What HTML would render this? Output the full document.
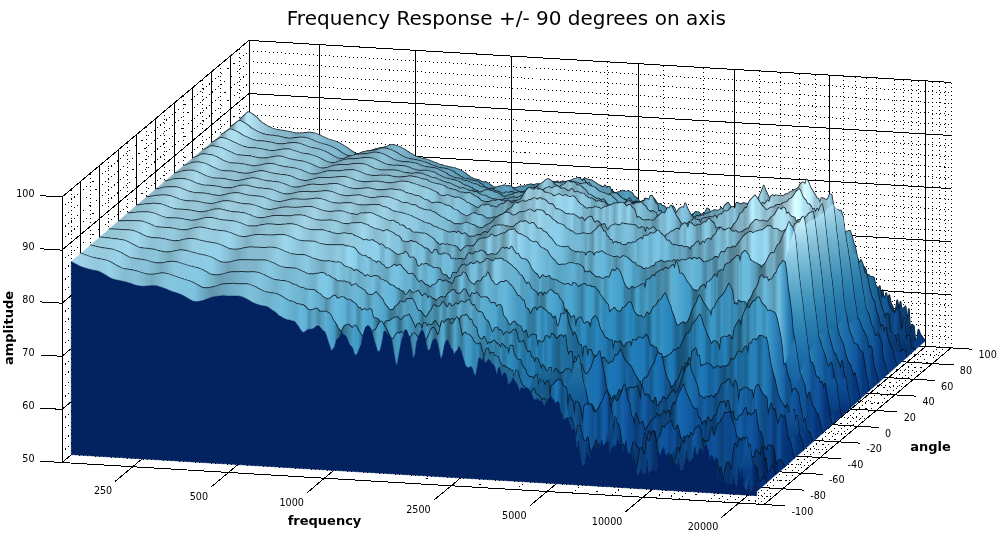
<!DOCTYPE html>
<html><head><meta charset="utf-8"><style>
html,body{margin:0;padding:0;background:#fff}
svg{display:block}
text{font-family:"DejaVu Sans","Liberation Sans",sans-serif;fill:#000}
.s path{stroke-width:2;stroke-linejoin:round}
.s .ln{fill:none;stroke:#050c14;stroke-width:7.2}
</style></head><body>
<svg width="1000" height="538" viewBox="0 0 1000 538">
<defs><linearGradient id="g0" gradientUnits="userSpaceOnUse" x1="921" x2="3701" y1="0" y2="0"><stop offset="0.008" stop-color="#6e909c"/><stop offset="0.015" stop-color="#74949f"/><stop offset="0.024" stop-color="#b8e7f8"/><stop offset="0.064" stop-color="#86b6c9"/><stop offset="0.083" stop-color="#87b9cd"/><stop offset="0.097" stop-color="#78a5b6"/><stop offset="0.123" stop-color="#8bc0d4"/><stop offset="0.142" stop-color="#7eb2c7"/><stop offset="0.166" stop-color="#7bb5cd"/><stop offset="0.177" stop-color="#6ca4bb"/><stop offset="0.184" stop-color="#527c8d"/><stop offset="0.187" stop-color="#527b8c"/><stop offset="0.206" stop-color="#6491a3"/><stop offset="0.222" stop-color="#638d9e"/><stop offset="0.229" stop-color="#79acc0"/><stop offset="0.243" stop-color="#7fb8cf"/><stop offset="0.272" stop-color="#689eb4"/><stop offset="0.312" stop-color="#5e96ad"/><stop offset="0.333" stop-color="#61a2be"/><stop offset="0.347" stop-color="#4f89a3"/><stop offset="0.359" stop-color="#4d88a2"/><stop offset="0.368" stop-color="#5397b5"/><stop offset="0.382" stop-color="#4785a1"/><stop offset="0.389" stop-color="#396a80"/><stop offset="0.408" stop-color="#437a92"/><stop offset="0.413" stop-color="#4f91ae"/><stop offset="0.427" stop-color="#4d8eab"/><stop offset="0.434" stop-color="#467f98"/><stop offset="0.441" stop-color="#5192af"/><stop offset="0.453" stop-color="#5198b7"/><stop offset="0.460" stop-color="#3e7791"/><stop offset="0.472" stop-color="#396a81"/><stop offset="0.484" stop-color="#47849f"/><stop offset="0.491" stop-color="#3a6b80"/><stop offset="0.502" stop-color="#406f83"/><stop offset="0.507" stop-color="#4b7f95"/><stop offset="0.516" stop-color="#447185"/><stop offset="0.524" stop-color="#538ba3"/><stop offset="0.533" stop-color="#5693ad"/><stop offset="0.549" stop-color="#457b92"/><stop offset="0.571" stop-color="#57a2c3"/><stop offset="0.587" stop-color="#3d7893"/><stop offset="0.592" stop-color="#3f7e9a"/><stop offset="0.597" stop-color="#366c84"/><stop offset="0.604" stop-color="#4a91b1"/><stop offset="0.606" stop-color="#4991b1"/><stop offset="0.613" stop-color="#39728c"/><stop offset="0.618" stop-color="#3e819f"/><stop offset="0.627" stop-color="#336e89"/><stop offset="0.639" stop-color="#377c9d"/><stop offset="0.648" stop-color="#347899"/><stop offset="0.653" stop-color="#2b637f"/><stop offset="0.658" stop-color="#2b627d"/><stop offset="0.665" stop-color="#3d8bb0"/><stop offset="0.670" stop-color="#347b9d"/><stop offset="0.688" stop-color="#2c6e90"/><stop offset="0.698" stop-color="#235a76"/><stop offset="0.712" stop-color="#2d647d"/><stop offset="0.717" stop-color="#3b7d9c"/><stop offset="0.721" stop-color="#3a81a2"/><stop offset="0.731" stop-color="#2e6d8b"/><stop offset="0.735" stop-color="#31789c"/><stop offset="0.754" stop-color="#2a7daa"/><stop offset="0.768" stop-color="#1d5574"/><stop offset="0.773" stop-color="#24668a"/><stop offset="0.785" stop-color="#266f97"/><stop offset="0.794" stop-color="#1c5576"/><stop offset="0.813" stop-color="#1f6a96"/><stop offset="0.825" stop-color="#17547c"/><stop offset="0.837" stop-color="#175985"/><stop offset="0.844" stop-color="#144f78"/><stop offset="0.851" stop-color="#165784"/><stop offset="0.863" stop-color="#134d75"/><stop offset="0.870" stop-color="#186398"/><stop offset="0.884" stop-color="#114b78"/><stop offset="0.886" stop-color="#125082"/><stop offset="0.888" stop-color="#104773"/><stop offset="0.891" stop-color="#125183"/><stop offset="0.896" stop-color="#104877"/><stop offset="0.903" stop-color="#115086"/><stop offset="0.907" stop-color="#0e3f6a"/><stop offset="0.914" stop-color="#114d80"/><stop offset="0.917" stop-color="#104a7a"/><stop offset="0.924" stop-color="#145c9a"/><stop offset="0.929" stop-color="#0e4475"/><stop offset="0.936" stop-color="#114e83"/><stop offset="0.938" stop-color="#0f4472"/><stop offset="0.945" stop-color="#104d84"/><stop offset="0.947" stop-color="#0d4273"/><stop offset="0.954" stop-color="#0d4375"/><stop offset="0.957" stop-color="#0f4b85"/><stop offset="0.959" stop-color="#0c4174"/><stop offset="0.966" stop-color="#0c3e71"/><stop offset="0.969" stop-color="#0d4680"/><stop offset="0.971" stop-color="#0a396d"/><stop offset="0.980" stop-color="#062d60"/><stop offset="0.987" stop-color="#073c82"/><stop offset="0.992" stop-color="#06387e"/></linearGradient><linearGradient id="g1" gradientUnits="userSpaceOnUse" x1="0" x2="0" y1="1225" y2="1368"><stop offset="0.00" stop-color="#0d4477"/><stop offset="0.20" stop-color="#0c3f73"/><stop offset="0.40" stop-color="#0b3b70"/><stop offset="0.60" stop-color="#09376c"/><stop offset="0.80" stop-color="#073267"/><stop offset="1.00" stop-color="#052c60"/></linearGradient><linearGradient id="g2" gradientUnits="userSpaceOnUse" x1="884" x2="3663" y1="0" y2="0"><stop offset="0.008" stop-color="#7194a0"/><stop offset="0.015" stop-color="#74949f"/><stop offset="0.024" stop-color="#b2e1f1"/><stop offset="0.034" stop-color="#aee1f3"/><stop offset="0.064" stop-color="#8ab9cb"/><stop offset="0.083" stop-color="#8dbed1"/><stop offset="0.100" stop-color="#7da9b9"/><stop offset="0.123" stop-color="#91c4d7"/><stop offset="0.142" stop-color="#85b7ca"/><stop offset="0.166" stop-color="#83bbd1"/><stop offset="0.177" stop-color="#75aac0"/><stop offset="0.187" stop-color="#5c8596"/><stop offset="0.208" stop-color="#6f9dae"/><stop offset="0.222" stop-color="#6d97a7"/><stop offset="0.229" stop-color="#7eaec1"/><stop offset="0.246" stop-color="#86bdd3"/><stop offset="0.272" stop-color="#6fa2b6"/><stop offset="0.293" stop-color="#73aac1"/><stop offset="0.312" stop-color="#6598ad"/><stop offset="0.330" stop-color="#6da9c2"/><stop offset="0.347" stop-color="#5990a7"/><stop offset="0.368" stop-color="#5e9cb7"/><stop offset="0.387" stop-color="#4b8198"/><stop offset="0.411" stop-color="#5ea3c1"/><stop offset="0.436" stop-color="#44778d"/><stop offset="0.448" stop-color="#47798e"/><stop offset="0.455" stop-color="#5189a2"/><stop offset="0.462" stop-color="#447489"/><stop offset="0.469" stop-color="#427084"/><stop offset="0.507" stop-color="#548396"/><stop offset="0.514" stop-color="#4f7a8c"/><stop offset="0.524" stop-color="#69a2b9"/><stop offset="0.540" stop-color="#68a6c1"/><stop offset="0.547" stop-color="#5d98b2"/><stop offset="0.561" stop-color="#5998b3"/><stop offset="0.571" stop-color="#4b8199"/><stop offset="0.585" stop-color="#5496b2"/><stop offset="0.587" stop-color="#4c89a3"/><stop offset="0.594" stop-color="#4b8aa6"/><stop offset="0.599" stop-color="#40758c"/><stop offset="0.611" stop-color="#4d8ba6"/><stop offset="0.613" stop-color="#49849e"/><stop offset="0.615" stop-color="#5293b0"/><stop offset="0.620" stop-color="#5296b4"/><stop offset="0.622" stop-color="#4b89a4"/><stop offset="0.632" stop-color="#519abb"/><stop offset="0.646" stop-color="#3e7f9d"/><stop offset="0.662" stop-color="#3f8aac"/><stop offset="0.670" stop-color="#306b87"/><stop offset="0.677" stop-color="#377591"/><stop offset="0.679" stop-color="#356d87"/><stop offset="0.681" stop-color="#3d7d9a"/><stop offset="0.688" stop-color="#326880"/><stop offset="0.693" stop-color="#3a7792"/><stop offset="0.707" stop-color="#367591"/><stop offset="0.717" stop-color="#3e86a7"/><stop offset="0.719" stop-color="#367592"/><stop offset="0.724" stop-color="#3a7793"/><stop offset="0.735" stop-color="#4894b7"/><stop offset="0.745" stop-color="#347491"/><stop offset="0.754" stop-color="#347ea2"/><stop offset="0.764" stop-color="#2c749a"/><stop offset="0.766" stop-color="#27698b"/><stop offset="0.768" stop-color="#2a7095"/><stop offset="0.775" stop-color="#235b78"/><stop offset="0.780" stop-color="#2a6a8b"/><stop offset="0.790" stop-color="#2a6685"/><stop offset="0.799" stop-color="#327b9f"/><stop offset="0.804" stop-color="#3b93c0"/><stop offset="0.820" stop-color="#215d7e"/><stop offset="0.827" stop-color="#215f80"/><stop offset="0.830" stop-color="#1e5674"/><stop offset="0.851" stop-color="#1d5573"/><stop offset="0.858" stop-color="#20668d"/><stop offset="0.863" stop-color="#1c5d83"/><stop offset="0.870" stop-color="#1f6a9a"/><stop offset="0.884" stop-color="#17567f"/><stop offset="0.891" stop-color="#196191"/><stop offset="0.893" stop-color="#165783"/><stop offset="0.900" stop-color="#175d8e"/><stop offset="0.903" stop-color="#14517d"/><stop offset="0.905" stop-color="#155583"/><stop offset="0.912" stop-color="#11466d"/><stop offset="0.914" stop-color="#134f7a"/><stop offset="0.931" stop-color="#12486e"/><stop offset="0.933" stop-color="#16547e"/><stop offset="0.943" stop-color="#14517b"/><stop offset="0.945" stop-color="#15598a"/><stop offset="0.947" stop-color="#134e7a"/><stop offset="0.954" stop-color="#145d9a"/><stop offset="0.959" stop-color="#12599a"/><stop offset="0.964" stop-color="#0d4376"/><stop offset="0.971" stop-color="#0e4f94"/><stop offset="0.978" stop-color="#09366a"/><stop offset="0.980" stop-color="#093c78"/><stop offset="0.987" stop-color="#06316a"/><stop offset="0.992" stop-color="#063677"/></linearGradient><linearGradient id="g3" gradientUnits="userSpaceOnUse" x1="0" x2="0" y1="1275" y2="1411"><stop offset="0.00" stop-color="#0e4982"/><stop offset="0.20" stop-color="#0d447e"/><stop offset="0.40" stop-color="#0b407a"/><stop offset="0.60" stop-color="#0a3b76"/><stop offset="0.80" stop-color="#07356f"/><stop offset="1.00" stop-color="#052e68"/></linearGradient><linearGradient id="g4" gradientUnits="userSpaceOnUse" x1="846" x2="3626" y1="0" y2="0"><stop offset="0.008" stop-color="#769ba7"/><stop offset="0.015" stop-color="#7798a3"/><stop offset="0.024" stop-color="#acd9e9"/><stop offset="0.034" stop-color="#addff0"/><stop offset="0.064" stop-color="#8ebdce"/><stop offset="0.086" stop-color="#91c2d4"/><stop offset="0.102" stop-color="#81acbc"/><stop offset="0.126" stop-color="#96c8db"/><stop offset="0.142" stop-color="#8bbccf"/><stop offset="0.166" stop-color="#8bc2d7"/><stop offset="0.177" stop-color="#7cb1c6"/><stop offset="0.187" stop-color="#6690a0"/><stop offset="0.208" stop-color="#79a7b9"/><stop offset="0.222" stop-color="#76a0b1"/><stop offset="0.248" stop-color="#8dc3d8"/><stop offset="0.272" stop-color="#75a6b9"/><stop offset="0.293" stop-color="#7eb5ca"/><stop offset="0.312" stop-color="#6e9fb3"/><stop offset="0.330" stop-color="#77b0c7"/><stop offset="0.347" stop-color="#659aaf"/><stop offset="0.380" stop-color="#66a4be"/><stop offset="0.392" stop-color="#609eb8"/><stop offset="0.394" stop-color="#558da4"/><stop offset="0.399" stop-color="#52879c"/><stop offset="0.408" stop-color="#5a94ac"/><stop offset="0.415" stop-color="#52889f"/><stop offset="0.427" stop-color="#5b99b3"/><stop offset="0.434" stop-color="#4b7e93"/><stop offset="0.443" stop-color="#487689"/><stop offset="0.455" stop-color="#609ab2"/><stop offset="0.458" stop-color="#5a90a7"/><stop offset="0.465" stop-color="#5f98b0"/><stop offset="0.469" stop-color="#56889e"/><stop offset="0.474" stop-color="#5e96ad"/><stop offset="0.481" stop-color="#4f7a8c"/><stop offset="0.488" stop-color="#547f90"/><stop offset="0.491" stop-color="#6091a5"/><stop offset="0.502" stop-color="#6698ac"/><stop offset="0.516" stop-color="#5f8c9e"/><stop offset="0.524" stop-color="#76adc4"/><stop offset="0.547" stop-color="#659bb1"/><stop offset="0.554" stop-color="#568599"/><stop offset="0.561" stop-color="#6198af"/><stop offset="0.568" stop-color="#548599"/><stop offset="0.578" stop-color="#66a3bd"/><stop offset="0.592" stop-color="#63a8c5"/><stop offset="0.599" stop-color="#4d869e"/><stop offset="0.615" stop-color="#528da6"/><stop offset="0.622" stop-color="#437286"/><stop offset="0.639" stop-color="#589dbc"/><stop offset="0.651" stop-color="#3f7891"/><stop offset="0.662" stop-color="#447f9a"/><stop offset="0.670" stop-color="#3e7087"/><stop offset="0.681" stop-color="#529aba"/><stop offset="0.688" stop-color="#427c96"/><stop offset="0.693" stop-color="#529bbc"/><stop offset="0.700" stop-color="#45829e"/><stop offset="0.705" stop-color="#4888a5"/><stop offset="0.719" stop-color="#3a6b80"/><stop offset="0.728" stop-color="#4b8fae"/><stop offset="0.731" stop-color="#4383a0"/><stop offset="0.733" stop-color="#498ead"/><stop offset="0.735" stop-color="#407d98"/><stop offset="0.738" stop-color="#4283a1"/><stop offset="0.740" stop-color="#3b748e"/><stop offset="0.743" stop-color="#4789a7"/><stop offset="0.745" stop-color="#4383a0"/><stop offset="0.752" stop-color="#51a5cb"/><stop offset="0.771" stop-color="#2e6985"/><stop offset="0.773" stop-color="#357796"/><stop offset="0.778" stop-color="#357999"/><stop offset="0.790" stop-color="#2d6782"/><stop offset="0.797" stop-color="#3780a2"/><stop offset="0.801" stop-color="#2e6b89"/><stop offset="0.808" stop-color="#2e6b89"/><stop offset="0.811" stop-color="#29607b"/><stop offset="0.839" stop-color="#30647c"/><stop offset="0.841" stop-color="#38738e"/><stop offset="0.848" stop-color="#37718b"/><stop offset="0.853" stop-color="#4187a6"/><stop offset="0.858" stop-color="#3d89ac"/><stop offset="0.870" stop-color="#2e779d"/><stop offset="0.877" stop-color="#205c7c"/><stop offset="0.893" stop-color="#1b5779"/><stop offset="0.900" stop-color="#1e638b"/><stop offset="0.903" stop-color="#1b587c"/><stop offset="0.914" stop-color="#1b587b"/><stop offset="0.917" stop-color="#1e6188"/><stop offset="0.924" stop-color="#195477"/><stop offset="0.940" stop-color="#1e6086"/><stop offset="0.947" stop-color="#2070a2"/><stop offset="0.969" stop-color="#0f4b86"/><stop offset="0.973" stop-color="#0b3c6f"/><stop offset="0.976" stop-color="#0c447e"/><stop offset="0.978" stop-color="#0a396d"/><stop offset="0.980" stop-color="#0b407a"/><stop offset="0.992" stop-color="#073a7f"/></linearGradient><linearGradient id="g5" gradientUnits="userSpaceOnUse" x1="0" x2="0" y1="1312" y2="1411"><stop offset="0.00" stop-color="#0d447a"/><stop offset="0.20" stop-color="#0c4177"/><stop offset="0.40" stop-color="#0b3d75"/><stop offset="0.60" stop-color="#0a3a72"/><stop offset="0.80" stop-color="#09376f"/><stop offset="1.00" stop-color="#07336a"/></linearGradient><linearGradient id="g6" gradientUnits="userSpaceOnUse" x1="809" x2="3588" y1="0" y2="0"><stop offset="0.008" stop-color="#7ba1ae"/><stop offset="0.015" stop-color="#7a9da9"/><stop offset="0.024" stop-color="#a6d2e1"/><stop offset="0.034" stop-color="#abdbec"/><stop offset="0.067" stop-color="#90bfd0"/><stop offset="0.086" stop-color="#94c5d7"/><stop offset="0.104" stop-color="#82adbd"/><stop offset="0.126" stop-color="#99cbdd"/><stop offset="0.144" stop-color="#8ebfd1"/><stop offset="0.166" stop-color="#91c7dc"/><stop offset="0.189" stop-color="#6e98a8"/><stop offset="0.208" stop-color="#81afc0"/><stop offset="0.222" stop-color="#7ca8b8"/><stop offset="0.248" stop-color="#93c8dc"/><stop offset="0.272" stop-color="#7baabc"/><stop offset="0.293" stop-color="#84b8cd"/><stop offset="0.312" stop-color="#709daf"/><stop offset="0.330" stop-color="#80b5ca"/><stop offset="0.345" stop-color="#74a8bd"/><stop offset="0.366" stop-color="#76b0c7"/><stop offset="0.387" stop-color="#68a1b8"/><stop offset="0.396" stop-color="#57879b"/><stop offset="0.406" stop-color="#6ca8c1"/><stop offset="0.420" stop-color="#6aaac4"/><stop offset="0.439" stop-color="#528499"/><stop offset="0.453" stop-color="#639cb3"/><stop offset="0.479" stop-color="#507a8b"/><stop offset="0.500" stop-color="#5b8291"/><stop offset="0.509" stop-color="#78abbf"/><stop offset="0.516" stop-color="#7eb4c9"/><stop offset="0.524" stop-color="#6590a1"/><stop offset="0.531" stop-color="#6590a0"/><stop offset="0.535" stop-color="#72a1b4"/><stop offset="0.540" stop-color="#6a96a7"/><stop offset="0.545" stop-color="#7bb0c4"/><stop offset="0.561" stop-color="#7ebad3"/><stop offset="0.580" stop-color="#6ea9c1"/><stop offset="0.589" stop-color="#70b2ce"/><stop offset="0.597" stop-color="#64a4bf"/><stop offset="0.604" stop-color="#477487"/><stop offset="0.613" stop-color="#4b798c"/><stop offset="0.620" stop-color="#5e95ab"/><stop offset="0.627" stop-color="#528295"/><stop offset="0.634" stop-color="#6eaec8"/><stop offset="0.646" stop-color="#477486"/><stop offset="0.648" stop-color="#477386"/><stop offset="0.660" stop-color="#5991a8"/><stop offset="0.662" stop-color="#53889e"/><stop offset="0.667" stop-color="#5993ab"/><stop offset="0.670" stop-color="#66a8c4"/><stop offset="0.674" stop-color="#67b0d0"/><stop offset="0.681" stop-color="#5da6c6"/><stop offset="0.688" stop-color="#437991"/><stop offset="0.702" stop-color="#3f6f84"/><stop offset="0.707" stop-color="#508ba5"/><stop offset="0.717" stop-color="#46778c"/><stop offset="0.724" stop-color="#68b1d0"/><stop offset="0.735" stop-color="#457d96"/><stop offset="0.747" stop-color="#4987a3"/><stop offset="0.757" stop-color="#3d768f"/><stop offset="0.764" stop-color="#427f9a"/><stop offset="0.768" stop-color="#38697f"/><stop offset="0.775" stop-color="#437c95"/><stop offset="0.790" stop-color="#38697f"/><stop offset="0.794" stop-color="#437e98"/><stop offset="0.801" stop-color="#386b82"/><stop offset="0.806" stop-color="#3e7893"/><stop offset="0.811" stop-color="#37697f"/><stop offset="0.841" stop-color="#497b90"/><stop offset="0.851" stop-color="#437285"/><stop offset="0.853" stop-color="#4c8198"/><stop offset="0.858" stop-color="#49819a"/><stop offset="0.860" stop-color="#42758a"/><stop offset="0.881" stop-color="#38697f"/><stop offset="0.888" stop-color="#40819e"/><stop offset="0.900" stop-color="#2e6782"/><stop offset="0.905" stop-color="#306d8a"/><stop offset="0.912" stop-color="#2a607a"/><stop offset="0.919" stop-color="#31708d"/><stop offset="0.926" stop-color="#2b6079"/><stop offset="0.933" stop-color="#2d627a"/><stop offset="0.945" stop-color="#347fa4"/><stop offset="0.966" stop-color="#155f9c"/><stop offset="0.973" stop-color="#0d4275"/><stop offset="0.980" stop-color="#0f5091"/><stop offset="0.992" stop-color="#06387c"/></linearGradient><linearGradient id="g7" gradientUnits="userSpaceOnUse" x1="772" x2="3551" y1="0" y2="0"><stop offset="0.008" stop-color="#80a7b4"/><stop offset="0.015" stop-color="#7da1ad"/><stop offset="0.024" stop-color="#a1ccdb"/><stop offset="0.043" stop-color="#a8daec"/><stop offset="0.067" stop-color="#90bfd0"/><stop offset="0.086" stop-color="#95c6d8"/><stop offset="0.104" stop-color="#82acbc"/><stop offset="0.126" stop-color="#9acbdc"/><stop offset="0.144" stop-color="#90c0d2"/><stop offset="0.166" stop-color="#94c9dd"/><stop offset="0.189" stop-color="#739dad"/><stop offset="0.208" stop-color="#85b3c4"/><stop offset="0.225" stop-color="#82aebe"/><stop offset="0.250" stop-color="#97cbde"/><stop offset="0.272" stop-color="#7facbe"/><stop offset="0.293" stop-color="#8abcce"/><stop offset="0.312" stop-color="#77a2b2"/><stop offset="0.326" stop-color="#85b5c8"/><stop offset="0.340" stop-color="#7daec0"/><stop offset="0.347" stop-color="#85bace"/><stop offset="0.359" stop-color="#79acc0"/><stop offset="0.375" stop-color="#79afc4"/><stop offset="0.382" stop-color="#6fa1b5"/><stop offset="0.387" stop-color="#78afc6"/><stop offset="0.401" stop-color="#699cb1"/><stop offset="0.418" stop-color="#73afc8"/><stop offset="0.429" stop-color="#669eb6"/><stop offset="0.436" stop-color="#548295"/><stop offset="0.451" stop-color="#5b8b9f"/><stop offset="0.455" stop-color="#6aa2b9"/><stop offset="0.462" stop-color="#537f91"/><stop offset="0.469" stop-color="#679db3"/><stop offset="0.474" stop-color="#578396"/><stop offset="0.484" stop-color="#567f8f"/><stop offset="0.493" stop-color="#6892a3"/><stop offset="0.498" stop-color="#618796"/><stop offset="0.505" stop-color="#94cce1"/><stop offset="0.509" stop-color="#92cae0"/><stop offset="0.524" stop-color="#618796"/><stop offset="0.528" stop-color="#648998"/><stop offset="0.533" stop-color="#83b3c5"/><stop offset="0.540" stop-color="#85b6c9"/><stop offset="0.542" stop-color="#90c6da"/><stop offset="0.549" stop-color="#75a3b4"/><stop offset="0.557" stop-color="#83b8ce"/><stop offset="0.566" stop-color="#74a6bb"/><stop offset="0.571" stop-color="#7ab1c7"/><stop offset="0.580" stop-color="#6a9cb1"/><stop offset="0.587" stop-color="#71a9c0"/><stop offset="0.592" stop-color="#6699ae"/><stop offset="0.599" stop-color="#6499af"/><stop offset="0.604" stop-color="#578699"/><stop offset="0.620" stop-color="#659aaf"/><stop offset="0.627" stop-color="#547d8e"/><stop offset="0.634" stop-color="#5f8da0"/><stop offset="0.644" stop-color="#5f8c9e"/><stop offset="0.658" stop-color="#83c3dd"/><stop offset="0.665" stop-color="#659fb6"/><stop offset="0.672" stop-color="#6aa9c3"/><stop offset="0.679" stop-color="#52879d"/><stop offset="0.681" stop-color="#5b96af"/><stop offset="0.686" stop-color="#4e8297"/><stop offset="0.695" stop-color="#497689"/><stop offset="0.714" stop-color="#548396"/><stop offset="0.721" stop-color="#649eb7"/><stop offset="0.728" stop-color="#508297"/><stop offset="0.740" stop-color="#598ea5"/><stop offset="0.752" stop-color="#4a7688"/><stop offset="0.773" stop-color="#4e788a"/><stop offset="0.794" stop-color="#619cb5"/><stop offset="0.806" stop-color="#487588"/><stop offset="0.825" stop-color="#5b8191"/><stop offset="0.834" stop-color="#6a97aa"/><stop offset="0.844" stop-color="#608a9a"/><stop offset="0.846" stop-color="#6a99ab"/><stop offset="0.856" stop-color="#6392a4"/><stop offset="0.860" stop-color="#58808f"/><stop offset="0.881" stop-color="#5a8190"/><stop offset="0.888" stop-color="#6d9fb3"/><stop offset="0.896" stop-color="#58889b"/><stop offset="0.912" stop-color="#467386"/><stop offset="0.936" stop-color="#4e798a"/><stop offset="0.943" stop-color="#62a3be"/><stop offset="0.959" stop-color="#1e70a6"/><stop offset="0.980" stop-color="#105598"/><stop offset="0.992" stop-color="#06377c"/></linearGradient><linearGradient id="g8" gradientUnits="userSpaceOnUse" x1="0" x2="0" y1="991" y2="1272"><stop offset="0.00" stop-color="#4f9bbd"/><stop offset="0.20" stop-color="#3d8eb5"/><stop offset="0.40" stop-color="#2e81ae"/><stop offset="0.60" stop-color="#2376a8"/><stop offset="0.80" stop-color="#1c6da4"/><stop offset="1.00" stop-color="#17639f"/></linearGradient><linearGradient id="g9" gradientUnits="userSpaceOnUse" x1="734" x2="3514" y1="0" y2="0"><stop offset="0.008" stop-color="#83abb9"/><stop offset="0.015" stop-color="#80a5b2"/><stop offset="0.024" stop-color="#9cc6d5"/><stop offset="0.043" stop-color="#aadced"/><stop offset="0.067" stop-color="#90bfd0"/><stop offset="0.088" stop-color="#94c5d7"/><stop offset="0.107" stop-color="#81abba"/><stop offset="0.128" stop-color="#9acbdd"/><stop offset="0.147" stop-color="#91c0d1"/><stop offset="0.168" stop-color="#96cade"/><stop offset="0.192" stop-color="#77a1b1"/><stop offset="0.210" stop-color="#8ab8c9"/><stop offset="0.232" stop-color="#8ab6c6"/><stop offset="0.250" stop-color="#9acee1"/><stop offset="0.272" stop-color="#82b0c1"/><stop offset="0.293" stop-color="#8fc0d2"/><stop offset="0.314" stop-color="#7ea8b8"/><stop offset="0.333" stop-color="#91c2d5"/><stop offset="0.354" stop-color="#88bbce"/><stop offset="0.373" stop-color="#8cc5dc"/><stop offset="0.382" stop-color="#78abbf"/><stop offset="0.389" stop-color="#7eb4c9"/><stop offset="0.401" stop-color="#71a2b6"/><stop offset="0.408" stop-color="#84bfd6"/><stop offset="0.420" stop-color="#7cb9d1"/><stop offset="0.427" stop-color="#73aec7"/><stop offset="0.434" stop-color="#578395"/><stop offset="0.439" stop-color="#6495a9"/><stop offset="0.443" stop-color="#6495a9"/><stop offset="0.446" stop-color="#6fa5bb"/><stop offset="0.453" stop-color="#6ca2b7"/><stop offset="0.455" stop-color="#77b2c9"/><stop offset="0.462" stop-color="#598596"/><stop offset="0.469" stop-color="#588293"/><stop offset="0.476" stop-color="#6797aa"/><stop offset="0.484" stop-color="#5a8292"/><stop offset="0.498" stop-color="#628795"/><stop offset="0.507" stop-color="#85b3c4"/><stop offset="0.514" stop-color="#739baa"/><stop offset="0.524" stop-color="#8ebfd2"/><stop offset="0.528" stop-color="#85b3c4"/><stop offset="0.535" stop-color="#97cce1"/><stop offset="0.547" stop-color="#7ca9bb"/><stop offset="0.561" stop-color="#88bbce"/><stop offset="0.566" stop-color="#7fafc2"/><stop offset="0.573" stop-color="#90cae1"/><stop offset="0.585" stop-color="#86c2db"/><stop offset="0.587" stop-color="#74a9be"/><stop offset="0.592" stop-color="#6fa1b5"/><stop offset="0.601" stop-color="#7db6cd"/><stop offset="0.608" stop-color="#6290a2"/><stop offset="0.615" stop-color="#6a9aae"/><stop offset="0.620" stop-color="#598292"/><stop offset="0.625" stop-color="#5a8191"/><stop offset="0.632" stop-color="#5e8595"/><stop offset="0.639" stop-color="#7cb0c5"/><stop offset="0.646" stop-color="#6a97a9"/><stop offset="0.655" stop-color="#89c6df"/><stop offset="0.670" stop-color="#6fa9c1"/><stop offset="0.672" stop-color="#76b5ce"/><stop offset="0.674" stop-color="#67a0b7"/><stop offset="0.681" stop-color="#649bb2"/><stop offset="0.688" stop-color="#517c8d"/><stop offset="0.705" stop-color="#587f8f"/><stop offset="0.710" stop-color="#77abbf"/><stop offset="0.719" stop-color="#87c8e3"/><stop offset="0.726" stop-color="#77b9d4"/><stop offset="0.731" stop-color="#58899d"/><stop offset="0.733" stop-color="#538092"/><stop offset="0.743" stop-color="#5e8da0"/><stop offset="0.747" stop-color="#71aac1"/><stop offset="0.754" stop-color="#5d8a9c"/><stop offset="0.759" stop-color="#6fa3b8"/><stop offset="0.764" stop-color="#6492a5"/><stop offset="0.766" stop-color="#6d9fb3"/><stop offset="0.768" stop-color="#6898ab"/><stop offset="0.771" stop-color="#7ab1c7"/><stop offset="0.773" stop-color="#6b9aac"/><stop offset="0.775" stop-color="#7cb1c7"/><stop offset="0.780" stop-color="#81b8ce"/><stop offset="0.785" stop-color="#71a2b5"/><stop offset="0.790" stop-color="#6fa0b4"/><stop offset="0.794" stop-color="#5d8697"/><stop offset="0.804" stop-color="#5a8190"/><stop offset="0.825" stop-color="#6a8d9a"/><stop offset="0.830" stop-color="#9dcee0"/><stop offset="0.832" stop-color="#9ed3e7"/><stop offset="0.834" stop-color="#96cadd"/><stop offset="0.837" stop-color="#80adbd"/><stop offset="0.839" stop-color="#88b7c8"/><stop offset="0.841" stop-color="#769ead"/><stop offset="0.851" stop-color="#7da6b6"/><stop offset="0.853" stop-color="#6e919e"/><stop offset="0.858" stop-color="#7396a3"/><stop offset="0.863" stop-color="#85aebd"/><stop offset="0.870" stop-color="#6f919c"/><stop offset="0.879" stop-color="#82a5b1"/><stop offset="0.886" stop-color="#7795a0"/><stop offset="0.903" stop-color="#81a6b3"/><stop offset="0.912" stop-color="#6b8f9c"/><stop offset="0.917" stop-color="#6e93a1"/><stop offset="0.919" stop-color="#7aa4b4"/><stop offset="0.926" stop-color="#6b8e9c"/><stop offset="0.936" stop-color="#6b8d9a"/><stop offset="0.943" stop-color="#86bed5"/><stop offset="0.957" stop-color="#257aac"/><stop offset="0.973" stop-color="#1461a5"/><stop offset="0.978" stop-color="#10518e"/><stop offset="0.985" stop-color="#0e4e91"/><stop offset="0.992" stop-color="#06377b"/></linearGradient><linearGradient id="g10" gradientUnits="userSpaceOnUse" x1="0" x2="0" y1="817" y2="1297"><stop offset="0.00" stop-color="#a0d5e8"/><stop offset="0.20" stop-color="#77b7d1"/><stop offset="0.40" stop-color="#549fc0"/><stop offset="0.60" stop-color="#3688b2"/><stop offset="0.80" stop-color="#2275a8"/><stop offset="1.00" stop-color="#1865a0"/></linearGradient><linearGradient id="g11" gradientUnits="userSpaceOnUse" x1="697" x2="3476" y1="0" y2="0"><stop offset="0.008" stop-color="#86aebc"/><stop offset="0.017" stop-color="#87adba"/><stop offset="0.043" stop-color="#aadced"/><stop offset="0.069" stop-color="#8fbece"/><stop offset="0.088" stop-color="#94c5d7"/><stop offset="0.107" stop-color="#81aab9"/><stop offset="0.128" stop-color="#9acbdc"/><stop offset="0.147" stop-color="#91c0d1"/><stop offset="0.168" stop-color="#98ccdf"/><stop offset="0.192" stop-color="#7aa4b3"/><stop offset="0.210" stop-color="#8dbacb"/><stop offset="0.232" stop-color="#8ab6c5"/><stop offset="0.250" stop-color="#9dcfe2"/><stop offset="0.274" stop-color="#85b2c2"/><stop offset="0.293" stop-color="#94c5d7"/><stop offset="0.314" stop-color="#83aebe"/><stop offset="0.338" stop-color="#9cd0e3"/><stop offset="0.356" stop-color="#91c6d9"/><stop offset="0.363" stop-color="#97cfe5"/><stop offset="0.375" stop-color="#8dc7de"/><stop offset="0.382" stop-color="#75a4b7"/><stop offset="0.394" stop-color="#88c1d7"/><stop offset="0.401" stop-color="#7fb5cb"/><stop offset="0.406" stop-color="#8bc8e0"/><stop offset="0.425" stop-color="#7fbfd8"/><stop offset="0.434" stop-color="#598597"/><stop offset="0.441" stop-color="#77b0c7"/><stop offset="0.453" stop-color="#7dbad3"/><stop offset="0.455" stop-color="#7bb9d2"/><stop offset="0.460" stop-color="#6496ab"/><stop offset="0.467" stop-color="#6fa4b9"/><stop offset="0.472" stop-color="#6a9baf"/><stop offset="0.476" stop-color="#76acc2"/><stop offset="0.484" stop-color="#5d8697"/><stop offset="0.491" stop-color="#6791a2"/><stop offset="0.495" stop-color="#618694"/><stop offset="0.500" stop-color="#6a909e"/><stop offset="0.507" stop-color="#99ccdf"/><stop offset="0.519" stop-color="#8bb9ca"/><stop offset="0.526" stop-color="#9acde0"/><stop offset="0.531" stop-color="#88b5c6"/><stop offset="0.535" stop-color="#95c7da"/><stop offset="0.545" stop-color="#90c3d6"/><stop offset="0.552" stop-color="#9dd6eb"/><stop offset="0.564" stop-color="#96d0e6"/><stop offset="0.571" stop-color="#9ddbf4"/><stop offset="0.578" stop-color="#8bc6de"/><stop offset="0.585" stop-color="#8ac7df"/><stop offset="0.589" stop-color="#79b0c6"/><stop offset="0.597" stop-color="#7ab2c8"/><stop offset="0.601" stop-color="#6897a9"/><stop offset="0.608" stop-color="#8ac9e2"/><stop offset="0.611" stop-color="#7db6cd"/><stop offset="0.615" stop-color="#78aec4"/><stop offset="0.618" stop-color="#8ac8e2"/><stop offset="0.622" stop-color="#7bb3ca"/><stop offset="0.625" stop-color="#7db6cc"/><stop offset="0.627" stop-color="#8bcbe5"/><stop offset="0.634" stop-color="#70a3b7"/><stop offset="0.641" stop-color="#93d4ef"/><stop offset="0.648" stop-color="#7db5cc"/><stop offset="0.653" stop-color="#90d2ec"/><stop offset="0.655" stop-color="#8dcfea"/><stop offset="0.660" stop-color="#71a9c0"/><stop offset="0.662" stop-color="#6fa7bd"/><stop offset="0.665" stop-color="#78b5ce"/><stop offset="0.667" stop-color="#71abc3"/><stop offset="0.674" stop-color="#73afc8"/><stop offset="0.679" stop-color="#679eb4"/><stop offset="0.681" stop-color="#6fa9c1"/><stop offset="0.686" stop-color="#6ca5bc"/><stop offset="0.688" stop-color="#6294a8"/><stop offset="0.693" stop-color="#5f8ea1"/><stop offset="0.700" stop-color="#7ebcd5"/><stop offset="0.705" stop-color="#7ab5cd"/><stop offset="0.712" stop-color="#8ad0ed"/><stop offset="0.721" stop-color="#79b9d4"/><stop offset="0.728" stop-color="#598a9e"/><stop offset="0.733" stop-color="#527d8f"/><stop offset="0.738" stop-color="#547d8d"/><stop offset="0.743" stop-color="#75acc2"/><stop offset="0.747" stop-color="#72aac0"/><stop offset="0.750" stop-color="#6392a5"/><stop offset="0.752" stop-color="#6da2b7"/><stop offset="0.768" stop-color="#628d9f"/><stop offset="0.783" stop-color="#83bbd2"/><stop offset="0.792" stop-color="#7cb2c7"/><stop offset="0.797" stop-color="#8dcae2"/><stop offset="0.799" stop-color="#80b7cd"/><stop offset="0.804" stop-color="#81b6cb"/><stop offset="0.806" stop-color="#90cae2"/><stop offset="0.811" stop-color="#77a6b9"/><stop offset="0.818" stop-color="#6e96a5"/><stop offset="0.832" stop-color="#7aa2b0"/><stop offset="0.837" stop-color="#70919d"/><stop offset="0.841" stop-color="#7898a3"/><stop offset="0.846" stop-color="#93bac8"/><stop offset="0.853" stop-color="#a0cbda"/><stop offset="0.856" stop-color="#aedff0"/><stop offset="0.863" stop-color="#96c1d0"/><stop offset="0.867" stop-color="#99c3d1"/><stop offset="0.872" stop-color="#8bb0bc"/><stop offset="0.886" stop-color="#97b9c4"/><stop offset="0.893" stop-color="#869fa8"/><stop offset="0.900" stop-color="#98b1ba"/><stop offset="0.907" stop-color="#dafdff"/><stop offset="0.914" stop-color="#c8f3ff"/><stop offset="0.919" stop-color="#b4e1f0"/><stop offset="0.921" stop-color="#9cc6d4"/><stop offset="0.929" stop-color="#98c3d1"/><stop offset="0.931" stop-color="#a3d0e0"/><stop offset="0.933" stop-color="#8bb1be"/><stop offset="0.938" stop-color="#93b6c2"/><stop offset="0.943" stop-color="#9bd2e6"/><stop offset="0.957" stop-color="#2479ab"/><stop offset="0.980" stop-color="#115aa3"/><stop offset="0.992" stop-color="#06387b"/></linearGradient><linearGradient id="g12" gradientUnits="userSpaceOnUse" x1="0" x2="0" y1="817" y2="1304"><stop offset="0.00" stop-color="#b3e2f2"/><stop offset="0.20" stop-color="#84c0d9"/><stop offset="0.40" stop-color="#5fa7c6"/><stop offset="0.60" stop-color="#3d8fb7"/><stop offset="0.80" stop-color="#257aac"/><stop offset="1.00" stop-color="#1a6aa4"/></linearGradient><linearGradient id="g13" gradientUnits="userSpaceOnUse" x1="659" x2="3439" y1="0" y2="0"><stop offset="0.008" stop-color="#88b1c0"/><stop offset="0.017" stop-color="#88b0bd"/><stop offset="0.046" stop-color="#a8daeb"/><stop offset="0.069" stop-color="#90becf"/><stop offset="0.088" stop-color="#96c6d8"/><stop offset="0.107" stop-color="#81aab9"/><stop offset="0.128" stop-color="#9bcbdb"/><stop offset="0.149" stop-color="#93c1d2"/><stop offset="0.170" stop-color="#99ccdf"/><stop offset="0.192" stop-color="#7da7b6"/><stop offset="0.213" stop-color="#8fbdce"/><stop offset="0.232" stop-color="#8ab6c5"/><stop offset="0.250" stop-color="#9ed1e2"/><stop offset="0.274" stop-color="#87b4c4"/><stop offset="0.293" stop-color="#98cadc"/><stop offset="0.314" stop-color="#86b2c2"/><stop offset="0.338" stop-color="#9cd1e4"/><stop offset="0.354" stop-color="#8ec0d4"/><stop offset="0.373" stop-color="#90c8de"/><stop offset="0.382" stop-color="#7db0c4"/><stop offset="0.406" stop-color="#8ac9e1"/><stop offset="0.420" stop-color="#82c2dc"/><stop offset="0.434" stop-color="#6292a6"/><stop offset="0.443" stop-color="#7bb7cf"/><stop offset="0.453" stop-color="#7ebfda"/><stop offset="0.465" stop-color="#6093a7"/><stop offset="0.481" stop-color="#598191"/><stop offset="0.495" stop-color="#668e9d"/><stop offset="0.502" stop-color="#8bc0d4"/><stop offset="0.509" stop-color="#8bc0d4"/><stop offset="0.512" stop-color="#7eadbf"/><stop offset="0.516" stop-color="#79a4b5"/><stop offset="0.526" stop-color="#8fc0d3"/><stop offset="0.531" stop-color="#87b5c6"/><stop offset="0.535" stop-color="#9ed3e7"/><stop offset="0.547" stop-color="#8ec1d4"/><stop offset="0.552" stop-color="#98cfe4"/><stop offset="0.559" stop-color="#87bcd1"/><stop offset="0.561" stop-color="#90c9e0"/><stop offset="0.568" stop-color="#8dc9e1"/><stop offset="0.575" stop-color="#7fb8ce"/><stop offset="0.585" stop-color="#8acbe5"/><stop offset="0.587" stop-color="#89cae5"/><stop offset="0.589" stop-color="#79b4cc"/><stop offset="0.597" stop-color="#79b7d0"/><stop offset="0.601" stop-color="#6496aa"/><stop offset="0.608" stop-color="#85c6e1"/><stop offset="0.613" stop-color="#73afc7"/><stop offset="0.615" stop-color="#71aac1"/><stop offset="0.618" stop-color="#7bbad4"/><stop offset="0.622" stop-color="#6599ae"/><stop offset="0.627" stop-color="#689cb2"/><stop offset="0.632" stop-color="#5e8da1"/><stop offset="0.644" stop-color="#81c5e1"/><stop offset="0.651" stop-color="#71aec8"/><stop offset="0.665" stop-color="#7dc3e0"/><stop offset="0.674" stop-color="#76b9d5"/><stop offset="0.677" stop-color="#69a5be"/><stop offset="0.686" stop-color="#6aa6bf"/><stop offset="0.688" stop-color="#5e91a6"/><stop offset="0.691" stop-color="#6ba4bc"/><stop offset="0.693" stop-color="#5d8fa4"/><stop offset="0.695" stop-color="#6ba4bb"/><stop offset="0.700" stop-color="#74b2cb"/><stop offset="0.714" stop-color="#537e90"/><stop offset="0.726" stop-color="#75b2cb"/><stop offset="0.731" stop-color="#76b5cf"/><stop offset="0.733" stop-color="#6aa3ba"/><stop offset="0.735" stop-color="#6da8c0"/><stop offset="0.738" stop-color="#6499af"/><stop offset="0.743" stop-color="#7ebfda"/><stop offset="0.750" stop-color="#74b1ca"/><stop offset="0.752" stop-color="#86cdea"/><stop offset="0.759" stop-color="#7cbed9"/><stop offset="0.764" stop-color="#6da7bf"/><stop offset="0.766" stop-color="#5c8ca0"/><stop offset="0.768" stop-color="#6699af"/><stop offset="0.771" stop-color="#5f8ea1"/><stop offset="0.773" stop-color="#74acc3"/><stop offset="0.778" stop-color="#88cae4"/><stop offset="0.783" stop-color="#84c5e0"/><stop offset="0.787" stop-color="#6ea5bb"/><stop offset="0.794" stop-color="#679aae"/><stop offset="0.797" stop-color="#588394"/><stop offset="0.804" stop-color="#577f8f"/><stop offset="0.806" stop-color="#638fa1"/><stop offset="0.816" stop-color="#5c8392"/><stop offset="0.823" stop-color="#80b1c4"/><stop offset="0.832" stop-color="#85b4c6"/><stop offset="0.834" stop-color="#7ba5b5"/><stop offset="0.839" stop-color="#89b5c5"/><stop offset="0.844" stop-color="#b2e8fc"/><stop offset="0.846" stop-color="#b8f2ff"/><stop offset="0.851" stop-color="#a6daec"/><stop offset="0.856" stop-color="#a4d8eb"/><stop offset="0.863" stop-color="#8cb8c8"/><stop offset="0.870" stop-color="#98c7d8"/><stop offset="0.879" stop-color="#7ea2ae"/><stop offset="0.888" stop-color="#7e9ba5"/><stop offset="0.891" stop-color="#95b6c1"/><stop offset="0.900" stop-color="#b0d4e0"/><stop offset="0.903" stop-color="#c3ebf8"/><stop offset="0.907" stop-color="#daffff"/><stop offset="0.914" stop-color="#c7fbff"/><stop offset="0.919" stop-color="#b1e3f4"/><stop offset="0.926" stop-color="#aadced"/><stop offset="0.929" stop-color="#92bdcc"/><stop offset="0.931" stop-color="#97c2d1"/><stop offset="0.933" stop-color="#85a9b6"/><stop offset="0.938" stop-color="#8fb2be"/><stop offset="0.943" stop-color="#9bd1e6"/><stop offset="0.952" stop-color="#4394b8"/><stop offset="0.959" stop-color="#1f72a7"/><stop offset="0.976" stop-color="#11579a"/><stop offset="0.983" stop-color="#0c4279"/><stop offset="0.985" stop-color="#0d4886"/><stop offset="0.992" stop-color="#06377b"/></linearGradient><linearGradient id="g14" gradientUnits="userSpaceOnUse" x1="0" x2="0" y1="850" y2="1323"><stop offset="0.00" stop-color="#b0e0f0"/><stop offset="0.20" stop-color="#84bfd8"/><stop offset="0.40" stop-color="#60a7c5"/><stop offset="0.60" stop-color="#3f90b7"/><stop offset="0.80" stop-color="#267bab"/><stop offset="1.00" stop-color="#1b6ba4"/></linearGradient><linearGradient id="g15" gradientUnits="userSpaceOnUse" x1="622" x2="3401" y1="0" y2="0"><stop offset="0.008" stop-color="#8bb5c4"/><stop offset="0.017" stop-color="#8ab2c0"/><stop offset="0.046" stop-color="#a7d8e9"/><stop offset="0.069" stop-color="#92c0d1"/><stop offset="0.090" stop-color="#96c7d8"/><stop offset="0.109" stop-color="#83abba"/><stop offset="0.130" stop-color="#9dcdde"/><stop offset="0.149" stop-color="#94c3d3"/><stop offset="0.170" stop-color="#9ccfe2"/><stop offset="0.194" stop-color="#80aab9"/><stop offset="0.213" stop-color="#92c0d0"/><stop offset="0.234" stop-color="#8db8c7"/><stop offset="0.253" stop-color="#a0d2e4"/><stop offset="0.274" stop-color="#89b6c7"/><stop offset="0.293" stop-color="#9accde"/><stop offset="0.316" stop-color="#88b4c4"/><stop offset="0.330" stop-color="#9ccfe1"/><stop offset="0.345" stop-color="#9dd3e8"/><stop offset="0.352" stop-color="#8fc2d5"/><stop offset="0.371" stop-color="#93cbe1"/><stop offset="0.420" stop-color="#7dbbd4"/><stop offset="0.434" stop-color="#669ab0"/><stop offset="0.439" stop-color="#699eb4"/><stop offset="0.446" stop-color="#7dbcd6"/><stop offset="0.451" stop-color="#73aec6"/><stop offset="0.455" stop-color="#78b8d2"/><stop offset="0.467" stop-color="#5a899c"/><stop offset="0.472" stop-color="#679bb0"/><stop offset="0.479" stop-color="#588293"/><stop offset="0.481" stop-color="#6899ad"/><stop offset="0.484" stop-color="#6999ad"/><stop offset="0.488" stop-color="#5b8393"/><stop offset="0.505" stop-color="#8dc7de"/><stop offset="0.512" stop-color="#7baec2"/><stop offset="0.519" stop-color="#81b5ca"/><stop offset="0.528" stop-color="#6e98a7"/><stop offset="0.535" stop-color="#90c5d9"/><stop offset="0.540" stop-color="#87b9cc"/><stop offset="0.542" stop-color="#91c6da"/><stop offset="0.549" stop-color="#91c7db"/><stop offset="0.552" stop-color="#9cd7ee"/><stop offset="0.559" stop-color="#90cbe2"/><stop offset="0.580" stop-color="#8bd0ed"/><stop offset="0.594" stop-color="#76b9d4"/><stop offset="0.613" stop-color="#74b8d5"/><stop offset="0.620" stop-color="#67a4bd"/><stop offset="0.622" stop-color="#71b3ce"/><stop offset="0.629" stop-color="#5d90a5"/><stop offset="0.634" stop-color="#80c6e2"/><stop offset="0.637" stop-color="#72b4cf"/><stop offset="0.641" stop-color="#6fafca"/><stop offset="0.644" stop-color="#7bc4e2"/><stop offset="0.651" stop-color="#629fb9"/><stop offset="0.665" stop-color="#68adca"/><stop offset="0.677" stop-color="#5a94ad"/><stop offset="0.688" stop-color="#6cb0cd"/><stop offset="0.691" stop-color="#75c0e0"/><stop offset="0.693" stop-color="#66a9c5"/><stop offset="0.707" stop-color="#76c2e2"/><stop offset="0.712" stop-color="#6aaeca"/><stop offset="0.719" stop-color="#79c4e4"/><stop offset="0.726" stop-color="#77c2e2"/><stop offset="0.728" stop-color="#6eb4d2"/><stop offset="0.735" stop-color="#75c0e0"/><stop offset="0.743" stop-color="#63a5c0"/><stop offset="0.752" stop-color="#66a9c5"/><stop offset="0.754" stop-color="#5d9bb5"/><stop offset="0.759" stop-color="#66a9c5"/><stop offset="0.764" stop-color="#5f9db8"/><stop offset="0.766" stop-color="#548aa0"/><stop offset="0.771" stop-color="#518499"/><stop offset="0.775" stop-color="#6badc8"/><stop offset="0.783" stop-color="#5c93aa"/><stop offset="0.787" stop-color="#639cb4"/><stop offset="0.790" stop-color="#73b5d0"/><stop offset="0.797" stop-color="#5e94aa"/><stop offset="0.804" stop-color="#679db3"/><stop offset="0.806" stop-color="#77b5ce"/><stop offset="0.811" stop-color="#7ebfda"/><stop offset="0.816" stop-color="#73aec5"/><stop offset="0.820" stop-color="#78b1c8"/><stop offset="0.823" stop-color="#89cbe5"/><stop offset="0.827" stop-color="#74abc1"/><stop offset="0.832" stop-color="#7db7cf"/><stop offset="0.844" stop-color="#618c9c"/><stop offset="0.851" stop-color="#628796"/><stop offset="0.856" stop-color="#6f96a5"/><stop offset="0.863" stop-color="#95c8da"/><stop offset="0.870" stop-color="#8dbdcf"/><stop offset="0.877" stop-color="#7298a5"/><stop offset="0.886" stop-color="#7698a4"/><stop offset="0.891" stop-color="#aad7e7"/><stop offset="0.903" stop-color="#b1e6f9"/><stop offset="0.912" stop-color="#a2d4e6"/><stop offset="0.919" stop-color="#7ca2b0"/><stop offset="0.926" stop-color="#71939e"/><stop offset="0.936" stop-color="#87a8b4"/><stop offset="0.940" stop-color="#a2cad8"/><stop offset="0.943" stop-color="#9fd4e8"/><stop offset="0.957" stop-color="#287dac"/><stop offset="0.973" stop-color="#145e9f"/><stop offset="0.978" stop-color="#104d86"/><stop offset="0.985" stop-color="#0f5093"/><stop offset="0.992" stop-color="#06367a"/></linearGradient><linearGradient id="g16" gradientUnits="userSpaceOnUse" x1="0" x2="0" y1="877" y2="1343"><stop offset="0.00" stop-color="#b4e2f2"/><stop offset="0.20" stop-color="#86c2d9"/><stop offset="0.40" stop-color="#63a9c7"/><stop offset="0.60" stop-color="#4192b8"/><stop offset="0.80" stop-color="#287dad"/><stop offset="1.00" stop-color="#1c6ea5"/></linearGradient><linearGradient id="g17" gradientUnits="userSpaceOnUse" x1="0" x2="0" y1="1512" y2="1667"><stop offset="0.00" stop-color="#0f5194"/><stop offset="0.20" stop-color="#0d4b8f"/><stop offset="0.40" stop-color="#0b458a"/><stop offset="0.60" stop-color="#083d81"/><stop offset="0.80" stop-color="#053478"/><stop offset="1.00" stop-color="#022c6e"/></linearGradient><linearGradient id="g18" gradientUnits="userSpaceOnUse" x1="585" x2="3364" y1="0" y2="0"><stop offset="0.008" stop-color="#8eb9c8"/><stop offset="0.017" stop-color="#8bb4c3"/><stop offset="0.048" stop-color="#a7d8ea"/><stop offset="0.069" stop-color="#94c2d3"/><stop offset="0.090" stop-color="#98c9da"/><stop offset="0.109" stop-color="#83acbb"/><stop offset="0.130" stop-color="#9ecedf"/><stop offset="0.152" stop-color="#96c4d5"/><stop offset="0.170" stop-color="#9dd1e4"/><stop offset="0.194" stop-color="#81abbb"/><stop offset="0.213" stop-color="#93c1d2"/><stop offset="0.234" stop-color="#8db8c8"/><stop offset="0.253" stop-color="#a1d3e5"/><stop offset="0.276" stop-color="#8bb8c8"/><stop offset="0.293" stop-color="#9ccfe1"/><stop offset="0.312" stop-color="#85b1c1"/><stop offset="0.342" stop-color="#9dd3e7"/><stop offset="0.359" stop-color="#8abdd0"/><stop offset="0.368" stop-color="#94cde3"/><stop offset="0.389" stop-color="#8ccae2"/><stop offset="0.396" stop-color="#80b9d0"/><stop offset="0.425" stop-color="#81c4df"/><stop offset="0.427" stop-color="#7dc0dc"/><stop offset="0.429" stop-color="#6fabc3"/><stop offset="0.434" stop-color="#6ca6be"/><stop offset="0.436" stop-color="#76b4ce"/><stop offset="0.441" stop-color="#71adc5"/><stop offset="0.446" stop-color="#7bbdd8"/><stop offset="0.451" stop-color="#71afc9"/><stop offset="0.455" stop-color="#7ec4e2"/><stop offset="0.462" stop-color="#598da2"/><stop offset="0.465" stop-color="#56879b"/><stop offset="0.472" stop-color="#6ba6be"/><stop offset="0.479" stop-color="#568395"/><stop offset="0.488" stop-color="#578191"/><stop offset="0.495" stop-color="#70a2b7"/><stop offset="0.500" stop-color="#6b9aad"/><stop offset="0.507" stop-color="#85bfd6"/><stop offset="0.526" stop-color="#618898"/><stop offset="0.540" stop-color="#96d0e7"/><stop offset="0.547" stop-color="#88c0d6"/><stop offset="0.554" stop-color="#93d2eb"/><stop offset="0.564" stop-color="#81bdd5"/><stop offset="0.571" stop-color="#87c8e3"/><stop offset="0.599" stop-color="#72bddd"/><stop offset="0.615" stop-color="#5894ad"/><stop offset="0.622" stop-color="#66abc9"/><stop offset="0.625" stop-color="#5a99b5"/><stop offset="0.629" stop-color="#5a97b1"/><stop offset="0.634" stop-color="#6ab5d5"/><stop offset="0.637" stop-color="#5a9cb9"/><stop offset="0.641" stop-color="#5594af"/><stop offset="0.644" stop-color="#62aac9"/><stop offset="0.648" stop-color="#6bbadc"/><stop offset="0.660" stop-color="#65b6da"/><stop offset="0.667" stop-color="#59a0bf"/><stop offset="0.670" stop-color="#5da7c7"/><stop offset="0.677" stop-color="#4a839b"/><stop offset="0.679" stop-color="#5796b1"/><stop offset="0.686" stop-color="#5fa4c2"/><stop offset="0.688" stop-color="#66b4d6"/><stop offset="0.693" stop-color="#60b4d8"/><stop offset="0.698" stop-color="#59afd5"/><stop offset="0.702" stop-color="#4d9bbe"/><stop offset="0.707" stop-color="#4f9dc1"/><stop offset="0.719" stop-color="#417e9a"/><stop offset="0.721" stop-color="#4b90ae"/><stop offset="0.731" stop-color="#48829c"/><stop offset="0.738" stop-color="#5395b1"/><stop offset="0.743" stop-color="#487d94"/><stop offset="0.757" stop-color="#5c9cb7"/><stop offset="0.761" stop-color="#4b7e94"/><stop offset="0.773" stop-color="#64a8c5"/><stop offset="0.785" stop-color="#69b9dc"/><stop offset="0.799" stop-color="#5babce"/><stop offset="0.801" stop-color="#4f93b2"/><stop offset="0.806" stop-color="#49849e"/><stop offset="0.808" stop-color="#5ba3c2"/><stop offset="0.811" stop-color="#5497b4"/><stop offset="0.813" stop-color="#5da4c4"/><stop offset="0.816" stop-color="#4e88a1"/><stop offset="0.820" stop-color="#497b90"/><stop offset="0.825" stop-color="#65a6c1"/><stop offset="0.832" stop-color="#639db6"/><stop offset="0.834" stop-color="#6cacc6"/><stop offset="0.841" stop-color="#527f91"/><stop offset="0.853" stop-color="#5f8a9b"/><stop offset="0.858" stop-color="#7eb4ca"/><stop offset="0.863" stop-color="#80b8ce"/><stop offset="0.865" stop-color="#709eb0"/><stop offset="0.872" stop-color="#9edef8"/><stop offset="0.884" stop-color="#90cee7"/><stop offset="0.893" stop-color="#98daf4"/><stop offset="0.900" stop-color="#75a6b9"/><stop offset="0.907" stop-color="#8bc2d7"/><stop offset="0.912" stop-color="#6f99a9"/><stop offset="0.921" stop-color="#6b8d9a"/><stop offset="0.929" stop-color="#7695a0"/><stop offset="0.931" stop-color="#90b2be"/><stop offset="0.933" stop-color="#90b2be"/><stop offset="0.936" stop-color="#a9d1df"/><stop offset="0.940" stop-color="#b4e7f8"/><stop offset="0.947" stop-color="#68afce"/><stop offset="0.957" stop-color="#267caf"/><stop offset="0.973" stop-color="#1563a8"/><stop offset="0.976" stop-color="#115492"/><stop offset="0.978" stop-color="#115390"/><stop offset="0.983" stop-color="#11589e"/><stop offset="0.992" stop-color="#053578"/></linearGradient><linearGradient id="g19" gradientUnits="userSpaceOnUse" x1="0" x2="0" y1="867" y2="1415"><stop offset="0.00" stop-color="#d2f8ff"/><stop offset="0.20" stop-color="#95cfe5"/><stop offset="0.40" stop-color="#68b0ce"/><stop offset="0.60" stop-color="#4194bc"/><stop offset="0.80" stop-color="#267caf"/><stop offset="1.00" stop-color="#1969a5"/></linearGradient><linearGradient id="g20" gradientUnits="userSpaceOnUse" x1="0" x2="0" y1="1514" y2="1667"><stop offset="0.00" stop-color="#11579a"/><stop offset="0.20" stop-color="#0f5195"/><stop offset="0.40" stop-color="#0d4b90"/><stop offset="0.60" stop-color="#0b468b"/><stop offset="0.80" stop-color="#083d82"/><stop offset="1.00" stop-color="#053579"/></linearGradient><linearGradient id="g21" gradientUnits="userSpaceOnUse" x1="547" x2="3327" y1="0" y2="0"><stop offset="0.008" stop-color="#8fbaca"/><stop offset="0.017" stop-color="#8db6c5"/><stop offset="0.050" stop-color="#a6d8ea"/><stop offset="0.071" stop-color="#93c2d2"/><stop offset="0.090" stop-color="#98c9db"/><stop offset="0.112" stop-color="#84adbc"/><stop offset="0.130" stop-color="#9ecedf"/><stop offset="0.152" stop-color="#95c4d5"/><stop offset="0.170" stop-color="#9ed1e4"/><stop offset="0.196" stop-color="#82adbc"/><stop offset="0.213" stop-color="#93c1d2"/><stop offset="0.234" stop-color="#8db9c8"/><stop offset="0.255" stop-color="#a1d4e6"/><stop offset="0.279" stop-color="#8cbacb"/><stop offset="0.298" stop-color="#9bcfe2"/><stop offset="0.307" stop-color="#92c4d7"/><stop offset="0.312" stop-color="#82afbf"/><stop offset="0.328" stop-color="#91c1d2"/><stop offset="0.333" stop-color="#9fd4e7"/><stop offset="0.342" stop-color="#9ed6eb"/><stop offset="0.363" stop-color="#87bace"/><stop offset="0.368" stop-color="#90c7dc"/><stop offset="0.387" stop-color="#8ac7e0"/><stop offset="0.399" stop-color="#72a7bc"/><stop offset="0.411" stop-color="#84c2db"/><stop offset="0.427" stop-color="#7abcd8"/><stop offset="0.434" stop-color="#57879b"/><stop offset="0.439" stop-color="#71b0ca"/><stop offset="0.441" stop-color="#73b4cf"/><stop offset="0.448" stop-color="#659eb6"/><stop offset="0.455" stop-color="#73b7d3"/><stop offset="0.462" stop-color="#55899e"/><stop offset="0.474" stop-color="#6babc5"/><stop offset="0.481" stop-color="#4d7889"/><stop offset="0.488" stop-color="#71abc3"/><stop offset="0.500" stop-color="#6394a7"/><stop offset="0.507" stop-color="#8dd1ed"/><stop offset="0.514" stop-color="#6fa5bb"/><stop offset="0.521" stop-color="#7db8d0"/><stop offset="0.528" stop-color="#6490a2"/><stop offset="0.538" stop-color="#94d4ee"/><stop offset="0.545" stop-color="#80b9d0"/><stop offset="0.547" stop-color="#83bdd4"/><stop offset="0.549" stop-color="#92d5f0"/><stop offset="0.564" stop-color="#7dbfda"/><stop offset="0.571" stop-color="#83cbe9"/><stop offset="0.592" stop-color="#67b1d2"/><stop offset="0.594" stop-color="#6ab9db"/><stop offset="0.606" stop-color="#5aa2c2"/><stop offset="0.629" stop-color="#61b1d4"/><stop offset="0.637" stop-color="#5197b6"/><stop offset="0.639" stop-color="#59a8cb"/><stop offset="0.641" stop-color="#4e96b5"/><stop offset="0.646" stop-color="#4c90ae"/><stop offset="0.651" stop-color="#539fc1"/><stop offset="0.655" stop-color="#4a90b0"/><stop offset="0.665" stop-color="#4991b1"/><stop offset="0.670" stop-color="#53a5ca"/><stop offset="0.674" stop-color="#468eaf"/><stop offset="0.681" stop-color="#53abd3"/><stop offset="0.698" stop-color="#439fcb"/><stop offset="0.700" stop-color="#3f96c1"/><stop offset="0.702" stop-color="#357ea2"/><stop offset="0.710" stop-color="#367ea0"/><stop offset="0.712" stop-color="#2f6b88"/><stop offset="0.714" stop-color="#337290"/><stop offset="0.719" stop-color="#47a1cb"/><stop offset="0.721" stop-color="#46a2cd"/><stop offset="0.726" stop-color="#3a88ae"/><stop offset="0.735" stop-color="#469ec7"/><stop offset="0.738" stop-color="#3e8cb1"/><stop offset="0.745" stop-color="#4493b7"/><stop offset="0.750" stop-color="#3e7f9d"/><stop offset="0.757" stop-color="#4a91b0"/><stop offset="0.761" stop-color="#45829d"/><stop offset="0.766" stop-color="#5094b1"/><stop offset="0.768" stop-color="#5eabce"/><stop offset="0.773" stop-color="#59afd5"/><stop offset="0.794" stop-color="#3f9bca"/><stop offset="0.797" stop-color="#3c94c0"/><stop offset="0.801" stop-color="#2c6b89"/><stop offset="0.806" stop-color="#2c627c"/><stop offset="0.808" stop-color="#387b99"/><stop offset="0.816" stop-color="#407e9a"/><stop offset="0.820" stop-color="#55aad0"/><stop offset="0.825" stop-color="#56add4"/><stop offset="0.827" stop-color="#4b99bc"/><stop offset="0.830" stop-color="#4c9bbf"/><stop offset="0.832" stop-color="#3f819f"/><stop offset="0.834" stop-color="#4c99bc"/><stop offset="0.837" stop-color="#417f9b"/><stop offset="0.841" stop-color="#437a92"/><stop offset="0.846" stop-color="#518fa9"/><stop offset="0.856" stop-color="#4d7f94"/><stop offset="0.863" stop-color="#64a6c2"/><stop offset="0.865" stop-color="#5a97b1"/><stop offset="0.867" stop-color="#6ab6d7"/><stop offset="0.870" stop-color="#62a9c7"/><stop offset="0.872" stop-color="#6dbcde"/><stop offset="0.881" stop-color="#68b9dc"/><stop offset="0.891" stop-color="#5799b6"/><stop offset="0.896" stop-color="#457589"/><stop offset="0.903" stop-color="#4b7789"/><stop offset="0.907" stop-color="#71acc4"/><stop offset="0.914" stop-color="#6fa7be"/><stop offset="0.917" stop-color="#78b3cc"/><stop offset="0.921" stop-color="#5f8a9c"/><stop offset="0.929" stop-color="#68909f"/><stop offset="0.936" stop-color="#b1ecff"/><stop offset="0.938" stop-color="#aeebff"/><stop offset="0.945" stop-color="#64adcc"/><stop offset="0.954" stop-color="#267db0"/><stop offset="0.969" stop-color="#1460a6"/><stop offset="0.971" stop-color="#0f4f8c"/><stop offset="0.980" stop-color="#10559e"/><stop offset="0.992" stop-color="#053478"/></linearGradient><linearGradient id="g22" gradientUnits="userSpaceOnUse" x1="0" x2="0" y1="925" y2="1491"><stop offset="0.00" stop-color="#c3f0ff"/><stop offset="0.20" stop-color="#89c7e0"/><stop offset="0.40" stop-color="#5ca9ca"/><stop offset="0.60" stop-color="#378db9"/><stop offset="0.80" stop-color="#2176ad"/><stop offset="1.00" stop-color="#1562a2"/></linearGradient><linearGradient id="g23" gradientUnits="userSpaceOnUse" x1="510" x2="3289" y1="0" y2="0"><stop offset="0.008" stop-color="#8fbbcb"/><stop offset="0.029" stop-color="#95c1d0"/><stop offset="0.050" stop-color="#a6d8ea"/><stop offset="0.071" stop-color="#92c1d2"/><stop offset="0.093" stop-color="#96c7d9"/><stop offset="0.112" stop-color="#83adbc"/><stop offset="0.133" stop-color="#9ecee0"/><stop offset="0.152" stop-color="#95c4d5"/><stop offset="0.170" stop-color="#9dd1e4"/><stop offset="0.196" stop-color="#81adbd"/><stop offset="0.215" stop-color="#93c2d3"/><stop offset="0.234" stop-color="#8cb9c9"/><stop offset="0.255" stop-color="#a1d5e7"/><stop offset="0.279" stop-color="#8cbccd"/><stop offset="0.300" stop-color="#99cfe3"/><stop offset="0.316" stop-color="#84b3c4"/><stop offset="0.340" stop-color="#9ed8ee"/><stop offset="0.356" stop-color="#87bcd0"/><stop offset="0.373" stop-color="#8dc8df"/><stop offset="0.375" stop-color="#95d4ed"/><stop offset="0.380" stop-color="#89c6de"/><stop offset="0.392" stop-color="#84c4de"/><stop offset="0.399" stop-color="#6ba0b5"/><stop offset="0.408" stop-color="#78b1c9"/><stop offset="0.411" stop-color="#86c8e3"/><stop offset="0.415" stop-color="#7dbed8"/><stop offset="0.425" stop-color="#7cc4e2"/><stop offset="0.427" stop-color="#77bdda"/><stop offset="0.432" stop-color="#5d95ac"/><stop offset="0.434" stop-color="#5c92a8"/><stop offset="0.441" stop-color="#72b6d2"/><stop offset="0.451" stop-color="#68a7c2"/><stop offset="0.453" stop-color="#73b9d6"/><stop offset="0.467" stop-color="#6dbada"/><stop offset="0.472" stop-color="#5693ad"/><stop offset="0.479" stop-color="#568ea6"/><stop offset="0.481" stop-color="#4a7a8e"/><stop offset="0.493" stop-color="#669fb7"/><stop offset="0.498" stop-color="#5c8fa4"/><stop offset="0.505" stop-color="#76b5d0"/><stop offset="0.509" stop-color="#74b3cd"/><stop offset="0.514" stop-color="#6197ae"/><stop offset="0.524" stop-color="#578497"/><stop offset="0.538" stop-color="#71a8be"/><stop offset="0.545" stop-color="#71a7bd"/><stop offset="0.549" stop-color="#84c6e2"/><stop offset="0.578" stop-color="#65b1d2"/><stop offset="0.580" stop-color="#5ba2c1"/><stop offset="0.587" stop-color="#5097b6"/><stop offset="0.592" stop-color="#539bbb"/><stop offset="0.594" stop-color="#5cafd4"/><stop offset="0.597" stop-color="#4e96b6"/><stop offset="0.606" stop-color="#4d95b6"/><stop offset="0.608" stop-color="#4688a5"/><stop offset="0.611" stop-color="#4a8fae"/><stop offset="0.613" stop-color="#4686a3"/><stop offset="0.618" stop-color="#519cbe"/><stop offset="0.625" stop-color="#4d98ba"/><stop offset="0.632" stop-color="#51aad2"/><stop offset="0.641" stop-color="#49a3ce"/><stop offset="0.655" stop-color="#367c9d"/><stop offset="0.660" stop-color="#46a1cd"/><stop offset="0.670" stop-color="#429ecb"/><stop offset="0.674" stop-color="#337ea4"/><stop offset="0.677" stop-color="#337da1"/><stop offset="0.681" stop-color="#3e98c5"/><stop offset="0.686" stop-color="#3186b4"/><stop offset="0.693" stop-color="#308fc3"/><stop offset="0.702" stop-color="#2c8abf"/><stop offset="0.705" stop-color="#2575a2"/><stop offset="0.710" stop-color="#25709a"/><stop offset="0.719" stop-color="#2e8dc2"/><stop offset="0.726" stop-color="#2881b4"/><stop offset="0.728" stop-color="#2b8ac0"/><stop offset="0.731" stop-color="#2578a7"/><stop offset="0.735" stop-color="#23719d"/><stop offset="0.745" stop-color="#297dab"/><stop offset="0.750" stop-color="#226284"/><stop offset="0.757" stop-color="#3593c5"/><stop offset="0.764" stop-color="#2e80ad"/><stop offset="0.768" stop-color="#3491c4"/><stop offset="0.783" stop-color="#2684bd"/><stop offset="0.790" stop-color="#1d618b"/><stop offset="0.797" stop-color="#2272a1"/><stop offset="0.801" stop-color="#1b5779"/><stop offset="0.806" stop-color="#1d5573"/><stop offset="0.813" stop-color="#245c79"/><stop offset="0.820" stop-color="#3d91ba"/><stop offset="0.825" stop-color="#3b8db5"/><stop offset="0.827" stop-color="#337b9e"/><stop offset="0.832" stop-color="#2d6f90"/><stop offset="0.839" stop-color="#3b96c5"/><stop offset="0.844" stop-color="#3b98c8"/><stop offset="0.851" stop-color="#317ba1"/><stop offset="0.856" stop-color="#409bc9"/><stop offset="0.858" stop-color="#398bb4"/><stop offset="0.867" stop-color="#3a93c2"/><stop offset="0.870" stop-color="#327fa7"/><stop offset="0.872" stop-color="#378cb7"/><stop offset="0.877" stop-color="#368bb7"/><stop offset="0.879" stop-color="#317a9f"/><stop offset="0.881" stop-color="#337a9c"/><stop offset="0.884" stop-color="#347a9c"/><stop offset="0.886" stop-color="#3d8db3"/><stop offset="0.888" stop-color="#347797"/><stop offset="0.891" stop-color="#367898"/><stop offset="0.893" stop-color="#30647c"/><stop offset="0.896" stop-color="#34677d"/><stop offset="0.903" stop-color="#40758d"/><stop offset="0.907" stop-color="#5899b6"/><stop offset="0.912" stop-color="#5999b5"/><stop offset="0.917" stop-color="#6bbbdd"/><stop offset="0.931" stop-color="#5897b2"/><stop offset="0.936" stop-color="#6fbcdd"/><stop offset="0.938" stop-color="#71bfe0"/><stop offset="0.952" stop-color="#237cb5"/><stop offset="0.961" stop-color="#145e9c"/><stop offset="0.976" stop-color="#0f5094"/><stop offset="0.978" stop-color="#0b417e"/><stop offset="0.985" stop-color="#0a448d"/><stop offset="0.992" stop-color="#043378"/></linearGradient><linearGradient id="g24" gradientUnits="userSpaceOnUse" x1="0" x2="0" y1="1361" y2="1582"><stop offset="0.00" stop-color="#277fb2"/><stop offset="0.20" stop-color="#2277ae"/><stop offset="0.40" stop-color="#1c70aa"/><stop offset="0.60" stop-color="#1868a6"/><stop offset="0.80" stop-color="#145fa1"/><stop offset="1.00" stop-color="#11579b"/></linearGradient><linearGradient id="g25" gradientUnits="userSpaceOnUse" x1="472" x2="3252" y1="0" y2="0"><stop offset="0.008" stop-color="#90bdcd"/><stop offset="0.053" stop-color="#a5d8eb"/><stop offset="0.071" stop-color="#92c2d4"/><stop offset="0.093" stop-color="#97c9dc"/><stop offset="0.112" stop-color="#84afbe"/><stop offset="0.133" stop-color="#9ed0e2"/><stop offset="0.154" stop-color="#96c7d9"/><stop offset="0.173" stop-color="#9ed4e8"/><stop offset="0.196" stop-color="#83b0c1"/><stop offset="0.215" stop-color="#93c5d7"/><stop offset="0.236" stop-color="#8fbdce"/><stop offset="0.257" stop-color="#a0d7eb"/><stop offset="0.279" stop-color="#8dbfd2"/><stop offset="0.293" stop-color="#99d0e5"/><stop offset="0.302" stop-color="#94cbe0"/><stop offset="0.314" stop-color="#84b6c9"/><stop offset="0.330" stop-color="#93c9de"/><stop offset="0.375" stop-color="#8dd0ec"/><stop offset="0.378" stop-color="#7bb7cf"/><stop offset="0.380" stop-color="#77b2ca"/><stop offset="0.382" stop-color="#78b2ca"/><stop offset="0.385" stop-color="#84c6e1"/><stop offset="0.392" stop-color="#7fc4e0"/><stop offset="0.401" stop-color="#5e91a5"/><stop offset="0.411" stop-color="#7dbfda"/><stop offset="0.422" stop-color="#72b8d5"/><stop offset="0.427" stop-color="#568ea5"/><stop offset="0.429" stop-color="#5a92aa"/><stop offset="0.434" stop-color="#72bbda"/><stop offset="0.443" stop-color="#64a8c5"/><stop offset="0.446" stop-color="#6db9da"/><stop offset="0.455" stop-color="#6ab8da"/><stop offset="0.465" stop-color="#4f8aa4"/><stop offset="0.474" stop-color="#46798f"/><stop offset="0.479" stop-color="#5997b2"/><stop offset="0.486" stop-color="#4e839a"/><stop offset="0.495" stop-color="#5c94ac"/><stop offset="0.500" stop-color="#528398"/><stop offset="0.507" stop-color="#73b6d2"/><stop offset="0.512" stop-color="#78c2e1"/><stop offset="0.516" stop-color="#72bad9"/><stop offset="0.519" stop-color="#63a2bd"/><stop offset="0.521" stop-color="#619cb5"/><stop offset="0.524" stop-color="#639eb6"/><stop offset="0.526" stop-color="#71b3cf"/><stop offset="0.528" stop-color="#6fb1cc"/><stop offset="0.535" stop-color="#548397"/><stop offset="0.542" stop-color="#82cae8"/><stop offset="0.549" stop-color="#7bc6e5"/><stop offset="0.554" stop-color="#70b4d1"/><stop offset="0.578" stop-color="#63b1d3"/><stop offset="0.580" stop-color="#559cbb"/><stop offset="0.597" stop-color="#4ca2ca"/><stop offset="0.604" stop-color="#377693"/><stop offset="0.606" stop-color="#438daf"/><stop offset="0.608" stop-color="#397a97"/><stop offset="0.613" stop-color="#397692"/><stop offset="0.618" stop-color="#51a6cc"/><stop offset="0.620" stop-color="#51aad2"/><stop offset="0.629" stop-color="#49a3ce"/><stop offset="0.637" stop-color="#3d96c3"/><stop offset="0.644" stop-color="#255d7a"/><stop offset="0.646" stop-color="#265c78"/><stop offset="0.658" stop-color="#348cba"/><stop offset="0.660" stop-color="#2b7aa5"/><stop offset="0.662" stop-color="#2979a5"/><stop offset="0.665" stop-color="#2a7ba8"/><stop offset="0.667" stop-color="#2e8cc1"/><stop offset="0.672" stop-color="#2b89c0"/><stop offset="0.677" stop-color="#23719e"/><stop offset="0.686" stop-color="#257bad"/><stop offset="0.688" stop-color="#2885be"/><stop offset="0.702" stop-color="#2279b1"/><stop offset="0.705" stop-color="#1c6799"/><stop offset="0.714" stop-color="#1e6fa4"/><stop offset="0.719" stop-color="#1c6899"/><stop offset="0.724" stop-color="#154d71"/><stop offset="0.731" stop-color="#1a5b84"/><stop offset="0.738" stop-color="#237db7"/><stop offset="0.757" stop-color="#1f79b8"/><stop offset="0.761" stop-color="#186399"/><stop offset="0.764" stop-color="#19659a"/><stop offset="0.766" stop-color="#1d77b6"/><stop offset="0.771" stop-color="#165b8b"/><stop offset="0.778" stop-color="#165682"/><stop offset="0.780" stop-color="#13496d"/><stop offset="0.785" stop-color="#165075"/><stop offset="0.792" stop-color="#2079b5"/><stop offset="0.794" stop-color="#1f7ab8"/><stop offset="0.799" stop-color="#1d77b7"/><stop offset="0.806" stop-color="#134e77"/><stop offset="0.816" stop-color="#18577f"/><stop offset="0.820" stop-color="#1d648f"/><stop offset="0.823" stop-color="#247aad"/><stop offset="0.825" stop-color="#1f668f"/><stop offset="0.827" stop-color="#287fb1"/><stop offset="0.830" stop-color="#236b94"/><stop offset="0.832" stop-color="#2b82b3"/><stop offset="0.834" stop-color="#2b7fae"/><stop offset="0.837" stop-color="#2e8dc2"/><stop offset="0.844" stop-color="#2684bd"/><stop offset="0.846" stop-color="#1f6fa2"/><stop offset="0.851" stop-color="#1d6593"/><stop offset="0.856" stop-color="#247eb7"/><stop offset="0.858" stop-color="#1e6ea1"/><stop offset="0.863" stop-color="#1f6c9c"/><stop offset="0.865" stop-color="#2278ad"/><stop offset="0.867" stop-color="#2174a7"/><stop offset="0.874" stop-color="#2683bd"/><stop offset="0.881" stop-color="#1d5e85"/><stop offset="0.884" stop-color="#1e6188"/><stop offset="0.886" stop-color="#2576a3"/><stop offset="0.891" stop-color="#236d96"/><stop offset="0.893" stop-color="#1e5877"/><stop offset="0.896" stop-color="#225c7b"/><stop offset="0.900" stop-color="#3485ae"/><stop offset="0.903" stop-color="#3589b4"/><stop offset="0.905" stop-color="#2e7397"/><stop offset="0.907" stop-color="#32789c"/><stop offset="0.910" stop-color="#3c8eb6"/><stop offset="0.914" stop-color="#3f95be"/><stop offset="0.917" stop-color="#3b89ae"/><stop offset="0.919" stop-color="#45a1cc"/><stop offset="0.924" stop-color="#44a0cc"/><stop offset="0.931" stop-color="#3b8bb1"/><stop offset="0.933" stop-color="#44a0cc"/><stop offset="0.959" stop-color="#1664a7"/><stop offset="0.961" stop-color="#115390"/><stop offset="0.966" stop-color="#104d87"/><stop offset="0.969" stop-color="#12599c"/><stop offset="0.973" stop-color="#10559b"/><stop offset="0.992" stop-color="#043275"/></linearGradient><linearGradient id="g26" gradientUnits="userSpaceOnUse" x1="0" x2="0" y1="1640" y2="1729"><stop offset="0.00" stop-color="#0e4d8d"/><stop offset="0.20" stop-color="#0d4a8a"/><stop offset="0.40" stop-color="#0c4688"/><stop offset="0.60" stop-color="#0b4385"/><stop offset="0.80" stop-color="#0a3f81"/><stop offset="1.00" stop-color="#083a7c"/></linearGradient><linearGradient id="g27" gradientUnits="userSpaceOnUse" x1="435" x2="3214" y1="0" y2="0"><stop offset="0.008" stop-color="#93c0d0"/><stop offset="0.031" stop-color="#97c5d5"/><stop offset="0.053" stop-color="#a4d9ed"/><stop offset="0.071" stop-color="#91c3d6"/><stop offset="0.093" stop-color="#96cbdf"/><stop offset="0.114" stop-color="#84b1c1"/><stop offset="0.133" stop-color="#9cd0e4"/><stop offset="0.154" stop-color="#96cade"/><stop offset="0.173" stop-color="#9cd6ec"/><stop offset="0.199" stop-color="#81b1c3"/><stop offset="0.215" stop-color="#90c4d8"/><stop offset="0.236" stop-color="#8dbfd2"/><stop offset="0.255" stop-color="#9dd7ed"/><stop offset="0.279" stop-color="#89c0d5"/><stop offset="0.293" stop-color="#95d1e8"/><stop offset="0.321" stop-color="#86bfd5"/><stop offset="0.330" stop-color="#8fcce4"/><stop offset="0.338" stop-color="#87c1d8"/><stop offset="0.345" stop-color="#95d7f2"/><stop offset="0.356" stop-color="#8acee9"/><stop offset="0.359" stop-color="#7ab7d0"/><stop offset="0.373" stop-color="#82c8e5"/><stop offset="0.378" stop-color="#6fadc7"/><stop offset="0.382" stop-color="#76b7d2"/><stop offset="0.401" stop-color="#67a3bc"/><stop offset="0.406" stop-color="#75bbd8"/><stop offset="0.415" stop-color="#79c4e3"/><stop offset="0.427" stop-color="#67afce"/><stop offset="0.434" stop-color="#67b5d6"/><stop offset="0.439" stop-color="#579ab6"/><stop offset="0.446" stop-color="#5da6c5"/><stop offset="0.448" stop-color="#5496b3"/><stop offset="0.455" stop-color="#5296b4"/><stop offset="0.460" stop-color="#467e96"/><stop offset="0.462" stop-color="#5394b1"/><stop offset="0.469" stop-color="#599dbb"/><stop offset="0.472" stop-color="#64b3d6"/><stop offset="0.474" stop-color="#63b2d5"/><stop offset="0.481" stop-color="#5497b4"/><stop offset="0.486" stop-color="#5496b3"/><stop offset="0.491" stop-color="#42758a"/><stop offset="0.498" stop-color="#4f859c"/><stop offset="0.500" stop-color="#4c7f94"/><stop offset="0.507" stop-color="#73c0e1"/><stop offset="0.509" stop-color="#6fbddf"/><stop offset="0.514" stop-color="#5694af"/><stop offset="0.516" stop-color="#538ea8"/><stop offset="0.524" stop-color="#63abca"/><stop offset="0.531" stop-color="#497d93"/><stop offset="0.542" stop-color="#6bb8d8"/><stop offset="0.559" stop-color="#5da6c5"/><stop offset="0.561" stop-color="#64b2d4"/><stop offset="0.571" stop-color="#64b6da"/><stop offset="0.589" stop-color="#4699c0"/><stop offset="0.599" stop-color="#419bc7"/><stop offset="0.604" stop-color="#337ba0"/><stop offset="0.613" stop-color="#30779a"/><stop offset="0.618" stop-color="#409cca"/><stop offset="0.625" stop-color="#3183ad"/><stop offset="0.629" stop-color="#3996c7"/><stop offset="0.632" stop-color="#3185b1"/><stop offset="0.639" stop-color="#2d7ca5"/><stop offset="0.641" stop-color="#27698d"/><stop offset="0.644" stop-color="#2b6f92"/><stop offset="0.648" stop-color="#3c96c4"/><stop offset="0.658" stop-color="#3289b8"/><stop offset="0.660" stop-color="#28749e"/><stop offset="0.674" stop-color="#1b618f"/><stop offset="0.686" stop-color="#1d6999"/><stop offset="0.688" stop-color="#2078b2"/><stop offset="0.691" stop-color="#1f78b5"/><stop offset="0.693" stop-color="#1e74b0"/><stop offset="0.700" stop-color="#134b70"/><stop offset="0.702" stop-color="#134a6e"/><stop offset="0.712" stop-color="#195983"/><stop offset="0.717" stop-color="#1d70a8"/><stop offset="0.721" stop-color="#1d77b7"/><stop offset="0.735" stop-color="#1a71b3"/><stop offset="0.743" stop-color="#15598e"/><stop offset="0.745" stop-color="#1866a2"/><stop offset="0.754" stop-color="#145991"/><stop offset="0.757" stop-color="#15609c"/><stop offset="0.764" stop-color="#104773"/><stop offset="0.768" stop-color="#1765a3"/><stop offset="0.778" stop-color="#17629c"/><stop offset="0.780" stop-color="#155789"/><stop offset="0.787" stop-color="#1b73b4"/><stop offset="0.794" stop-color="#186bb0"/><stop offset="0.799" stop-color="#1562a6"/><stop offset="0.801" stop-color="#11518a"/><stop offset="0.804" stop-color="#125590"/><stop offset="0.811" stop-color="#0e3f68"/><stop offset="0.816" stop-color="#0f4169"/><stop offset="0.823" stop-color="#165f97"/><stop offset="0.825" stop-color="#145382"/><stop offset="0.827" stop-color="#175d90"/><stop offset="0.830" stop-color="#145079"/><stop offset="0.834" stop-color="#154c6f"/><stop offset="0.837" stop-color="#1b5e87"/><stop offset="0.841" stop-color="#1e6b9a"/><stop offset="0.844" stop-color="#1b6290"/><stop offset="0.851" stop-color="#1e79b7"/><stop offset="0.860" stop-color="#1b72b4"/><stop offset="0.865" stop-color="#165f97"/><stop offset="0.874" stop-color="#1a6dac"/><stop offset="0.886" stop-color="#134c75"/><stop offset="0.891" stop-color="#1a6293"/><stop offset="0.893" stop-color="#1a6293"/><stop offset="0.896" stop-color="#16537b"/><stop offset="0.903" stop-color="#217bb6"/><stop offset="0.905" stop-color="#1c6798"/><stop offset="0.914" stop-color="#1b6aa0"/><stop offset="0.917" stop-color="#1b628f"/><stop offset="0.924" stop-color="#2582bc"/><stop offset="0.931" stop-color="#2580b8"/><stop offset="0.936" stop-color="#1c6491"/><stop offset="0.938" stop-color="#1e6795"/><stop offset="0.943" stop-color="#237fbb"/><stop offset="0.952" stop-color="#186aaa"/><stop offset="0.957" stop-color="#0f487d"/><stop offset="0.969" stop-color="#10569d"/><stop offset="0.976" stop-color="#0d437b"/><stop offset="0.983" stop-color="#0d4c91"/><stop offset="0.992" stop-color="#043276"/></linearGradient><linearGradient id="g28" gradientUnits="userSpaceOnUse" x1="0" x2="0" y1="1640" y2="1760"><stop offset="0.00" stop-color="#115596"/><stop offset="0.20" stop-color="#0f5092"/><stop offset="0.40" stop-color="#0e4c8e"/><stop offset="0.60" stop-color="#0c478a"/><stop offset="0.80" stop-color="#0b4386"/><stop offset="1.00" stop-color="#083c7f"/></linearGradient><linearGradient id="g29" gradientUnits="userSpaceOnUse" x1="398" x2="3177" y1="0" y2="0"><stop offset="0.008" stop-color="#95c4d5"/><stop offset="0.031" stop-color="#97c6d7"/><stop offset="0.053" stop-color="#a2d9ed"/><stop offset="0.074" stop-color="#8ec1d5"/><stop offset="0.095" stop-color="#91c7dc"/><stop offset="0.114" stop-color="#7faec0"/><stop offset="0.135" stop-color="#97cee2"/><stop offset="0.173" stop-color="#94d1e9"/><stop offset="0.199" stop-color="#78aabe"/><stop offset="0.215" stop-color="#87bcd2"/><stop offset="0.239" stop-color="#86bbd0"/><stop offset="0.257" stop-color="#93cfe7"/><stop offset="0.281" stop-color="#81bbd2"/><stop offset="0.298" stop-color="#8acae4"/><stop offset="0.321" stop-color="#72a9bf"/><stop offset="0.330" stop-color="#83c1db"/><stop offset="0.338" stop-color="#7dbbd4"/><stop offset="0.342" stop-color="#86cae6"/><stop offset="0.352" stop-color="#78b8d3"/><stop offset="0.356" stop-color="#7bbed9"/><stop offset="0.361" stop-color="#6fadc6"/><stop offset="0.366" stop-color="#79bdd9"/><stop offset="0.373" stop-color="#6baac4"/><stop offset="0.394" stop-color="#73bede"/><stop offset="0.401" stop-color="#5f9fbb"/><stop offset="0.408" stop-color="#6db8d8"/><stop offset="0.418" stop-color="#66b8db"/><stop offset="0.425" stop-color="#60b3d8"/><stop offset="0.436" stop-color="#3d7289"/><stop offset="0.443" stop-color="#569cbb"/><stop offset="0.448" stop-color="#457b93"/><stop offset="0.455" stop-color="#5ba2c2"/><stop offset="0.462" stop-color="#5cabce"/><stop offset="0.465" stop-color="#4f97b7"/><stop offset="0.467" stop-color="#4e98b8"/><stop offset="0.474" stop-color="#56acd3"/><stop offset="0.481" stop-color="#386e86"/><stop offset="0.484" stop-color="#3a6f87"/><stop offset="0.488" stop-color="#4b8ba7"/><stop offset="0.498" stop-color="#40748a"/><stop offset="0.505" stop-color="#64b2d4"/><stop offset="0.507" stop-color="#559ab9"/><stop offset="0.516" stop-color="#457b92"/><stop offset="0.521" stop-color="#5da4c2"/><stop offset="0.524" stop-color="#589dbb"/><stop offset="0.526" stop-color="#4a859f"/><stop offset="0.528" stop-color="#4b859e"/><stop offset="0.535" stop-color="#4f89a2"/><stop offset="0.540" stop-color="#60a9c9"/><stop offset="0.542" stop-color="#5396b4"/><stop offset="0.547" stop-color="#5499b7"/><stop offset="0.549" stop-color="#5eaed1"/><stop offset="0.571" stop-color="#4ca6cf"/><stop offset="0.575" stop-color="#3e90b6"/><stop offset="0.585" stop-color="#398bb4"/><stop offset="0.587" stop-color="#337ca0"/><stop offset="0.592" stop-color="#3580a5"/><stop offset="0.594" stop-color="#3b8fb9"/><stop offset="0.601" stop-color="#2f7496"/><stop offset="0.608" stop-color="#2e7aa2"/><stop offset="0.613" stop-color="#236284"/><stop offset="0.620" stop-color="#2f89b9"/><stop offset="0.622" stop-color="#2573a0"/><stop offset="0.625" stop-color="#24729e"/><stop offset="0.627" stop-color="#2474a1"/><stop offset="0.629" stop-color="#2986bb"/><stop offset="0.632" stop-color="#2374a3"/><stop offset="0.637" stop-color="#2678a6"/><stop offset="0.639" stop-color="#2b8ac0"/><stop offset="0.641" stop-color="#2477a8"/><stop offset="0.648" stop-color="#2987bf"/><stop offset="0.653" stop-color="#22709f"/><stop offset="0.660" stop-color="#1c5f88"/><stop offset="0.662" stop-color="#1d6189"/><stop offset="0.665" stop-color="#2271a1"/><stop offset="0.679" stop-color="#1d6899"/><stop offset="0.684" stop-color="#1f71a7"/><stop offset="0.691" stop-color="#165279"/><stop offset="0.695" stop-color="#18567e"/><stop offset="0.700" stop-color="#1e72ab"/><stop offset="0.717" stop-color="#1a71b3"/><stop offset="0.721" stop-color="#1665ab"/><stop offset="0.728" stop-color="#0e4578"/><stop offset="0.731" stop-color="#104f8a"/><stop offset="0.735" stop-color="#105291"/><stop offset="0.738" stop-color="#0e487d"/><stop offset="0.752" stop-color="#104a7b"/><stop offset="0.754" stop-color="#0e3f68"/><stop offset="0.759" stop-color="#0f4169"/><stop offset="0.766" stop-color="#1766a6"/><stop offset="0.775" stop-color="#0e467a"/><stop offset="0.783" stop-color="#1360a9"/><stop offset="0.787" stop-color="#11579c"/><stop offset="0.790" stop-color="#0e4882"/><stop offset="0.792" stop-color="#0f4e8e"/><stop offset="0.801" stop-color="#0c3d6e"/><stop offset="0.804" stop-color="#0f4c86"/><stop offset="0.806" stop-color="#0e467c"/><stop offset="0.808" stop-color="#115492"/><stop offset="0.816" stop-color="#0d3e6b"/><stop offset="0.818" stop-color="#104e84"/><stop offset="0.825" stop-color="#11528b"/><stop offset="0.839" stop-color="#11476c"/><stop offset="0.846" stop-color="#1c6da6"/><stop offset="0.851" stop-color="#1a6eab"/><stop offset="0.860" stop-color="#1562a5"/><stop offset="0.863" stop-color="#125590"/><stop offset="0.867" stop-color="#125692"/><stop offset="0.870" stop-color="#1462aa"/><stop offset="0.879" stop-color="#10518d"/><stop offset="0.881" stop-color="#125899"/><stop offset="0.888" stop-color="#0e4370"/><stop offset="0.891" stop-color="#125084"/><stop offset="0.898" stop-color="#125080"/><stop offset="0.900" stop-color="#176199"/><stop offset="0.905" stop-color="#1764a0"/><stop offset="0.907" stop-color="#14568a"/><stop offset="0.910" stop-color="#16609a"/><stop offset="0.912" stop-color="#114c7d"/><stop offset="0.921" stop-color="#1768ae"/><stop offset="0.929" stop-color="#145b97"/><stop offset="0.931" stop-color="#1562a4"/><stop offset="0.933" stop-color="#12558d"/><stop offset="0.936" stop-color="#145d9a"/><stop offset="0.938" stop-color="#125185"/><stop offset="0.940" stop-color="#16609d"/><stop offset="0.943" stop-color="#155d99"/><stop offset="0.945" stop-color="#176aaf"/><stop offset="0.947" stop-color="#145e9b"/><stop offset="0.957" stop-color="#0e4984"/><stop offset="0.966" stop-color="#0e4e95"/><stop offset="0.971" stop-color="#0a3b72"/><stop offset="0.973" stop-color="#0b3e75"/><stop offset="0.978" stop-color="#0e509c"/><stop offset="0.980" stop-color="#0c4c97"/><stop offset="0.983" stop-color="#083979"/><stop offset="0.992" stop-color="#033177"/></linearGradient><linearGradient id="g30" gradientUnits="userSpaceOnUse" x1="360" x2="3140" y1="0" y2="0"><stop offset="0.008" stop-color="#99c9db"/><stop offset="0.055" stop-color="#9ed6ec"/><stop offset="0.074" stop-color="#8abfd4"/><stop offset="0.095" stop-color="#8cc5db"/><stop offset="0.114" stop-color="#7bacbf"/><stop offset="0.135" stop-color="#91c9df"/><stop offset="0.175" stop-color="#8ccce5"/><stop offset="0.199" stop-color="#70a3b8"/><stop offset="0.217" stop-color="#7eb5cb"/><stop offset="0.239" stop-color="#7eb5ca"/><stop offset="0.257" stop-color="#8ac9e2"/><stop offset="0.281" stop-color="#7ab5cd"/><stop offset="0.305" stop-color="#7ec0dc"/><stop offset="0.323" stop-color="#71aec7"/><stop offset="0.330" stop-color="#80c6e3"/><stop offset="0.340" stop-color="#7dc7e6"/><stop offset="0.347" stop-color="#77c1e0"/><stop offset="0.354" stop-color="#5e98b0"/><stop offset="0.361" stop-color="#6cb0cc"/><stop offset="0.368" stop-color="#66a7c2"/><stop offset="0.382" stop-color="#6eb7d7"/><stop offset="0.394" stop-color="#63b1d2"/><stop offset="0.401" stop-color="#508fab"/><stop offset="0.408" stop-color="#63b0d1"/><stop offset="0.418" stop-color="#57abd1"/><stop offset="0.425" stop-color="#4ea1c7"/><stop offset="0.432" stop-color="#3a7692"/><stop offset="0.439" stop-color="#417f9a"/><stop offset="0.443" stop-color="#4d93b2"/><stop offset="0.446" stop-color="#4685a2"/><stop offset="0.453" stop-color="#58a7c9"/><stop offset="0.455" stop-color="#529aba"/><stop offset="0.472" stop-color="#4da1c7"/><stop offset="0.479" stop-color="#326a83"/><stop offset="0.481" stop-color="#3e82a1"/><stop offset="0.493" stop-color="#4a95b7"/><stop offset="0.495" stop-color="#4285a2"/><stop offset="0.500" stop-color="#43819d"/><stop offset="0.505" stop-color="#58abd0"/><stop offset="0.509" stop-color="#4588a6"/><stop offset="0.512" stop-color="#4689a7"/><stop offset="0.514" stop-color="#52a0c3"/><stop offset="0.521" stop-color="#4787a3"/><stop offset="0.526" stop-color="#4987a2"/><stop offset="0.531" stop-color="#5eafd2"/><stop offset="0.538" stop-color="#5094b1"/><stop offset="0.549" stop-color="#59a7ca"/><stop offset="0.552" stop-color="#4e96b6"/><stop offset="0.557" stop-color="#4d97b8"/><stop offset="0.559" stop-color="#50a3c9"/><stop offset="0.568" stop-color="#429ac5"/><stop offset="0.571" stop-color="#3683a9"/><stop offset="0.573" stop-color="#3580a5"/><stop offset="0.578" stop-color="#3c91bb"/><stop offset="0.585" stop-color="#388ab4"/><stop offset="0.587" stop-color="#327da2"/><stop offset="0.592" stop-color="#3480a7"/><stop offset="0.594" stop-color="#3a91bd"/><stop offset="0.597" stop-color="#327fa6"/><stop offset="0.601" stop-color="#327ba1"/><stop offset="0.604" stop-color="#3a91bc"/><stop offset="0.606" stop-color="#3a93c0"/><stop offset="0.611" stop-color="#276c91"/><stop offset="0.613" stop-color="#296e92"/><stop offset="0.618" stop-color="#2f88b9"/><stop offset="0.622" stop-color="#2474a2"/><stop offset="0.627" stop-color="#23729f"/><stop offset="0.629" stop-color="#257db2"/><stop offset="0.632" stop-color="#2275a8"/><stop offset="0.639" stop-color="#247eb8"/><stop offset="0.641" stop-color="#1d6b9d"/><stop offset="0.646" stop-color="#1b6492"/><stop offset="0.648" stop-color="#1f71a7"/><stop offset="0.651" stop-color="#1a6293"/><stop offset="0.658" stop-color="#186297"/><stop offset="0.660" stop-color="#155581"/><stop offset="0.667" stop-color="#185f92"/><stop offset="0.677" stop-color="#154e75"/><stop offset="0.684" stop-color="#1e6ea3"/><stop offset="0.686" stop-color="#196192"/><stop offset="0.698" stop-color="#1b689c"/><stop offset="0.700" stop-color="#1b71ae"/><stop offset="0.702" stop-color="#155c94"/><stop offset="0.705" stop-color="#145890"/><stop offset="0.712" stop-color="#135c9e"/><stop offset="0.719" stop-color="#0e4373"/><stop offset="0.721" stop-color="#104c82"/><stop offset="0.724" stop-color="#0d4274"/><stop offset="0.726" stop-color="#104d85"/><stop offset="0.728" stop-color="#0e4577"/><stop offset="0.731" stop-color="#104e87"/><stop offset="0.738" stop-color="#0c3a65"/><stop offset="0.745" stop-color="#0e3f68"/><stop offset="0.754" stop-color="#1663a1"/><stop offset="0.757" stop-color="#1665a6"/><stop offset="0.759" stop-color="#125591"/><stop offset="0.761" stop-color="#125590"/><stop offset="0.766" stop-color="#1462aa"/><stop offset="0.778" stop-color="#0c488f"/><stop offset="0.780" stop-color="#0c4b96"/><stop offset="0.783" stop-color="#0a407e"/><stop offset="0.787" stop-color="#0a3b72"/><stop offset="0.790" stop-color="#0c4585"/><stop offset="0.794" stop-color="#0c488c"/><stop offset="0.801" stop-color="#0a386c"/><stop offset="0.804" stop-color="#0c4582"/><stop offset="0.806" stop-color="#0b3e73"/><stop offset="0.813" stop-color="#0f5093"/><stop offset="0.820" stop-color="#0c3f73"/><stop offset="0.834" stop-color="#0f487e"/><stop offset="0.839" stop-color="#0d3d67"/><stop offset="0.846" stop-color="#1769af"/><stop offset="0.867" stop-color="#0f55a0"/><stop offset="0.870" stop-color="#0d4a8e"/><stop offset="0.877" stop-color="#0e519c"/><stop offset="0.881" stop-color="#0d4b8f"/><stop offset="0.884" stop-color="#0b3f77"/><stop offset="0.893" stop-color="#0d437b"/><stop offset="0.898" stop-color="#0b3865"/><stop offset="0.905" stop-color="#125a9e"/><stop offset="0.907" stop-color="#104d86"/><stop offset="0.910" stop-color="#125897"/><stop offset="0.914" stop-color="#125692"/><stop offset="0.924" stop-color="#0d3e6b"/><stop offset="0.931" stop-color="#135b9d"/><stop offset="0.936" stop-color="#135fa7"/><stop offset="0.943" stop-color="#0f4d8a"/><stop offset="0.945" stop-color="#11569b"/><stop offset="0.952" stop-color="#0f55a0"/><stop offset="0.959" stop-color="#0c4991"/><stop offset="0.966" stop-color="#083367"/><stop offset="0.969" stop-color="#093b79"/><stop offset="0.971" stop-color="#08346a"/><stop offset="0.973" stop-color="#0a3e7b"/><stop offset="0.978" stop-color="#083c80"/><stop offset="0.985" stop-color="#03214e"/><stop offset="0.992" stop-color="#032f74"/></linearGradient><linearGradient id="g31" gradientUnits="userSpaceOnUse" x1="0" x2="0" y1="1472" y2="1574"><stop offset="0.00" stop-color="#1e6795"/><stop offset="0.20" stop-color="#1b6494"/><stop offset="0.40" stop-color="#196192"/><stop offset="0.60" stop-color="#175e91"/><stop offset="0.80" stop-color="#155b8f"/><stop offset="1.00" stop-color="#14588d"/></linearGradient><linearGradient id="g32" gradientUnits="userSpaceOnUse" x1="0" x2="0" y1="1423" y2="1668"><stop offset="0.00" stop-color="#2879a6"/><stop offset="0.20" stop-color="#2170a2"/><stop offset="0.40" stop-color="#1b699e"/><stop offset="0.60" stop-color="#166099"/><stop offset="0.80" stop-color="#135894"/><stop offset="1.00" stop-color="#0f4f8e"/></linearGradient><linearGradient id="g33" gradientUnits="userSpaceOnUse" x1="323" x2="3102" y1="0" y2="0"><stop offset="0.008" stop-color="#9ed0e2"/><stop offset="0.036" stop-color="#97cadd"/><stop offset="0.055" stop-color="#9bd4ea"/><stop offset="0.074" stop-color="#87bed4"/><stop offset="0.095" stop-color="#89c3db"/><stop offset="0.116" stop-color="#78abbf"/><stop offset="0.135" stop-color="#8bc6dd"/><stop offset="0.175" stop-color="#85c8e3"/><stop offset="0.201" stop-color="#699db2"/><stop offset="0.257" stop-color="#84c5df"/><stop offset="0.281" stop-color="#74b2cc"/><stop offset="0.295" stop-color="#7cc1dd"/><stop offset="0.323" stop-color="#6aafcb"/><stop offset="0.330" stop-color="#73bfdf"/><stop offset="0.349" stop-color="#60a6c4"/><stop offset="0.354" stop-color="#518ca5"/><stop offset="0.361" stop-color="#65afcf"/><stop offset="0.368" stop-color="#69b9dc"/><stop offset="0.380" stop-color="#5db1d7"/><stop offset="0.385" stop-color="#5098b8"/><stop offset="0.394" stop-color="#5bb0d6"/><stop offset="0.399" stop-color="#468aa9"/><stop offset="0.401" stop-color="#478ba9"/><stop offset="0.406" stop-color="#56add4"/><stop offset="0.420" stop-color="#49a2cc"/><stop offset="0.427" stop-color="#306984"/><stop offset="0.434" stop-color="#31657c"/><stop offset="0.436" stop-color="#32667d"/><stop offset="0.443" stop-color="#4e9dc0"/><stop offset="0.451" stop-color="#4ea7cf"/><stop offset="0.453" stop-color="#479cc3"/><stop offset="0.458" stop-color="#34718d"/><stop offset="0.460" stop-color="#346e88"/><stop offset="0.465" stop-color="#4995b7"/><stop offset="0.469" stop-color="#4ea3ca"/><stop offset="0.484" stop-color="#397e9f"/><stop offset="0.488" stop-color="#418bad"/><stop offset="0.495" stop-color="#3d85a6"/><stop offset="0.498" stop-color="#469ac1"/><stop offset="0.509" stop-color="#326b85"/><stop offset="0.514" stop-color="#448aaa"/><stop offset="0.516" stop-color="#4188a9"/><stop offset="0.521" stop-color="#326780"/><stop offset="0.531" stop-color="#44829d"/><stop offset="0.545" stop-color="#3a6b81"/><stop offset="0.552" stop-color="#58a5c7"/><stop offset="0.554" stop-color="#52a4c8"/><stop offset="0.578" stop-color="#337da2"/><stop offset="0.582" stop-color="#347fa5"/><stop offset="0.585" stop-color="#388fbb"/><stop offset="0.589" stop-color="#307ba1"/><stop offset="0.594" stop-color="#3589b4"/><stop offset="0.597" stop-color="#2e79a0"/><stop offset="0.601" stop-color="#2f7ca3"/><stop offset="0.604" stop-color="#3389b6"/><stop offset="0.606" stop-color="#3287b3"/><stop offset="0.608" stop-color="#29749c"/><stop offset="0.613" stop-color="#2c7da9"/><stop offset="0.615" stop-color="#308dc0"/><stop offset="0.627" stop-color="#267eb1"/><stop offset="0.632" stop-color="#1e6896"/><stop offset="0.637" stop-color="#2175a9"/><stop offset="0.648" stop-color="#1e72aa"/><stop offset="0.655" stop-color="#155480"/><stop offset="0.658" stop-color="#186295"/><stop offset="0.660" stop-color="#165581"/><stop offset="0.662" stop-color="#186193"/><stop offset="0.672" stop-color="#14517e"/><stop offset="0.674" stop-color="#176093"/><stop offset="0.677" stop-color="#155a8e"/><stop offset="0.684" stop-color="#1d76b6"/><stop offset="0.686" stop-color="#1c74b5"/><stop offset="0.693" stop-color="#114b7b"/><stop offset="0.700" stop-color="#1665a7"/><stop offset="0.702" stop-color="#11538e"/><stop offset="0.707" stop-color="#114f84"/><stop offset="0.710" stop-color="#145b99"/><stop offset="0.719" stop-color="#0d4273"/><stop offset="0.726" stop-color="#1564ab"/><stop offset="0.738" stop-color="#0f4e8d"/><stop offset="0.740" stop-color="#115ba5"/><stop offset="0.745" stop-color="#0e467e"/><stop offset="0.747" stop-color="#0e487f"/><stop offset="0.752" stop-color="#135fa8"/><stop offset="0.757" stop-color="#1057a0"/><stop offset="0.761" stop-color="#0a396e"/><stop offset="0.768" stop-color="#0d4e96"/><stop offset="0.775" stop-color="#083c7d"/><stop offset="0.778" stop-color="#062f66"/><stop offset="0.785" stop-color="#052a5e"/><stop offset="0.792" stop-color="#0a3d7c"/><stop offset="0.799" stop-color="#093b79"/><stop offset="0.801" stop-color="#073266"/><stop offset="0.804" stop-color="#083a79"/><stop offset="0.806" stop-color="#07336a"/><stop offset="0.811" stop-color="#0a396f"/><stop offset="0.813" stop-color="#0c4584"/><stop offset="0.827" stop-color="#0a3562"/><stop offset="0.834" stop-color="#10559c"/><stop offset="0.844" stop-color="#0e529d"/><stop offset="0.848" stop-color="#0b4487"/><stop offset="0.853" stop-color="#0d4e99"/><stop offset="0.856" stop-color="#0d4b93"/><stop offset="0.858" stop-color="#093a75"/><stop offset="0.863" stop-color="#09376d"/><stop offset="0.865" stop-color="#0a3f7c"/><stop offset="0.867" stop-color="#093469"/><stop offset="0.877" stop-color="#09376a"/><stop offset="0.879" stop-color="#09315e"/><stop offset="0.896" stop-color="#0a3662"/><stop offset="0.903" stop-color="#0f539a"/><stop offset="0.905" stop-color="#0e4c90"/><stop offset="0.912" stop-color="#0e539d"/><stop offset="0.924" stop-color="#0c4076"/><stop offset="0.926" stop-color="#0e4b8c"/><stop offset="0.936" stop-color="#0c4789"/><stop offset="0.940" stop-color="#0d4e9a"/><stop offset="0.945" stop-color="#0b3e79"/><stop offset="0.954" stop-color="#08305d"/><stop offset="0.969" stop-color="#0b3f7a"/><stop offset="0.971" stop-color="#09366a"/><stop offset="0.973" stop-color="#0a3c78"/><stop offset="0.976" stop-color="#083267"/><stop offset="0.978" stop-color="#073672"/><stop offset="0.985" stop-color="#022356"/><stop offset="0.992" stop-color="#033075"/></linearGradient><linearGradient id="g34" gradientUnits="userSpaceOnUse" x1="0" x2="0" y1="1500" y2="1581"><stop offset="0.00" stop-color="#1d6693"/><stop offset="0.20" stop-color="#1c6492"/><stop offset="0.40" stop-color="#1a6191"/><stop offset="0.60" stop-color="#185f90"/><stop offset="0.80" stop-color="#175d8e"/><stop offset="1.00" stop-color="#155a8d"/></linearGradient><linearGradient id="g35" gradientUnits="userSpaceOnUse" x1="0" x2="0" y1="1653" y2="1829"><stop offset="0.00" stop-color="#114e83"/><stop offset="0.20" stop-color="#0f4980"/><stop offset="0.40" stop-color="#0d437b"/><stop offset="0.60" stop-color="#0b3e76"/><stop offset="0.80" stop-color="#093871"/><stop offset="1.00" stop-color="#063068"/></linearGradient><linearGradient id="g36" gradientUnits="userSpaceOnUse" x1="0" x2="0" y1="1795" y2="1904"><stop offset="0.00" stop-color="#09376e"/><stop offset="0.20" stop-color="#073269"/><stop offset="0.40" stop-color="#052d63"/><stop offset="0.60" stop-color="#03285e"/><stop offset="0.80" stop-color="#022359"/><stop offset="1.00" stop-color="#001f54"/></linearGradient><linearGradient id="g37" gradientUnits="userSpaceOnUse" x1="0" x2="0" y1="1735" y2="1878"><stop offset="0.00" stop-color="#0d447e"/><stop offset="0.20" stop-color="#0b407a"/><stop offset="0.40" stop-color="#0a3b76"/><stop offset="0.60" stop-color="#07356f"/><stop offset="0.80" stop-color="#052e68"/><stop offset="1.00" stop-color="#022760"/></linearGradient><linearGradient id="g38" gradientUnits="userSpaceOnUse" x1="0" x2="0" y1="1748" y2="1921"><stop offset="0.00" stop-color="#0d447e"/><stop offset="0.20" stop-color="#0b3f79"/><stop offset="0.40" stop-color="#093973"/><stop offset="0.60" stop-color="#06306a"/><stop offset="0.80" stop-color="#022861"/><stop offset="1.00" stop-color="#00215a"/></linearGradient><linearGradient id="g39" gradientUnits="userSpaceOnUse" x1="285" x2="3065" y1="0" y2="0"><stop offset="0.008" stop-color="#a2d6e9"/><stop offset="0.039" stop-color="#93c8dc"/><stop offset="0.055" stop-color="#97d2e9"/><stop offset="0.076" stop-color="#84bcd3"/><stop offset="0.095" stop-color="#85c2da"/><stop offset="0.116" stop-color="#75aac0"/><stop offset="0.137" stop-color="#86c4dd"/><stop offset="0.177" stop-color="#7cc2df"/><stop offset="0.201" stop-color="#6095ab"/><stop offset="0.257" stop-color="#7fc1dc"/><stop offset="0.281" stop-color="#6fb0cc"/><stop offset="0.302" stop-color="#71bcdc"/><stop offset="0.323" stop-color="#61aac9"/><stop offset="0.330" stop-color="#66b7db"/><stop offset="0.338" stop-color="#5eb2d7"/><stop offset="0.342" stop-color="#4d91b0"/><stop offset="0.349" stop-color="#5aa8ca"/><stop offset="0.356" stop-color="#4b8ca9"/><stop offset="0.366" stop-color="#5cadd1"/><stop offset="0.378" stop-color="#469ec7"/><stop offset="0.385" stop-color="#2a5f79"/><stop offset="0.392" stop-color="#346e88"/><stop offset="0.406" stop-color="#479ec6"/><stop offset="0.413" stop-color="#3f99c5"/><stop offset="0.420" stop-color="#296481"/><stop offset="0.432" stop-color="#34677e"/><stop offset="0.441" stop-color="#52a6cb"/><stop offset="0.448" stop-color="#449dc8"/><stop offset="0.455" stop-color="#2c617a"/><stop offset="0.458" stop-color="#2f637b"/><stop offset="0.465" stop-color="#4490b2"/><stop offset="0.472" stop-color="#429dc9"/><stop offset="0.479" stop-color="#285f7a"/><stop offset="0.484" stop-color="#2e637b"/><stop offset="0.488" stop-color="#4182a0"/><stop offset="0.495" stop-color="#418fb4"/><stop offset="0.498" stop-color="#3b8bb2"/><stop offset="0.505" stop-color="#2c617a"/><stop offset="0.509" stop-color="#33667d"/><stop offset="0.516" stop-color="#4d9fc4"/><stop offset="0.524" stop-color="#2e647d"/><stop offset="0.531" stop-color="#519cbe"/><stop offset="0.535" stop-color="#57add4"/><stop offset="0.542" stop-color="#31667f"/><stop offset="0.545" stop-color="#366980"/><stop offset="0.552" stop-color="#54a8ce"/><stop offset="0.554" stop-color="#4aa0c8"/><stop offset="0.557" stop-color="#3d89ad"/><stop offset="0.559" stop-color="#3d89ac"/><stop offset="0.561" stop-color="#347491"/><stop offset="0.568" stop-color="#469ec8"/><stop offset="0.575" stop-color="#3c98c8"/><stop offset="0.578" stop-color="#3589b4"/><stop offset="0.582" stop-color="#3384ae"/><stop offset="0.585" stop-color="#3490c1"/><stop offset="0.589" stop-color="#256a8e"/><stop offset="0.592" stop-color="#2a6b8d"/><stop offset="0.594" stop-color="#30789d"/><stop offset="0.606" stop-color="#296b8d"/><stop offset="0.611" stop-color="#2e80ac"/><stop offset="0.615" stop-color="#2a7ca9"/><stop offset="0.620" stop-color="#20658b"/><stop offset="0.627" stop-color="#226c97"/><stop offset="0.629" stop-color="#1c5c83"/><stop offset="0.637" stop-color="#2479ae"/><stop offset="0.641" stop-color="#1e6693"/><stop offset="0.648" stop-color="#1e6c9f"/><stop offset="0.655" stop-color="#144a6e"/><stop offset="0.662" stop-color="#1b6494"/><stop offset="0.667" stop-color="#1b679b"/><stop offset="0.677" stop-color="#145586"/><stop offset="0.686" stop-color="#17629b"/><stop offset="0.693" stop-color="#10446a"/><stop offset="0.700" stop-color="#15588d"/><stop offset="0.707" stop-color="#124e7e"/><stop offset="0.714" stop-color="#135997"/><stop offset="0.719" stop-color="#0d4273"/><stop offset="0.726" stop-color="#115596"/><stop offset="0.733" stop-color="#0c4178"/><stop offset="0.740" stop-color="#0b468b"/><stop offset="0.745" stop-color="#073368"/><stop offset="0.757" stop-color="#093567"/><stop offset="0.759" stop-color="#0a3d76"/><stop offset="0.761" stop-color="#09366a"/><stop offset="0.764" stop-color="#0b407b"/><stop offset="0.766" stop-color="#0a396d"/><stop offset="0.778" stop-color="#0a386c"/><stop offset="0.780" stop-color="#0b3e79"/><stop offset="0.785" stop-color="#083266"/><stop offset="0.792" stop-color="#0b3d75"/><stop offset="0.797" stop-color="#093568"/><stop offset="0.804" stop-color="#0a3b74"/><stop offset="0.808" stop-color="#073062"/><stop offset="0.816" stop-color="#0b458a"/><stop offset="0.823" stop-color="#09376e"/><stop offset="0.825" stop-color="#0b4180"/><stop offset="0.827" stop-color="#0a3d77"/><stop offset="0.830" stop-color="#0d4b91"/><stop offset="0.832" stop-color="#0b417f"/><stop offset="0.834" stop-color="#0c4485"/><stop offset="0.837" stop-color="#083367"/><stop offset="0.839" stop-color="#073470"/><stop offset="0.841" stop-color="#062e63"/><stop offset="0.844" stop-color="#073673"/><stop offset="0.851" stop-color="#062a58"/><stop offset="0.856" stop-color="#09366a"/><stop offset="0.863" stop-color="#082e5a"/><stop offset="0.867" stop-color="#0c4381"/><stop offset="0.879" stop-color="#0b3e74"/><stop offset="0.884" stop-color="#0d4b8f"/><stop offset="0.886" stop-color="#0b417c"/><stop offset="0.891" stop-color="#0c4277"/><stop offset="0.896" stop-color="#115aa4"/><stop offset="0.905" stop-color="#0c417a"/><stop offset="0.919" stop-color="#072e5e"/><stop offset="0.926" stop-color="#083770"/><stop offset="0.936" stop-color="#073064"/><stop offset="0.940" stop-color="#083975"/><stop offset="0.945" stop-color="#062f63"/><stop offset="0.959" stop-color="#0c4689"/><stop offset="0.966" stop-color="#0b4282"/><stop offset="0.971" stop-color="#0c4b95"/><stop offset="0.980" stop-color="#05377f"/><stop offset="0.985" stop-color="#022255"/><stop offset="0.992" stop-color="#033076"/></linearGradient><linearGradient id="g40" gradientUnits="userSpaceOnUse" x1="0" x2="0" y1="1482" y2="1551"><stop offset="0.00" stop-color="#226b94"/><stop offset="0.20" stop-color="#206993"/><stop offset="0.40" stop-color="#1f6792"/><stop offset="0.60" stop-color="#1d6591"/><stop offset="0.80" stop-color="#1c6390"/><stop offset="1.00" stop-color="#1a618f"/></linearGradient><linearGradient id="g41" gradientUnits="userSpaceOnUse" x1="0" x2="0" y1="1777" y2="1904"><stop offset="0.00" stop-color="#0b3e75"/><stop offset="0.20" stop-color="#0a3b71"/><stop offset="0.40" stop-color="#09376e"/><stop offset="0.60" stop-color="#073167"/><stop offset="0.80" stop-color="#042b61"/><stop offset="1.00" stop-color="#02255b"/></linearGradient><linearGradient id="g42" gradientUnits="userSpaceOnUse" x1="0" x2="0" y1="1763" y2="1878"><stop offset="0.00" stop-color="#0c3f73"/><stop offset="0.20" stop-color="#0b3b70"/><stop offset="0.40" stop-color="#0a386d"/><stop offset="0.60" stop-color="#08346a"/><stop offset="0.80" stop-color="#062f64"/><stop offset="1.00" stop-color="#052a5f"/></linearGradient><linearGradient id="g43" gradientUnits="userSpaceOnUse" x1="0" x2="0" y1="1749" y2="1945"><stop offset="0.00" stop-color="#125a9e"/><stop offset="0.20" stop-color="#105397"/><stop offset="0.40" stop-color="#0d4b91"/><stop offset="0.60" stop-color="#0a4389"/><stop offset="0.80" stop-color="#06387d"/><stop offset="1.00" stop-color="#022d71"/></linearGradient></defs>
<rect width="1000" height="538" fill="#fff"/>
<path d="M62 451.9L249 295.3M62 441.3L249 284.7M62 430.6L249 274M62 420L249 263.4M62 398.8L249 242.2M62 388.2L249 231.6M62 377.5L249 220.9M62 366.9L249 210.3M62 345.7L249 189.1M62 335.1L249 178.5M62 324.4L249 167.8M62 313.8L249 157.2M62 292.6L249 136M62 282L249 125.4M62 271.3L249 114.7M62 260.7L249 104.1M62 239.5L249 82.9M62 228.9L249 72.3M62 218.2L249 61.6M62 207.6L249 51M71.3 454.7L71.3 189.2M90 439L90 173.5M108.8 423.4L108.8 157.9M127.5 407.7L127.5 142.2M146.2 392L146.2 126.5M164.9 376.4L164.9 110.9M183.6 360.7L183.6 95.2M202.2 345.1L202.2 79.6M220.9 329.4L220.9 63.9M239.7 313.7L239.7 48.2M249 295.3L951 337.3M249 284.7L951 326.7M249 274L951 316M249 263.4L951 305.4M249 242.2L951 284.2M249 231.6L951 273.6M249 220.9L951 262.9M249 210.3L951 252.3M249 189.1L951 231.1M249 178.5L951 220.5M249 167.8L951 209.8M249 157.2L951 199.2M249 136L951 178M249 125.4L951 167.4M249 114.7L951 156.7M249 104.1L951 146.1M249 82.9L951 124.9M249 72.3L951 114.3M249 61.6L951 103.6M249 51L951 93M607.3 327.3L607.3 61.8M663.4 330.7L663.4 65.2M703.2 333.1L703.2 67.6M759.2 336.4L759.2 70.9M780.6 337.7L780.6 72.2M799 338.8L799 73.3M815.3 339.8L815.3 74.3M843.1 341.4L843.1 75.9M855.1 342.2L855.1 76.7M866.2 342.8L866.2 77.3M876.4 343.4L876.4 77.9M894.9 344.5L894.9 79M903.3 345L903.3 79.5M911.2 345.5L911.2 80M918.7 346L918.7 80.5M932.5 346.8L932.5 81.3M939 347.2L939 81.7M945.1 347.5L945.1 82M951 347.9L951 82.4M420.3 483.9L607.3 327.3M476.4 487.3L663.4 330.7M516.2 489.7L703.2 333.1M572.2 493L759.2 336.4M593.6 494.3L780.6 337.7M612 495.4L799 338.8M628.3 496.4L815.3 339.8M656.1 498L843.1 341.4M668.1 498.8L855.1 342.2M679.2 499.4L866.2 342.8M689.4 500L876.4 343.4M707.9 501.1L894.9 344.5M716.3 501.6L903.3 345M724.2 502.1L911.2 345.5M731.7 502.6L918.7 346M745.5 503.4L932.5 346.8M752 503.8L939 347.2M758.1 504.1L945.1 347.5M764 504.5L951 347.9M71.3 454.7L773.4 496.7M90 439L792 481M108.8 423.4L810.8 465.4M127.5 407.7L829.5 449.7M146.2 392L848.1 434M164.9 376.4L866.9 418.4M183.6 360.7L885.5 402.7M202.2 345.1L904.2 387.1M220.9 329.4L923 371.4M239.7 313.7L941.6 355.7" stroke="#000" stroke-width="1" stroke-dasharray="1 3" fill="none" shape-rendering="crispEdges"/>
<path d="M62 462.5L249 305.9M62 409.4L249 252.8M62 356.3L249 199.7M62 303.2L249 146.6M62 250.1L249 93.5M62 197L249 40.4M62 462.5L62 197M80.7 446.8L80.7 181.3M99.4 431.2L99.4 165.7M118.1 415.5L118.1 150M136.8 399.9L136.8 134.4M155.5 384.2L155.5 118.7M174.2 368.5L174.2 103M192.9 352.9L192.9 87.4M211.6 337.2L211.6 71.7M230.3 321.6L230.3 56.1M249 305.9L249 40.4M249 305.9L951 347.9M249 252.8L951 294.8M249 199.7L951 241.7M249 146.6L951 188.6M249 93.5L951 135.5M249 40.4L951 82.4M319.7 310.1L319.7 44.6M415.5 315.9L415.5 50.4M511.4 321.6L511.4 56.1M638.2 329.2L638.2 63.7M734 334.9L734 69.4M829.9 340.7L829.9 75.2M925.8 346.4L925.8 80.9M132.7 466.7L319.7 310.1M228.5 472.5L415.5 315.9M324.4 478.2L511.4 321.6M451.2 485.8L638.2 329.2M547 491.5L734 334.9M642.9 497.3L829.9 340.7M738.8 503L925.8 346.4M764 504.5L951 347.9M62 462.5L764 504.5M80.7 446.8L782.7 488.8M99.4 431.2L801.4 473.2M118.1 415.5L820.1 457.5M136.8 399.9L838.8 441.9M155.5 384.2L857.5 426.2M174.2 368.5L876.2 410.5M192.9 352.9L894.9 394.9M211.6 337.2L913.6 379.2M230.3 321.6L932.3 363.6M249 305.9L951 347.9" stroke="#000" stroke-width="1" fill="none" shape-rendering="crispEdges"/>
<g class="s" transform="scale(.25)">
<path class="ln" d="M959 479l6-6 7-5 6-6 7-6 6-6 7 0 6 4 7 4 6 5 7 6 7 6 6 7 7 7 6 4 7 4 6 4 7 4 6 3 7 3 6 3 7 2 7 2 6 2 7 1 6 1 7 1 6 1 7 1 6 1 7 1 6 2 7 1 7 2 6 1 7 1 6 0 7 0 6 0 7-1 6-1 7 0 6-1 7 0 7 1 6 1 7 1 6 2 7 3 6 2 7 4 6 3 7 3 6 3 7 3 7 2 6 2 7 2 6 2 7 2 6 3 7 3 6 4 7 4 6 4 7 4 7 5 6 5 7 4 6 4 7 4 6 4 7 2 6 3 7 1 6-2 7-4 6-3 7-3 7-3 6-3 7-2 6-2 7-2 6-1 7-2 6-1 7-1 6-2 7-2 7-2 6-2 7-3 6-2 7 2 6 1 7 2 6 2 7 3 6 3 7 4 7 4 6 4 7 4 6 5 7 3 6 4 7 4 6 3 7 2 6 2 7 2 7 2 6 1 7 2 6 2 7 2 6 3 7 2 6 3 7 2 6 3 7 3 7 2 6 1 7 3 6 2 7 1 6 2 7 1 6 1 7 2 6 1 7 2 7 3 6 3 7 4 6 4 7 4 6 6 7 4 6 5 7 3 6 6 7 0 6 1 7 1 7 4 6 3 7 2 6 1 7 1 6 4 7 4 6 4 7 5 6 2 7 1 7 2 6 2 7 3 6 3 7-1 6-2 7-3 6-1 7 2 6-3 7-2 7 2 6-4 7-2 6-1 7 1 6-1 7-3 6-3 7-1 6-1 7 1 7 4 6-5 7-1 6 1 7 0 6 8 7 3 6 2 7 6 6 7 7 11 7 10 6-3 7-3 6-1 7-2 6-5 7-2 6 0 7-1 6-2 7 2 7 3 6 5 7 0 6-2 7-3 6 0 7-4 6-3 7-1 6-12 7-4 6 2 7 7 7-10 6-3 7-1 6-6 7 5 6 3 7 2 6 3 7 0 6 5 7 7 7-5 6 4 7 6 6 6 7 0 6-2 7-1 6-2 7-3 6 1 7 2 7-2 6 1 7 3 6 4 7 13 6 3 7 4 6 10 7 8 6-2 7-3 7 3 6 1 7-2 6-5 7-8 6 7 7 6 6 7 7 18 6-2 7 7 7 10 6 4 7 4 6 1 7 1 6 0 7 4 6 2 7-2 6 4 7 2 7 0 6-2 7 6 6 2 7-5 6 0 7-5 6-7 7-3 6-2 7 1 6 11 7 9 7 4 6 7 7 9 6 10 7 17 6 0 7 3 6 4 7 10 6 3 7-10 7-7 6-12 7-15 6-14 7-17 6-17 7-9 6-8 7-1 6 23 7 18 7 24 6 18 7 15 6 1 7 0 6 5 7 5 6-1 7-1 6 3 7 16 7-3 6-1 7 2 6 7 7 2 6-3 7-4 6-4 7-6 6-5 7 0 7 8 6 0 7 0 6 14 7 14 6 11 7 28 6-11 7 10 6 0 7 2 6 6 7 6 7-13 6 1 7 16 6 6 7 6 6 9 7 18 6 2 7 7 6 3 7 0 7 0 6 2 7 1 6 4 7-2 6 3 7-3 6 2 7 5 6 5 7 1 7-5 6-2 7 2 6-3 7 0 6 22 7 7 6-1 7 26 6 2 7 2 7 31 6-2 7 1 6-32 7 58 6-9 7-41 6 24 7 25 6-24 7-9 7 0 6-11 7 12 6-17 7-3 6 9 7 48 6-2 7-20 6-29 7 42 7-13 6 24 7-33 6 32 7 13 6 19 7-2 6-41 7 42 6-36 7 54 6-8 7-29 7 77 6-65 7 108 6-46 7 5 6 59 7-1 6-43 7 19 6 8 7 11 7 7"/>
<path fill="url(#g0)" stroke="url(#g0)" d="M959 479l6-6 7-5 6-6 7-6 6-6 7 0 6 4 7 4 6 5 7 6 7 6 6 7 7 7 6 4 7 4 6 4 7 4 6 3 7 3 6 3 7 2 7 2 6 2 7 1 6 1 7 1 6 1 7 1 6 1 7 1 6 2 7 1 7 2 6 1 7 1 6 0 7 0 6 0 7-1 6-1 7 0 6-1 7 0 7 1 6 1 7 1 6 2 7 3 6 2 7 4 6 3 7 3 6 3 7 3 7 2 6 2 7 2 6 2 7 2 6 3 7 3 6 4 7 4 6 4 7 4 7 5 6 5 7 4 6 4 7 4 6 4 7 2 6 3 7 1 6-2 7-4 6-3 7-3 7-3 6-3 7-2 6-2 7-2 6-1 7-2 6-1 7-1 6-2 7-2 7-2 6-2 7-3 6-2 7 2 6 1 7 2 6 2 7 3 6 3 7 4 7 4 6 4 7 4 6 5 7 3 6 4 7 4 6 3 7 2 6 2 7 2 7 2 6 1 7 2 6 2 7 2 6 3 7 2 6 3 7 2 6 3 7 3 7 2 6 1 7 3 6 2 7 1 6 2 7 1 6 1 7 2 6 1 7 2 7 3 6 3 7 4 6 4 7 4 6 6 7 4 6 5 7 3 6 6 7 0 6 1 7 1 7 4 6 3 7 2 6 1 7 1 6 4 7 4 6 4 7 5 6 2 7 1 7 2 6 2 7 3 6 3 7-1 6-2 7-3 6-1 7 2 6-3 7-2 7 2 6-4 7-2 6-1 7 1 6-1 7-3 6-3 7-1 6-1 7 1 7 4 6-5 7-1 6 1 7 0 6 8 7 3 6 2 7 6 6 7 7 11 7 10 6-3 7-3 6-1 7-2 6-5 7-2 6 0 7-1 6-2 7 2 7 3 6 5 7 0 6-2 7-3 6 0 7-4 6-3 7-1 6-12 7-4 6 2 7 7 7-10 6-3 7-1 6-6 7 5 6 3 7 2 6 3 7 0 6 5 7 7 7-5 6 4 7 6 6 6 7 0 6-2 7-1 6-2 7-3 6 1 7 2 7-2 6 1 7 3 6 4 7 13 6 3 7 4 6 10 7 8 6-2 7-3 7 3 6 1 7-2 6-5 7-8 6 7 7 6 6 7 7 18 6-2 7 7 7 10 6 4 7 4 6 1 7 1 6 0 7 4 6 2 7-2 6 4 7 2 7 0 6-2 7 6 6 2 7-5 6 0 7-5 6-7 7-3 6-2 7 1 6 11 7 9 7 4 6 7 7 9 6 10 7 17 6 0 7 3 6 4 7 10 6 3 7-10 7-7 6-12 7-15 6-14 7-17 6-17 7-9 6-8 7-1 6 23 7 18 7 24 6 18 7 15 6 1 7 0 6 5 7 5 6-1 7-1 6 3 7 16 7-3 6-1 7 2 6 7 7 2 6-3 7-4 6-4 7-6 6-5 7 0 7 8 6 0 7 0 6 14 7 14 6 11 7 28 6-11 7 10 6 0 7 2 6 6 7 6 7-13 6 1 7 16 6 6 7 6 6 9 7 18 6 2 7 7 6 3 7 0 7 0 6 2 7 1 6 4 7-2 6 3 7-3 6 2 7 5 6 5 7 1 7-5 6-2 7 2 6-3 7 0 6 22 7 7 6-1 7 26 6 2 7 2 7 31 6-2 7 1 6-32 7 58 6-9 7-41 6 24 7 25 6-24 7-9 7 0 6-11 7 12 6-17 7-3 6 9 7 48 6-2 7-20 6-29 7 42 7-13 6 24 7-33 6 32 7 13 6 19 7-2 6-41 7 42 6-36 7 54 6-8 7-29 7 77 6-65 7 108 6-46 7 5 6 59 7-1 6-43 7 19 6 8 7 11 7 7-38 33-6 0-7-3-6 1-7-51-7 1-6 23-7-93-6 47-7-16-6-48-7-29-6 14-7 11-6-6-7-10-7-14-6-12-7-39-6 25-7-16-6 17-7-54-6 10-7 13-6-15-7 2-7 40-6 0-7-32-6 22-7-16-6 23-7-41-6 34-7-10-6 3-7-5-7-13-6-6-7-3-6-29-7 14-6-11-7 1-6-17-7 5-6-9-7 5-6-5-7-14-7 18-6-13-7-9-6-4-7 0-6 2-7-3-6-8-7-8-6 6-7-3-7-11-6 4-7-3-6-5-7-4-6-6-7-6-6-8-7-9-6 7-7-21-7 0-6 5-7-11-6-12-7-7-6-13-7-15-6-16-7-15-6-9-7 8-7 10-6 2-7 2-6 2-7 3-6 6-7-1-6 0-7 8-6 5-7 1-7 2-6 7-7 4-6-1-7-3-6 2-7-2-6-11-7-15-6-6-7 0-7-25-6-10-7-9-6-12-7-15-6-19-7-6-6 2-7 4-6 3-7 27-6-8-7 5-7 0-6 3-7 4-6 5-7 3-6-1-7-1-6 4-7-3-6-3-7-2-7 1-6-11-7-5-6 2-7-4-6 28-7-13-6-1-7 20-6-23-7-6-7-3-6 1-7 0-6-1-7 1-6 0-7-6-6-8-7 2-6-9-7-6-7-1-6-11-7-6-6 2-7-11-6 3-7-4-6-9-7-10-6-3-7 5-7 9-6 1-7-1-6-1-7 0-6 5-7 3-6 0-7-7-6 4-7-2-7-5-6-10-7 8-6 1-7-4-6-1-7-4-6-6-7-6-6-3-7-5-6-3-7 0-7-22-6 0-7 5-6-11-7 7-6-1-7-6-6-2-7-4-6-5-7-4-7-5-6-1-7-1-6-3-7-3-6 2-7 4-6 3-7 0-6-1-7 1-7 5-6 6-7 5-6 4-7 11-6 12-7 3-6-9-7 4-6 2-7 0-7-5-6 8-7 6-6 3-7-1-6-1-7-1-6-2-7-5-6-4-7-3-7-3-6 3-7-2-6-1-7 3-6 1-7 2-6 2-7 1-6 2-7 1-6 0-7-4-7-3-6-2-7-4-6-9-7-3-6-1-7 2-6-4-7 0-6 2-7 2-7 1-6 2-7 4-6 3-7-1-6 0-7 1-6-3-7-2-6-4-7-9-7-2-6-5-7-5-6-1-7-1-6-1-7-2-6-3-7-1-6-1-7-2-7-4-6-3-7-3-6-5-7-3-6-5-7-5-6-2-7-4-6-2-7-1-7-2-6-1-7-1-6-1-7-2-6-2-7-3-6-2-7-2-6-3-7-3-7-3-6-2-7-2-6-2-7-2-6-1-7-2-6-1-7-1-6-1-7-1-6-2-7-2-7-2-6-3-7-3-6-4-7-4-6-4-7-4-6-3-7-3-6-3-7-2-7-2-6-1-7-1-6 0-7 1-6 2-7 2-6 2-7 1-6 1-7 1-7 1-6 0-7 1-6 2-7 1-6 2-7 3-6 2-7 3-6 3-7 3-7 2-6-2-7-1-6-3-7-3-6-3-7-4-6-4-7-5-6-4-7-3-7-4-6-3-7-3-6-2-7-3-6-1-7-2-6-2-7-2-6-2-7-2-7-3-6-3-7-3-6-2-7-3-6-1-7-2-6-1-7 0-6 0-7 0-6 1-7 0-7 1-6 1-7 1-6 0-7-1-6-1-7-1-6-2-7-1-6-2-7-1-7-1-6-1-7-1-6 0-7-1-6-1-7-1-6-2-7-1-6-3-7-3-7-3-6-3-7-4-6-3-7-3-6-6-7-6-6-4-7-5-6-3-7-4-7-3-6 1-7 5-6 5-7 5-6 5-7 4z"/>
<path fill="url(#g1)" stroke="url(#g1)" d="M3622 1225l7 77 6-65 7 108 6-46 7 5 6 59-37 5-7-93-6 47-7-16-6-48-7-29-6 14z"/>
<path class="ln" d="M921 509l7-4 6-5 7-5 6-5 7-5 6-1 7 3 7 4 6 3 7 5 6 4 7 6 6 6 7 3 6 3 7 4 6 3 7 3 7 3 6 3 7 1 6 2 7 1 6 1 7 1 6 0 7 1 6 1 7 1 7 1 6 2 7 1 6 2 7 1 6 1 7 1 6 0 7-1 6-1 7-1 7 0 6-1 7 0 6 0 7 0 6 1 7 2 6 1 7 3 6 2 7 3 6 3 7 3 7 2 6 2 7 2 6 2 7 2 6 1 7 3 6 2 7 3 6 3 7 4 7 3 6 4 7 5 6 4 7 4 6 3 7 3 6 3 7 1 6 2 7-2 7-3 6-3 7-3 6-2 7-3 6-2 7-1 6-2 7-1 6 0 7-1 7-1 6-1 7-1 6-2 7-2 6-2 7-1 6 0 7 1 6 1 7 2 7 2 6 3 7 3 6 3 7 4 6 4 7 4 6 4 7 3 6 3 7 2 7 2 6 2 7 1 6 1 7 1 6 1 7 2 6 1 7 2 6 2 7 2 6 2 7 3 7 3 6 3 7 2 6 2 7 3 6 2 7 2 6 1 7 1 6 1 7 2 7 1 6 2 7 4 6 2 7 5 6 5 7 3 6 5 7 3 6 3 7 4 7 2 6 1 7 1 6 3 7 2 6 1 7 1 6 1 7 5 6 5 7 2 7 9 6 4 7 2 6 3 7-1 6 0 7 1 6-3 7-4 6-2 7-1 7-2 6-2 7 0 6 4 7-2 6 1 7 3 6 9 7 4 6 2 7 3 7 4 6 0 7-1 6-2 7-1 6-2 7-2 6-1 7-3 6 1 7 2 6-3 7 3 7 3 6 4 7 5 6 2 7 1 6 1 7 1 6-3 7-6 6-8 7 5 7 0 6-2 7-4 6 9 7-3 6-12 7-11 6-4 7-5 6-6 7-5 7-1 6 1 7 0 6-3 7-4 6-2 7 3 6 3 7 1 6 1 7 5 7 4 6 5 7 4 6 2 7 6 6 1 7-7 6 11 7-5 6 0 7 22 7 0 6 3 7 5 6 3 7 6 6 6 7 4 6 1 7 4 6-1 7-8 6 10 7 5 7 2 6-4 7 7 6 0 7-3 6-5 7 0 6 1 7 1 6-1 7-9 7-5 6 3 7 10 6 9 7 4 6-3 7 11 6-2 7 6 6 11 7 1 7 6 6 9 7-2 6 8 7 6 6 0 7-1 6 1 7 0 6-1 7 3 7 6 6 23 7-20 6 1 7 13 6-28 7 4 6-2 7 5 6 11 7-1 7 2 6 3 7 3 6-4 7 1 6 1 7-3 6-5 7-4 6-3 7 0 7-5 6 8 7-27 6-3 7-4 6-2 7 6 6 19 7 15 6 12 7 9 6 10 7 25 7 0 6 6 7 15 6 11 7 2 6-2 7 3 6 1 7-4 6-7 7-2 7-1 6-5 7-8 6 0 7 1 6-6 7-3 6-2 7-2 6-2 7-10 7-8 6 9 7 15 6 16 7 15 6 13 7 7 6 12 7 11 6-5 7 0 7 21 6-7 7 9 6 8 7 6 6 6 7 4 6 5 7 3 6-4 7 11 7 3 6-6 7 8 6 8 7 3 6-2 7 0 6 4 7 9 6 13 7-18 7 14 6 5 7-5 6 9 7-5 6 17 7-1 6 11 7-14 6 29 7 3 6 6 7 13 7 5 6-3 7 10 6-34 7 41 6-23 7 16 6-22 7 32 6 0 7-40 7-2 6 15 7-13 6-10 7 54 6-17 7 16 6-25 7 39 6 12 7 14 7 10 6 6 7-11 6-14 7 29 6 48 7 16 6-47 7 93 6-23 7-1 7 51 6-1 7 3 6 0"/>
<path fill="url(#g2)" stroke="url(#g2)" d="M921 509l7-4 6-5 7-5 6-5 7-5 6-1 7 3 7 4 6 3 7 5 6 4 7 6 6 6 7 3 6 3 7 4 6 3 7 3 7 3 6 3 7 1 6 2 7 1 6 1 7 1 6 0 7 1 6 1 7 1 7 1 6 2 7 1 6 2 7 1 6 1 7 1 6 0 7-1 6-1 7-1 7 0 6-1 7 0 6 0 7 0 6 1 7 2 6 1 7 3 6 2 7 3 6 3 7 3 7 2 6 2 7 2 6 2 7 2 6 1 7 3 6 2 7 3 6 3 7 4 7 3 6 4 7 5 6 4 7 4 6 3 7 3 6 3 7 1 6 2 7-2 7-3 6-3 7-3 6-2 7-3 6-2 7-1 6-2 7-1 6 0 7-1 7-1 6-1 7-1 6-2 7-2 6-2 7-1 6 0 7 1 6 1 7 2 7 2 6 3 7 3 6 3 7 4 6 4 7 4 6 4 7 3 6 3 7 2 7 2 6 2 7 1 6 1 7 1 6 1 7 2 6 1 7 2 6 2 7 2 6 2 7 3 7 3 6 3 7 2 6 2 7 3 6 2 7 2 6 1 7 1 6 1 7 2 7 1 6 2 7 4 6 2 7 5 6 5 7 3 6 5 7 3 6 3 7 4 7 2 6 1 7 1 6 3 7 2 6 1 7 1 6 1 7 5 6 5 7 2 7 9 6 4 7 2 6 3 7-1 6 0 7 1 6-3 7-4 6-2 7-1 7-2 6-2 7 0 6 4 7-2 6 1 7 3 6 9 7 4 6 2 7 3 7 4 6 0 7-1 6-2 7-1 6-2 7-2 6-1 7-3 6 1 7 2 6-3 7 3 7 3 6 4 7 5 6 2 7 1 6 1 7 1 6-3 7-6 6-8 7 5 7 0 6-2 7-4 6 9 7-3 6-12 7-11 6-4 7-5 6-6 7-5 7-1 6 1 7 0 6-3 7-4 6-2 7 3 6 3 7 1 6 1 7 5 7 4 6 5 7 4 6 2 7 6 6 1 7-7 6 11 7-5 6 0 7 22 7 0 6 3 7 5 6 3 7 6 6 6 7 4 6 1 7 4 6-1 7-8 6 10 7 5 7 2 6-4 7 7 6 0 7-3 6-5 7 0 6 1 7 1 6-1 7-9 7-5 6 3 7 10 6 9 7 4 6-3 7 11 6-2 7 6 6 11 7 1 7 6 6 9 7-2 6 8 7 6 6 0 7-1 6 1 7 0 6-1 7 3 7 6 6 23 7-20 6 1 7 13 6-28 7 4 6-2 7 5 6 11 7-1 7 2 6 3 7 3 6-4 7 1 6 1 7-3 6-5 7-4 6-3 7 0 7-5 6 8 7-27 6-3 7-4 6-2 7 6 6 19 7 15 6 12 7 9 6 10 7 25 7 0 6 6 7 15 6 11 7 2 6-2 7 3 6 1 7-4 6-7 7-2 7-1 6-5 7-8 6 0 7 1 6-6 7-3 6-2 7-2 6-2 7-10 7-8 6 9 7 15 6 16 7 15 6 13 7 7 6 12 7 11 6-5 7 0 7 21 6-7 7 9 6 8 7 6 6 6 7 4 6 5 7 3 6-4 7 11 7 3 6-6 7 8 6 8 7 3 6-2 7 0 6 4 7 9 6 13 7-18 7 14 6 5 7-5 6 9 7-5 6 17 7-1 6 11 7-14 6 29 7 3 6 6 7 13 7 5 6-3 7 10 6-34 7 41 6-23 7 16 6-22 7 32 6 0 7-40 7-2 6 15 7-13 6-10 7 54 6-17 7 16 6-25 7 39 6 12 7 14 7 10 6 6 7-11 6-14 7 29 6 48 7 16 6-47 7 93 6-23 7-1 7 51 6-1 7 3 6 0-37 34-7-29-6-2-7 6-6 5-7-71-6 49-7-45-7 1-6-13-7-5-6-68-7-5-6 23-7-25-6-17-7-22-6-22-7-41-7-11-6-29-7-3-6 2-7-9-6 8-7-31-6-9-7 38-6-5-7-6-7 19-6 20-7-18-6 16-7-28-6 24-7-7-6-14-7 13-6-12-7-2-7-14-6 11-7-6-6-7-7 4-6 1-7-21-6 5-7-1-6-9-7 1-7-22-6-14-7-15-6-19-7-8-6-19-7-22-6-20-7-2-6 0-7-1-7 1-6-4-7 0-6 10-7 9-6 5-7 3-6 8-7 2-6 2-7 4-6 3-7 3-7 1-6-1-7-2-6 0-7 1-6-3-7-3-6-4-7-5-6-11-7 2-7 1-6-1-7 7-6 0-7-2-6 4-7-3-6 16-7-17-6 9-7-9-7-5-6-11-7-14-6-20-7-15-6-13-7-18-6 16-7-10-6 6-7 2-7 1-6 3-7 7-6 6-7 3-6 0-7-1-6 3-7 2-6 0-7-10-7-7-6 13-7-18-6-2-7-3-6-5-7-6-6-8-7-1-6-1-7 9-7 15-6-10-7 1-6 3-7 4-6 5-7 3-6 2-7 21-6-18-7 6-6-12-7-4-7-6-6-1-7-4-6-3-7 1-6 11-7-19-6-5-7-1-6-5-7-6-7-8-6-8-7-3-6 3-7 4-6-5-7 10-6-10-7-7-6-2-7 2-7 0-6 0-7 4-6 4-7-6-6-9-7-3-6-4-7-4-6-4-7-8-7-6-6-2-7 2-6-2-7 2-6 8-7-4-6-1-7 0-6-2-7 0-7 1-6-4-7-14-6-5-7-6-6-7-7-8-6 2-7-4-6-11-7 4-7-6-6-6-7 0-6 2-7 2-6 3-7 3-6 3-7 3-6 2-7-1-6-4-7 2-7 7-6-8-7 1-6 2-7-1-6 8-7 6-6 3-7-1-6 1-7 0-7 0-6 3-7-2-6 3-7 6-6-5-7 2-6 2-7 2-6 5-7 4-7 4-6 0-7 2-6 3-7 2-6-3-7-2-6-3-7 0-6 4-7-2-7 0-6 3-7 2-6-3-7-4-6-1-7-1-6-4-7-4-6 1-7-2-7-2-6-3-7-2-6 0-7-2-6-3-7-5-6-2-7-1-6-2-7-3-7-3-6-3-7-2-6 0-7-2-6-5-7-2-6 0-7-1-6-1-7-3-6-3-7-4-7-2-6-6-7-4-6-2-7-3-6-4-7-3-6-3-7-2-6-1-7-1-7-1-6-1-7-1-6-1-7-2-6-2-7-2-6-3-7-3-6-1-7-2-7-1-6-1-7-1-6-1-7 0-6-1-7 0-6-1-7-1-6-2-7-2-7-2-6-3-7-4-6-3-7-4-6-3-7-3-6-3-7-2-6-2-7-1-7-1-6 0-7 0-6 1-7 2-6 1-7 1-6 1-7 0-6 1-7 0-6 1-7 0-7 1-6 2-7 2-6 2-7 2-6 2-7 3-6 2-7 2-6-1-7-2-7-2-6-3-7-3-6-4-7-3-6-4-7-4-6-3-7-3-6-2-7-3-7-2-6-1-7-2-6-1-7-1-6-2-7-2-6-2-7-3-6-2-7-3-7-2-6-2-7-1-6-1-7-1-6 0-7 1-6 1-7 0-6 1-7 1-7 1-6 0-7 0-6 0-7-1-6-2-7-1-6-2-7-1-6-1-7-1-7-1-6-1-7 0-6-1-7 0-6-1-7-2-6-1-7-2-6-3-7-3-6-3-7-3-7-3-6-3-7-5-6-4-7-4-6-3-7-2-6-3-7-2-6 1-7 5-7 4-6 5-7 3-6 4z"/>
<path fill="url(#g3)" stroke="url(#g3)" d="M3611 1322l6-47 7 93 6-23 7-1 7 51-38 11-6 5-7-71-6 49-7-45-7 1z"/>
<path class="ln" d="M884 540l6-4 7-3 6-5 7-4 7-5 6-1 7 2 6 3 7 2 6 3 7 4 6 4 7 5 6 3 7 3 7 3 6 3 7 3 6 3 7 2 6 1 7 2 6 1 7 0 6 1 7 0 6 1 7 1 7 1 6 1 7 1 6 2 7 1 6 2 7 1 6 0 7 0 6 0 7-1 7-1 6-1 7 0 6-1 7-1 6 0 7 1 6 1 7 1 6 2 7 2 7 3 6 2 7 3 6 2 7 2 6 2 7 1 6 1 7 2 6 1 7 2 7 3 6 2 7 3 6 3 7 4 6 4 7 3 6 4 7 3 6 3 7 2 7 2 6 1 7-2 6-2 7-3 6-2 7-2 6-2 7-2 6-2 7-1 7 0 6-1 7 0 6-1 7 0 6-1 7-1 6-1 7-2 6-1 7 0 6 0 7 1 7 1 6 2 7 2 6 3 7 3 6 3 7 4 6 3 7 4 6 3 7 2 7 2 6 2 7 1 6 1 7 0 6 1 7 0 6 1 7 1 6 1 7 1 7 2 6 1 7 3 6 3 7 2 6 2 7 2 6 1 7 1 6 1 7 1 7 1 6 1 7 2 6 3 7 3 6 4 7 3 6 2 7 4 6 6 7 2 7 4 6 3 7 3 6 1 7 1 6 0 7 2 6 5 7 2 6 0 7 2 6 3 7 3 7 3 6 2 7 1 6 2 7 5 6 3 7 2 6 0 7 2 6 3 7 2 7 2 6-1 7 4 6 4 7 1 6 1 7 4 6 3 7-2 6-3 7 0 7 2 6-4 7 0 6 3 7 2 6 3 7-2 6-3 7-2 6 0 7-4 7-4 6-5 7-2 6-2 7-2 6 5 7-6 6-3 7 2 6-3 7 0 7 0 6-1 7 1 6-3 7-6 6-8 7 1 6-2 7-1 6 8 7-7 7-2 6 4 7 1 6-2 7-3 6-3 7-3 6-3 7-2 6-2 7 0 6 6 7 6 7-4 6 11 7 4 6-2 7 8 6 7 7 6 6 5 7 14 6 4 7-1 7 0 6 2 7 0 6 1 7 4 6-8 7-2 6 2 7-2 6 2 7 6 7 8 6 4 7 4 6 4 7 3 6 9 7 6 6-4 7-4 6 0 7 0 7-2 6 2 7 7 6 10 7-10 6 5 7-4 6-3 7 3 6 8 7 8 7 6 6 5 7 1 6 5 7 19 6-11 7-1 6 3 7 4 6 1 7 6 7 4 6 12 7-6 6 18 7-21 6-2 7-3 6-5 7-4 6-3 7-1 6 10 7-15 7-9 6 1 7 1 6 8 7 6 6 5 7 3 6 2 7 18 6-13 7 7 7 10 6 0 7-2 6-3 7 1 6 0 7-3 6-6 7-7 6-3 7-1 7-2 6-6 7 10 6-16 7 18 6 13 7 15 6 20 7 14 6 11 7 5 7 9 6-9 7 17 6-16 7 3 6-4 7 2 6 0 7-7 6 1 7-1 7-2 6 11 7 5 6 4 7 3 6 3 7-1 6 0 7 2 6 1 7-1 7-3 6-3 7-4 6-2 7-2 6-8 7-3 6-5 7-9 6-10 7 0 6 4 7-1 7 1 6 0 7 2 6 20 7 22 6 19 7 8 6 19 7 15 6 14 7 22 7-1 6 9 7 1 6-5 7 21 6-1 7-4 6 7 7 6 6-11 7 14 7 2 6 12 7-13 6 14 7 7 6-24 7 28 6-16 7 18 6-20 7-19 7 6 6 5 7-38 6 9 7 31 6-8 7 9 6-2 7 3 6 29 7 11 7 41 6 22 7 22 6 17 7 25 6-23 7 5 6 68 7 5 6 13 7-1 7 45 6-49 7 71 6-5 7-6 6 2 7 29"/>
<path fill="url(#g4)" stroke="url(#g4)" d="M884 540l6-4 7-3 6-5 7-4 7-5 6-1 7 2 6 3 7 2 6 3 7 4 6 4 7 5 6 3 7 3 7 3 6 3 7 3 6 3 7 2 6 1 7 2 6 1 7 0 6 1 7 0 6 1 7 1 7 1 6 1 7 1 6 2 7 1 6 2 7 1 6 0 7 0 6 0 7-1 7-1 6-1 7 0 6-1 7-1 6 0 7 1 6 1 7 1 6 2 7 2 7 3 6 2 7 3 6 2 7 2 6 2 7 1 6 1 7 2 6 1 7 2 7 3 6 2 7 3 6 3 7 4 6 4 7 3 6 4 7 3 6 3 7 2 7 2 6 1 7-2 6-2 7-3 6-2 7-2 6-2 7-2 6-2 7-1 7 0 6-1 7 0 6-1 7 0 6-1 7-1 6-1 7-2 6-1 7 0 6 0 7 1 7 1 6 2 7 2 6 3 7 3 6 3 7 4 6 3 7 4 6 3 7 2 7 2 6 2 7 1 6 1 7 0 6 1 7 0 6 1 7 1 6 1 7 1 7 2 6 1 7 3 6 3 7 2 6 2 7 2 6 1 7 1 6 1 7 1 7 1 6 1 7 2 6 3 7 3 6 4 7 3 6 2 7 4 6 6 7 2 7 4 6 3 7 3 6 1 7 1 6 0 7 2 6 5 7 2 6 0 7 2 6 3 7 3 7 3 6 2 7 1 6 2 7 5 6 3 7 2 6 0 7 2 6 3 7 2 7 2 6-1 7 4 6 4 7 1 6 1 7 4 6 3 7-2 6-3 7 0 7 2 6-4 7 0 6 3 7 2 6 3 7-2 6-3 7-2 6 0 7-4 7-4 6-5 7-2 6-2 7-2 6 5 7-6 6-3 7 2 6-3 7 0 7 0 6-1 7 1 6-3 7-6 6-8 7 1 6-2 7-1 6 8 7-7 7-2 6 4 7 1 6-2 7-3 6-3 7-3 6-3 7-2 6-2 7 0 6 6 7 6 7-4 6 11 7 4 6-2 7 8 6 7 7 6 6 5 7 14 6 4 7-1 7 0 6 2 7 0 6 1 7 4 6-8 7-2 6 2 7-2 6 2 7 6 7 8 6 4 7 4 6 4 7 3 6 9 7 6 6-4 7-4 6 0 7 0 7-2 6 2 7 7 6 10 7-10 6 5 7-4 6-3 7 3 6 8 7 8 7 6 6 5 7 1 6 5 7 19 6-11 7-1 6 3 7 4 6 1 7 6 7 4 6 12 7-6 6 18 7-21 6-2 7-3 6-5 7-4 6-3 7-1 6 10 7-15 7-9 6 1 7 1 6 8 7 6 6 5 7 3 6 2 7 18 6-13 7 7 7 10 6 0 7-2 6-3 7 1 6 0 7-3 6-6 7-7 6-3 7-1 7-2 6-6 7 10 6-16 7 18 6 13 7 15 6 20 7 14 6 11 7 5 7 9 6-9 7 17 6-16 7 3 6-4 7 2 6 0 7-7 6 1 7-1 7-2 6 11 7 5 6 4 7 3 6 3 7-1 6 0 7 2 6 1 7-1 7-3 6-3 7-4 6-2 7-2 6-8 7-3 6-5 7-9 6-10 7 0 6 4 7-1 7 1 6 0 7 2 6 20 7 22 6 19 7 8 6 19 7 15 6 14 7 22 7-1 6 9 7 1 6-5 7 21 6-1 7-4 6 7 7 6 6-11 7 14 7 2 6 12 7-13 6 14 7 7 6-24 7 28 6-16 7 18 6-20 7-19 7 6 6 5 7-38 6 9 7 31 6-8 7 9 6-2 7 3 6 29 7 11 7 41 6 22 7 22 6 17 7 25 6-23 7 5 6 68 7 5 6 13 7-1 7 45 6-49 7 71 6-5 7-6 6 2 7 29-38 33-6-14-7-22-6-30-7-11-6-16-7-23-6-36-7 21-7-33-6 14-7-32-6-24-7-15-6-35-7-11-6-17-7-31-6-31-7-23-7-3-6-33-7-19-6 15-7-21-6 9-7 10-6-3-7-14-6 18-7 25-6-28-7-14-7-12-6 6-7 12-6-8-7-3-6 11-7-9-6 11-7-17-6-7-7-1-7-6-6-2-7-10-6-2-7-3-6-6-7-8-6 10-7-18-6-8-7-3-7-13-6-9-7-10-6 13-7-23-6-3-7-3-6 1-7 3-6-7-7 5-7 4-6 1-7 1-6-1-7-1-6-4-7 2-6 7-7 2-6-1-7 4-7 16-6 1-7 7-6-11-7 0-6 4-7 0-6-5-7-3-6 3-7 3-7 0-6-3-7-3-6-2-7-5-6-19-7 2-6 7-7 5-6 0-7-4-6-3-7 4-7 5-6 1-7-4-6-9-7-5-6-3-7 1-6 2-7 9-6-31-7 12-7-28-6-9-7-10-6-18-7-5-6 12-7 13-6-3-7 5-6 7-7 7-7 0-6 3-7 5-6 7-7 1-6 0-7-2-6-1-7 0-6-8-7-12-7-8-6-9-7-17-6-9-7 5-6 8-7-2-6 13-7 4-6 2-7 2-7 5-6 5-7 1-6-3-7-9-6-14-7-13-6-15-7-13-6-7-7 15-7-2-6 7-7 3-6-1-7-4-6 5-7 3-6 1-7 9-6 0-7-1-6 0-7-1-7-3-6-6-7-11-6-8-7-6-6-5-7-8-6 0-7-2-6-3-7-4-7-1-6-2-7-3-6-5-7-6-6-5-7-2-6-2-7-3-6-3-7-7-7 1-6 1-7 1-6 1-7-5-6-2-7 1-6-2-7-2-6-1-7 0-7 3-6 0-7 1-6 4-7 0-6-2-7-1-6 2-7-1-6 2-7 6-7-2-6 4-7 6-6 7-7-1-6 6-7 9-6 5-7-3-6 1-7 5-7 2-6-4-7-2-6 2-7 0-6-1-7-2-6-4-7 4-6 0-7 2-6 5-7 0-7 2-6 3-7 2-6 3-7-2-6-5-7-5-6-4-7-2-6 0-7-5-7-2-6-1-7-3-6 1-7 1-6 3-7 5-6 0-7-3-6-4-7 0-7-6-6-5-7-1-6-5-7-2-6-1-7-4-6-3-7-5-6-4-7-2-7-3-6-1-7-1-6-2-7-2-6-1-7-2-6-2-7-4-6-3-7-3-7-3-6-5-7-3-6-1-7-2-6-2-7-2-6 0-7 0-6 0-7 1-7-1-6-1-7-2-6-2-7-2-6-2-7-3-6-2-7-2-6-1-7-1-6-1-7 0-7-1-6 0-7 0-6 0-7-1-6-1-7-1-6-2-7-2-6-3-7-3-7-3-6-3-7-3-6-3-7-2-6-2-7-1-6-1-7 0-6 0-7 0-7 1-6 1-7 1-6 1-7 0-6 1-7 0-6 0-7 0-6 1-7 1-7 1-6 2-7 2-6 2-7 2-6 2-7 2-6 1-7-1-6-2-7-2-7-2-6-3-7-3-6-4-7-3-6-3-7-3-6-2-7-2-6-2-7-2-6-1-7-1-7-1-6-1-7-2-6-2-7-2-6-2-7-2-6-2-7-2-6-2-7-1-7 0-6 0-7 0-6 1-7 1-6 1-7 1-6 1-7 1-6 0-7 0-7-1-6-1-7-1-6-2-7-1-6-1-7-2-6 0-7-1-6-1-7 0-7 0-6-1-7-1-6-2-7-1-6-3-7-2-6-3-7-3-6-3-7-3-7-3-6-3-7-4-6-2-7-3-6-1-7-2-6-1-7 1-6 4-7 4-7 4-6 3-7 3z"/>
<path fill="url(#g5)" stroke="url(#g5)" d="M3580 1344l7 45 6-49 7 71-38-24-6-16-7-23-6-36z"/>
<path class="ln" d="M846 571l7-3 6-3 7-4 7-4 6-4 7-1 6 1 7 2 6 1 7 3 6 2 7 4 6 3 7 3 7 3 6 3 7 3 6 3 7 2 6 3 7 1 6 2 7 1 6 1 7 0 7 0 6 1 7 1 6 0 7 2 6 1 7 1 6 2 7 1 6 1 7 1 7 0 6 0 7-1 6-1 7-1 6-1 7-1 6-1 7 0 6 0 7 0 7 1 6 2 7 2 6 2 7 2 6 2 7 2 6 2 7 2 6 1 7 1 7 1 6 1 7 2 6 2 7 2 6 2 7 3 6 3 7 3 6 4 7 3 6 3 7 2 7 2 6 2 7 1 6-1 7-2 6-2 7-2 6-2 7-2 6-2 7-1 7-1 6-1 7 0 6 0 7 0 6-1 7 0 6-1 7-1 6-1 7-1 7 0 6 0 7 0 6 1 7 1 6 2 7 2 6 3 7 3 6 3 7 3 7 3 6 3 7 2 6 2 7 1 6 1 7 1 6 0 7 0 6 0 7 1 7 0 6 1 7 1 6 1 7 2 6 2 7 3 6 2 7 2 6 2 7 2 6 1 7 1 7-1 6 0 7 0 6 0 7 2 6 2 7 2 6 1 7 3 6 5 7 3 7 3 6 3 7 4 6 2 7 2 6 1 7 2 6 2 7 1 6 1 7 3 7 2 6 4 7 5 6 3 7 4 6 1 7 2 6 5 7 1 6 5 7 6 7 0 6 4 7 3 6 0 7-5 6-3 7-1 6-1 7 3 6 1 7 2 7 5 6 0 7 2 6 4 7 5 6 5 7 2 6-3 7-2 6-3 7-2 7 0 6-5 7-2 6 0 7-4 6 4 7 2 6 1 7 0 6-2 7 2 6 4 7-2 7-5 6-1 7 3 6-5 7-9 6-6 7 1 6-7 7-6 6-4 7 2 7-6 6-2 7 1 6-2 7 1 6 2 7 0 6-4 7-1 6 0 7-3 7 0 6 1 7 2 6 2 7-1 6 2 7 5 6-1 7-1 6-1 7-1 7 7 6 3 7 3 6 2 7 2 6 5 7 6 6 5 7 3 6 2 7 1 7 4 6 3 7 2 6 0 7 8 6 5 7 6 6 8 7 11 6 6 7 3 7 1 6 0 7 1 6 0 7-9 6-1 7-3 6-5 7 4 6 1 7-3 6-7 7 2 7-15 6 7 7 13 6 15 7 13 6 14 7 9 6 3 7-1 6-5 7-5 7-2 6-2 7-4 6-13 7 2 6-8 7-5 6 9 7 17 6 9 7 8 7 12 6 8 7 0 6 1 7 2 6 0 7-1 6-7 7-5 6-3 7 0 7-7 6-7 7-5 6 3 7-13 6-12 7 5 6 18 7 10 6 9 7 28 7-12 6 31 7-9 6-2 7-1 6 3 7 5 6 9 7 4 6-1 7-5 7-4 6 3 7 4 6 0 7-5 6-7 7-2 6 19 7 5 6 2 7 3 6 3 7 0 7-3 6-3 7 3 6 5 7 0 6-4 7 0 6 11 7-7 6-1 7-16 7-4 6 1 7-2 6-7 7-2 6 4 7 1 6 1 7-1 6-1 7-4 7-5 6 7 7-3 6-1 7 3 6 3 7 23 6-13 7 10 6 9 7 13 7 3 6 8 7 18 6-10 7 8 6 6 7 3 6 2 7 10 6 2 7 6 7 1 6 7 7 17 6-11 7 9 6-11 7 3 6 8 7-12 6-6 7 12 7 14 6 28 7-25 6-18 7 14 6 3 7-10 6-9 7 21 6-15 7 19 6 33 7 3 7 23 6 31 7 31 6 17 7 11 6 35 7 15 6 24 7 32 6-14 7 33 7-21 6 36 7 23 6 16 7 11 6 30 7 22 6 14"/>
<path fill="url(#g6)" stroke="url(#g6)" d="M846 571l7-3 6-3 7-4 7-4 6-4 7-1 6 1 7 2 6 1 7 3 6 2 7 4 6 3 7 3 7 3 6 3 7 3 6 3 7 2 6 3 7 1 6 2 7 1 6 1 7 0 7 0 6 1 7 1 6 0 7 2 6 1 7 1 6 2 7 1 6 1 7 1 7 0 6 0 7-1 6-1 7-1 6-1 7-1 6-1 7 0 6 0 7 0 7 1 6 2 7 2 6 2 7 2 6 2 7 2 6 2 7 2 6 1 7 1 7 1 6 1 7 2 6 2 7 2 6 2 7 3 6 3 7 3 6 4 7 3 6 3 7 2 7 2 6 2 7 1 6-1 7-2 6-2 7-2 6-2 7-2 6-2 7-1 7-1 6-1 7 0 6 0 7 0 6-1 7 0 6-1 7-1 6-1 7-1 7 0 6 0 7 0 6 1 7 1 6 2 7 2 6 3 7 3 6 3 7 3 7 3 6 3 7 2 6 2 7 1 6 1 7 1 6 0 7 0 6 0 7 1 7 0 6 1 7 1 6 1 7 2 6 2 7 3 6 2 7 2 6 2 7 2 6 1 7 1 7-1 6 0 7 0 6 0 7 2 6 2 7 2 6 1 7 3 6 5 7 3 7 3 6 3 7 4 6 2 7 2 6 1 7 2 6 2 7 1 6 1 7 3 7 2 6 4 7 5 6 3 7 4 6 1 7 2 6 5 7 1 6 5 7 6 7 0 6 4 7 3 6 0 7-5 6-3 7-1 6-1 7 3 6 1 7 2 7 5 6 0 7 2 6 4 7 5 6 5 7 2 6-3 7-2 6-3 7-2 7 0 6-5 7-2 6 0 7-4 6 4 7 2 6 1 7 0 6-2 7 2 6 4 7-2 7-5 6-1 7 3 6-5 7-9 6-6 7 1 6-7 7-6 6-4 7 2 7-6 6-2 7 1 6-2 7 1 6 2 7 0 6-4 7-1 6 0 7-3 7 0 6 1 7 2 6 2 7-1 6 2 7 5 6-1 7-1 6-1 7-1 7 7 6 3 7 3 6 2 7 2 6 5 7 6 6 5 7 3 6 2 7 1 7 4 6 3 7 2 6 0 7 8 6 5 7 6 6 8 7 11 6 6 7 3 7 1 6 0 7 1 6 0 7-9 6-1 7-3 6-5 7 4 6 1 7-3 6-7 7 2 7-15 6 7 7 13 6 15 7 13 6 14 7 9 6 3 7-1 6-5 7-5 7-2 6-2 7-4 6-13 7 2 6-8 7-5 6 9 7 17 6 9 7 8 7 12 6 8 7 0 6 1 7 2 6 0 7-1 6-7 7-5 6-3 7 0 7-7 6-7 7-5 6 3 7-13 6-12 7 5 6 18 7 10 6 9 7 28 7-12 6 31 7-9 6-2 7-1 6 3 7 5 6 9 7 4 6-1 7-5 7-4 6 3 7 4 6 0 7-5 6-7 7-2 6 19 7 5 6 2 7 3 6 3 7 0 7-3 6-3 7 3 6 5 7 0 6-4 7 0 6 11 7-7 6-1 7-16 7-4 6 1 7-2 6-7 7-2 6 4 7 1 6 1 7-1 6-1 7-4 7-5 6 7 7-3 6-1 7 3 6 3 7 23 6-13 7 10 6 9 7 13 7 3 6 8 7 18 6-10 7 8 6 6 7 3 6 2 7 10 6 2 7 6 7 1 6 7 7 17 6-11 7 9 6-11 7 3 6 8 7-12 6-6 7 12 7 14 6 28 7-25 6-18 7 14 6 3 7-10 6-9 7 21 6-15 7 19 6 33 7 3 7 23 6 31 7 31 6 17 7 11 6 35 7 15 6 24 7 32 6-14 7 33 7-21 6 36 7 23 6 16 7 11 6 30 7 22 6 14-37 33-7-20-6-25-7-19-6-67-7-16-6-12-7 6-6 0-7-34-6-8-7-23-7-27-6-7-7-22-6-44-7-38-6-47-7-31-6-41-7-33-6-17-7-28-7-20-6 0-7 3-6 2-7 3-6 12-7 12-6-5-7-1-6 5-7 0-7 2-6 2-7 2-6-11-7 7-6-9-7 3-6 14-7-35-6-2-7-19-7-29-6-24-7 8-6 6-7 1-6 3-7-1-6-8-7-2-6 5-7-1-7 1-6 1-7 13-6-25-7-2-6 0-7-2-6-1-7-9-6 4-7 19-6-14-7 5-7 4-6 0-7-1-6 2-7 7-6 9-7 6-6 5-7 7-6 3-7 19-7-10-6-3-7 2-6 0-7-6-6-13-7 2-6 2-7 2-6-2-7-1-7 1-6 1-7 0-6 2-7 5-6 7-7 12-6-13-7 0-6 5-7-8-7-6-6-4-7 6-6-16-7-5-6 14-7-19-6-3-7 17-6-13-7 7-7 1-6-1-7-1-6-3-7 0-6 3-7 6-6 9-7-16-6-9-7 5-6 4-7 1-7-4-6 1-7 6-6-5-7 4-6 18-7-15-6 0-7-8-6 1-7-4-7-11-6-10-7-10-6 7-7-33-6-4-7-13-6-16-7 0-6 17-7-5-7 1-6 9-7-1-6 7-7 8-6-1-7-3-6-2-7 1-6 2-7-2-7-4-6-2-7 9-6 6-7 1-6-3-7 2-6 6-7 7-6-6-7-6-7-4-6-1-7-8-6-9-7-6-6 8-7-7-6-4-7 2-6-5-7-4-7-5-6-3-7-1-6-10-7-10-6-3-7-7-6-5-7-2-6 2-7-10-6-4-7 1-7 0-6-5-7 1-6 8-7 4-6 2-7 5-6 12-7-13-6-3-7-3-7-12-6-3-7-5-6-1-7 3-6 7-7 5-6 4-7 2-6 5-7 8-7 13-6 7-7 2-6 1-7 4-6 9-7 1-6-3-7-1-6 4-7 3-7 1-6-2-7 0-6 1-7 3-6 5-7-2-6-2-7 4-6 2-7 1-7 1-6-4-7-1-6-2-7-1-6-1-7-3-6-5-7-3-6 0-7-2-7-3-6-2-7-7-6-1-7 1-6-6-7 1-6-1-7-4-6-2-7-3-6-1-7 2-7-4-6-3-7-3-6-2-7-4-6-3-7-3-6 0-7-3-6-2-7-2-7-3-6-3-7-2-6-4-7 0-6-2-7-2-6-3-7-3-6-2-7-2-7-3-6-2-7 0-6-1-7-1-6 1-7 1-6 1-7-2-6-1-7-1-7 0-6-2-7-2-6-2-7-2-6-1-7 0-6-1-7 0-6 0-7 0-7 0-6 0-7 0-6 0-7-1-6-1-7-2-6-2-7-2-6-3-7-3-7-3-6-3-7-2-6-2-7-1-6-1-7 0-6 0-7 0-6 0-7 1-6 1-7 1-7 1-6 0-7 0-6 0-7 0-6 0-7 1-6 1-7 1-6 1-7 2-7 2-6 2-7 2-6 1-7 1-6 0-7-2-6-2-7-2-6-3-7-3-7-3-6-3-7-2-6-3-7-2-6-2-7-1-6-1-7-1-6-1-7-1-7-1-6-2-7-1-6-2-7-2-6-2-7-2-6-2-7-1-6 0-7-1-7 1-6 1-7 1-6 1-7 1-6 2-7 0-6 1-7 0-6 0-7-1-7-1-6-1-7-2-6-1-7-2-6-1-7 0-6-1-7 0-6-1-7 0-6-1-7-1-7-2-6-2-7-3-6-3-7-3-6-3-7-3-6-3-7-3-6-3-7-2-7-2-6-1-7-1-6-1-7-1-6 1-7 4-6 3-7 3-6 3-7 2z"/>
<path class="ln" d="M809 601l7-2 6-3 7-3 6-3 7-4 6-1 7 1 6 1 7 1 6 1 7 2 7 2 6 3 7 3 6 3 7 3 6 3 7 3 6 3 7 3 6 2 7 2 7 1 6 1 7 0 6 1 7 0 6 1 7 0 6 1 7 2 6 1 7 2 6 1 7 1 7 1 6 0 7 0 6-1 7 0 6-2 7-1 6-1 7-1 6-1 7-1 7 1 6 0 7 1 6 2 7 2 6 2 7 2 6 2 7 1 6 2 7 1 7 1 6 1 7 1 6 1 7 1 6 2 7 2 6 3 7 2 6 3 7 3 7 3 6 3 7 2 6 2 7 2 6 0 7-1 6-1 7-2 6-2 7-2 7-2 6-1 7-1 6-1 7-1 6 0 7 0 6 0 7 0 6 0 7-1 7-1 6-1 7-1 6 0 7 0 6 0 7 0 6 1 7 1 6 2 7 2 6 3 7 3 7 3 6 3 7 2 6 2 7 2 6 1 7 1 6 0 7 0 6 0 7 0 7 0 6 0 7 0 6 1 7 0 6 1 7 2 6 2 7 2 6 2 7 0 7 1 6 1 7 2 6-1 7-1 6-1 7 1 6 1 7 0 6 2 7 3 7 2 6 2 7 3 6 3 7 2 6 2 7 0 6 4 7 2 6 3 7 3 7 2 6 2 7 3 6 0 7 3 6 3 7 4 6 2 7 3 6 3 7 4 7-2 6 1 7 3 6 2 7 4 6 1 7-1 6 6 7-1 6 1 7 7 6 2 7 3 7 2 6 0 7 3 6 5 7 3 6 1 7 1 6 2 7 1 6 4 7-1 7-1 6-2 7-4 6 2 7 2 6-5 7-3 6-1 7 0 6 2 7-1 7-3 6-4 7 1 6 3 7-1 6-9 7-4 6-1 7-2 6-7 7-13 7-8 6-5 7-2 6-4 7-5 6-7 7-3 6 1 7 5 6 3 7 12 7 3 6 3 7 13 6-12 7-5 6-2 7-4 6-8 7-1 6 5 7 0 7-1 6 4 7 10 6-2 7 2 6 5 7 7 6 3 7 10 6 10 7 1 6 3 7 5 7 4 6 5 7-2 6 4 7 7 6-8 7 6 6 9 7 8 6 1 7 4 7 6 6 6 7-7 6-6 7-2 6 3 7-1 6-6 7-9 6 2 7 4 7 2 6-2 7-1 6 2 7 3 6 1 7-8 6-7 7 1 6-9 7-1 7 5 6-17 7 0 6 16 7 13 6 4 7 33 6-7 7 10 6 10 7 11 7 4 6-1 7 8 6 0 7 15 6-18 7-4 6 5 7-6 6-1 7 4 7-1 6-4 7-5 6 9 7 16 6-9 7-6 6-3 7 0 6 3 7 1 6 1 7-1 7-7 6 13 7-17 6 3 7 19 6-14 7 5 6 16 7-6 6 4 7 6 7 8 6-5 7 0 6 13 7-12 6-7 7-5 6-2 7 0 6-1 7-1 7 1 6 2 7-2 6-2 7-2 6 13 7 6 6 0 7-2 6 3 7 10 7-19 6-3 7-7 6-5 7-6 6-9 7-7 6-2 7 1 6 0 7-4 7-5 6 14 7-19 6-4 7 9 6 1 7 2 6 0 7 2 6 25 7-13 6-1 7-1 7 1 6-5 7 2 6 8 7 1 6-3 7-1 6-6 7-8 6 24 7 29 7 19 6 2 7 35 6-14 7-3 6 9 7-7 6 11 7-2 6-2 7-2 7 0 6-5 7 1 6 5 7-12 6-12 7-3 6-2 7-3 6 0 7 20 7 28 6 17 7 33 6 41 7 31 6 47 7 38 6 44 7 22 6 7 7 27 7 23 6 8 7 34 6 0 7-6 6 12 7 16 6 67 7 19 6 25 7 20"/>
<path fill="url(#g7)" stroke="url(#g7)" d="M809 601l7-2 6-3 7-3 6-3 7-4 6-1 7 1 6 1 7 1 6 1 7 2 7 2 6 3 7 3 6 3 7 3 6 3 7 3 6 3 7 3 6 2 7 2 7 1 6 1 7 0 6 1 7 0 6 1 7 0 6 1 7 2 6 1 7 2 6 1 7 1 7 1 6 0 7 0 6-1 7 0 6-2 7-1 6-1 7-1 6-1 7-1 7 1 6 0 7 1 6 2 7 2 6 2 7 2 6 2 7 1 6 2 7 1 7 1 6 1 7 1 6 1 7 1 6 2 7 2 6 3 7 2 6 3 7 3 7 3 6 3 7 2 6 2 7 2 6 0 7-1 6-1 7-2 6-2 7-2 7-2 6-1 7-1 6-1 7-1 6 0 7 0 6 0 7 0 6 0 7-1 7-1 6-1 7-1 6 0 7 0 6 0 7 0 6 1 7 1 6 2 7 2 6 3 7 3 7 3 6 3 7 2 6 2 7 2 6 1 7 1 6 0 7 0 6 0 7 0 7 0 6 0 7 0 6 1 7 0 6 1 7 2 6 2 7 2 6 2 7 0 7 1 6 1 7 2 6-1 7-1 6-1 7 1 6 1 7 0 6 2 7 3 7 2 6 2 7 3 6 3 7 2 6 2 7 0 6 4 7 2 6 3 7 3 7 2 6 2 7 3 6 0 7 3 6 3 7 4 6 2 7 3 6 3 7 4 7-2 6 1 7 3 6 2 7 4 6 1 7-1 6 6 7-1 6 1 7 7 6 2 7 3 7 2 6 0 7 3 6 5 7 3 6 1 7 1 6 2 7 1 6 4 7-1 7-1 6-2 7-4 6 2 7 2 6-5 7-3 6-1 7 0 6 2 7-1 7-3 6-4 7 1 6 3 7-1 6-9 7-4 6-1 7-2 6-7 7-13 7-8 6-5 7-2 6-4 7-5 6-7 7-3 6 1 7 5 6 3 7 12 7 3 6 3 7 13 6-12 7-5 6-2 7-4 6-8 7-1 6 5 7 0 7-1 6 4 7 10 6-2 7 2 6 5 7 7 6 3 7 10 6 10 7 1 6 3 7 5 7 4 6 5 7-2 6 4 7 7 6-8 7 6 6 9 7 8 6 1 7 4 7 6 6 6 7-7 6-6 7-2 6 3 7-1 6-6 7-9 6 2 7 4 7 2 6-2 7-1 6 2 7 3 6 1 7-8 6-7 7 1 6-9 7-1 7 5 6-17 7 0 6 16 7 13 6 4 7 33 6-7 7 10 6 10 7 11 7 4 6-1 7 8 6 0 7 15 6-18 7-4 6 5 7-6 6-1 7 4 7-1 6-4 7-5 6 9 7 16 6-9 7-6 6-3 7 0 6 3 7 1 6 1 7-1 7-7 6 13 7-17 6 3 7 19 6-14 7 5 6 16 7-6 6 4 7 6 7 8 6-5 7 0 6 13 7-12 6-7 7-5 6-2 7 0 6-1 7-1 7 1 6 2 7-2 6-2 7-2 6 13 7 6 6 0 7-2 6 3 7 10 7-19 6-3 7-7 6-5 7-6 6-9 7-7 6-2 7 1 6 0 7-4 7-5 6 14 7-19 6-4 7 9 6 1 7 2 6 0 7 2 6 25 7-13 6-1 7-1 7 1 6-5 7 2 6 8 7 1 6-3 7-1 6-6 7-8 6 24 7 29 7 19 6 2 7 35 6-14 7-3 6 9 7-7 6 11 7-2 6-2 7-2 7 0 6-5 7 1 6 5 7-12 6-12 7-3 6-2 7-3 6 0 7 20 7 28 6 17 7 33 6 41 7 31 6 47 7 38 6 44 7 22 6 7 7 27 7 23 6 8 7 34 6 0 7-6 6 12 7 16 6 67 7 19 6 25 7 20-37 34-7-26-7-26-6-20-7-62-6-12-7 10-6-39-7-16-6-13-7-11-6-18-7-20-7-6-6-44-7-43-6-50-7-55-6-41-7-48-6-30-7-56-6-40-7-23-6 2-7-5-7 3-6 3-7 0-6 1-7-1-6 0-7 3-6 4-7 7-6 7-7-2-7-9-6-6-7-8-6-18-7-8-6-10-7-14-6-11-7 4-6 1-7 13-7-11-6-3-7-1-6 4-7 3-6 4-7 15-6-5-7-6-6 0-7 8-7 7-6-4-7 9-6-17-7-2-6 2-7 2-6 2-7-16-6-12-7-14-7-20-6 18-7 15-6 14-7 20-6 9-7 7-6 11-7 26-6-3-7 8-7 24-6-15-7 3-6-4-7-7-6-9-7-8-6-6-7-5-6-8-7-12-6-10-7 6-7 7-6 19-7-12-6 9-7 3-6 0-7-3-6 3-7 3-6 4-7 4-7 0-6 3-7 7-6-2-7 2-6 1-7-1-6 6-7 0-6-5-7-9-7-12-6-12-7-19-6 19-7-3-6 3-7 6-6 11-7 5-6 3-7 5-7 5-6-1-7-2-6 6-7-1-6-2-7-2-6-3-7 10-6-20-7-3-7-5-6 6-7-7-6-2-7-13-6-5-7-6-6-7-7 2-6 1-7-1-6 4-7 3-7-4-6-11-7 3-6 3-7 6-6 4-7 6-6 2-7 2-6 3-7-8-7-5-6 1-7 4-6 0-7-4-6-9-7-4-6 0-7-1-6-5-7 6-7-3-6-6-7-5-6 1-7-2-6-5-7-4-6-8-7-2-6 1-7-5-7-3-6 1-7 3-6-14-7 1-6 7-7-1-6-5-7-4-6-1-7 2-7-6-6-4-7 0-6 2-7 4-6 1-7-4-6 1-7 2-6 4-7 5-7-1-6-1-7-3-6-8-7 11-6 9-7 4-6-2-7 6-6 6-7 2-6 7-7 5-7 4-6 6-7-1-6 0-7 1-6 1-7 0-6 5-7 6-6-14-7-2-7 2-6-1-7-4-6 2-7 3-6-1-7 0-6 2-7 4-6-1-7 1-7-2-6-3-7-1-6-7-7-6-6-3-7-2-6-5-7-5-6-3-7 1-7 1-6-1-7-3-6 1-7-2-6-3-7-3-6-3-7-1-6-1-7-3-7-2-6-2-7-6-6-2-7-2-6-2-7-1-6-2-7-1-6-2-7-2-7-3-6-3-7-5-6-1-7-1-6-1-7-3-6-2-7-2-6-1-7-1-6-1-7-1-7 0-6 1-7 1-6 0-7 1-6 1-7 0-6 0-7-1-6-1-7-1-7-2-6-1-7-1-6 0-7 0-6 0-7 0-6 0-7 1-6 0-7 0-7 0-6-1-7-1-6-1-7-2-6-3-7-2-6-3-7-3-6-2-7-2-7-2-6-1-7 0-6 0-7 0-6 1-7 0-6 1-7 1-6 1-7 0-7 0-6 0-7 0-6 0-7 0-6 1-7 0-6 2-7 1-6 2-7 2-7 2-6 1-7 2-6 0-7 0-6-2-7-2-6-2-7-3-6-2-7-3-6-3-7-2-7-2-6-2-7-1-6-1-7-1-6-1-7-1-6-1-7-1-6-1-7-2-7-1-6-2-7-2-6-2-7-1-6-1-7 0-6 0-7 1-6 1-7 1-7 2-6 1-7 1-6 1-7 1-6 0-7-1-6-1-7-1-6-1-7-2-7-1-6-1-7-1-6-1-7 0-6 0-7-1-6 0-7-1-6-2-7-2-7-2-6-3-7-3-6-4-7-3-6-4-7-3-6-2-7-3-6-1-7-1-7-1-6-1-7 0-6 0-7 1-6 3-7 3-6 3-7 2-6 2z"/>
<path fill="url(#g8)" stroke="url(#g8)" d="M3427 1022l6 41 7 31 6 47 7 38 6 44 7 22-38 27-6-44-7-43-6-50-7-55-6-41-7-48z"/>
<path class="ln" d="M772 632l6-2 7-2 6-3 7-3 6-3 7-1 6 0 7 0 6 1 7 1 7 1 6 1 7 3 6 2 7 3 6 4 7 3 6 4 7 3 6 3 7 2 7 2 6 2 7 1 6 0 7 1 6 0 7 0 6 1 7 1 6 1 7 1 7 2 6 1 7 1 6 1 7 1 6 0 7-1 6-1 7-1 6-1 7-2 7-1 6-1 7-1 6 0 7 0 6 1 7 1 6 2 7 2 6 2 7 1 7 2 6 1 7 1 6 1 7 1 6 1 7 1 6 1 7 1 6 2 7 2 7 2 6 3 7 3 6 2 7 3 6 2 7 2 6 2 7 0 6 0 7-2 6-1 7-2 7-2 6-2 7-1 6-2 7 0 6-1 7 0 6 0 7 0 6 0 7 0 7 0 6-1 7-1 6-1 7 0 6-1 7 0 6 0 7 0 6 1 7 2 7 2 6 2 7 3 6 3 7 2 6 3 7 2 6 1 7 1 6 1 7 0 7 0 6 0 7-1 6 0 7 0 6 0 7 0 6 0 7 1 6 1 7 2 7 1 6 1 7 1 6 0 7 0 6-1 7-1 6 0 7-1 6-1 7 0 7 1 6 1 7 1 6 1 7 2 6 2 7 3 6 1 7 1 6 1 7 5 6 3 7 3 7 2 6 2 7 1 6 2 7 1 6 2 7 2 6 2 7 6 6 2 7 2 7 3 6 1 7 1 6 3 7 3 6 3 7 2 6-1 7 3 6 1 7-1 7-1 6 3 7 5 6 5 7 2 6 3 7 6 6 7 7 1 6 3 7 2 7-1 6 1 7-4 6-2 7 0 6 1 7-3 6-2 7 4 6 1 7-2 7 2 6 14 7-6 6-5 7 0 6-1 7-1 6 0 7 1 6-6 7-4 7-5 6-7 7-2 6-6 7-6 6 2 7-4 6-9 7-11 6 8 7 3 6 1 7 1 7-5 6-4 7-2 6-1 7 4 6-1 7-4 6-2 7 0 6 4 7 6 7-2 6 1 7 4 6 5 7 1 6-7 7-1 6 14 7-3 6-1 7 3 7 5 6-1 7 2 6 8 7 4 6 5 7 2 6-1 7 5 6 6 7 3 7-6 6 5 7 1 6 0 7 4 6 9 7 4 6 0 7-4 6-1 7 5 7 8 6-3 7-2 6-2 7-6 6-4 7-6 6-3 7-3 6 11 7 4 7-3 6-4 7 1 6-1 7-2 6 7 7 6 6 5 7 13 6 2 7 7 6-6 7 5 7 3 6 20 7-10 6 3 7 2 6 2 7 1 6-6 7 2 6 1 7-5 7-5 6-3 7-5 6-11 7-6 6-3 7 3 6-19 7 19 6 12 7 12 7 9 6 5 7 0 6-6 7 1 6-1 7-2 6 2 7-7 6-3 7 0 7-4 6-4 7-3 6-3 7 3 6 0 7-3 6-9 7 12 6-19 7-7 7-6 6 10 7 12 6 8 7 5 6 6 7 8 6 9 7 7 6 4 7-3 6 15 7-24 7-8 6 3 7-26 6-11 7-7 6-9 7-20 6-14 7-15 6-18 7 20 7 14 6 12 7 16 6-2 7-2 6-2 7 2 6 17 7-9 6 4 7-7 7-8 6 0 7 6 6 5 7-15 6-4 7-3 6-4 7 1 6 3 7 11 7-13 6-1 7-4 6 11 7 14 6 10 7 8 6 18 7 8 6 6 7 9 7 2 6-7 7-7 6-4 7-3 6 0 7 1 6-1 7 0 6-3 7-3 7 5 6-2 7 23 6 40 7 56 6 30 7 48 6 41 7 55 6 50 7 43 6 44 7 6 7 20 6 18 7 11 6 13 7 16 6 39 7-10 6 12 7 62 6 20 7 26 7 26"/>
<path fill="url(#g9)" stroke="url(#g9)" d="M772 632l6-2 7-2 6-3 7-3 6-3 7-1 6 0 7 0 6 1 7 1 7 1 6 1 7 3 6 2 7 3 6 4 7 3 6 4 7 3 6 3 7 2 7 2 6 2 7 1 6 0 7 1 6 0 7 0 6 1 7 1 6 1 7 1 7 2 6 1 7 1 6 1 7 1 6 0 7-1 6-1 7-1 6-1 7-2 7-1 6-1 7-1 6 0 7 0 6 1 7 1 6 2 7 2 6 2 7 1 7 2 6 1 7 1 6 1 7 1 6 1 7 1 6 1 7 1 6 2 7 2 7 2 6 3 7 3 6 2 7 3 6 2 7 2 6 2 7 0 6 0 7-2 6-1 7-2 7-2 6-2 7-1 6-2 7 0 6-1 7 0 6 0 7 0 6 0 7 0 7 0 6-1 7-1 6-1 7 0 6-1 7 0 6 0 7 0 6 1 7 2 7 2 6 2 7 3 6 3 7 2 6 3 7 2 6 1 7 1 6 1 7 0 7 0 6 0 7-1 6 0 7 0 6 0 7 0 6 0 7 1 6 1 7 2 7 1 6 1 7 1 6 0 7 0 6-1 7-1 6 0 7-1 6-1 7 0 7 1 6 1 7 1 6 1 7 2 6 2 7 3 6 1 7 1 6 1 7 5 6 3 7 3 7 2 6 2 7 1 6 2 7 1 6 2 7 2 6 2 7 6 6 2 7 2 7 3 6 1 7 1 6 3 7 3 6 3 7 2 6-1 7 3 6 1 7-1 7-1 6 3 7 5 6 5 7 2 6 3 7 6 6 7 7 1 6 3 7 2 7-1 6 1 7-4 6-2 7 0 6 1 7-3 6-2 7 4 6 1 7-2 7 2 6 14 7-6 6-5 7 0 6-1 7-1 6 0 7 1 6-6 7-4 7-5 6-7 7-2 6-6 7-6 6 2 7-4 6-9 7-11 6 8 7 3 6 1 7 1 7-5 6-4 7-2 6-1 7 4 6-1 7-4 6-2 7 0 6 4 7 6 7-2 6 1 7 4 6 5 7 1 6-7 7-1 6 14 7-3 6-1 7 3 7 5 6-1 7 2 6 8 7 4 6 5 7 2 6-1 7 5 6 6 7 3 7-6 6 5 7 1 6 0 7 4 6 9 7 4 6 0 7-4 6-1 7 5 7 8 6-3 7-2 6-2 7-6 6-4 7-6 6-3 7-3 6 11 7 4 7-3 6-4 7 1 6-1 7-2 6 7 7 6 6 5 7 13 6 2 7 7 6-6 7 5 7 3 6 20 7-10 6 3 7 2 6 2 7 1 6-6 7 2 6 1 7-5 7-5 6-3 7-5 6-11 7-6 6-3 7 3 6-19 7 19 6 12 7 12 7 9 6 5 7 0 6-6 7 1 6-1 7-2 6 2 7-7 6-3 7 0 7-4 6-4 7-3 6-3 7 3 6 0 7-3 6-9 7 12 6-19 7-7 7-6 6 10 7 12 6 8 7 5 6 6 7 8 6 9 7 7 6 4 7-3 6 15 7-24 7-8 6 3 7-26 6-11 7-7 6-9 7-20 6-14 7-15 6-18 7 20 7 14 6 12 7 16 6-2 7-2 6-2 7 2 6 17 7-9 6 4 7-7 7-8 6 0 7 6 6 5 7-15 6-4 7-3 6-4 7 1 6 3 7 11 7-13 6-1 7-4 6 11 7 14 6 10 7 8 6 18 7 8 6 6 7 9 7 2 6-7 7-7 6-4 7-3 6 0 7 1 6-1 7 0 6-3 7-3 7 5 6-2 7 23 6 40 7 56 6 30 7 48 6 41 7 55 6 50 7 43 6 44 7 6 7 20 6 18 7 11 6 13 7 16 6 39 7-10 6 12 7 62 6 20 7 26 7 26-38 33-6-38-7-34-6-36-7-45-7-5-6-7-7-18-6-4-7-1-6-14-7-22-6-11-7-32-6-34-7-29-7-58-6-74-7-63-6-58-7-52-6-57-7-55-6-37-7-3-6 18-7 5-7-3-6-3-7-1-6 21-7-19-6-1-7-14-6-9-7-12-6-9-7-19-7-13-6 20-7-7-6 0-7 7-6 13-7 4-6 3-7 3-6 4-7 3-6 5-7 4-7 1-6 5-7 1-6-1-7 1-6-1-7-2-6 5-7-5-6 5-7 24-7-8-6 8-7 9-6-8-7 10-6 7-7 17-6-21-7 0-6 1-7-1-7-4-6-2-7-3-6-1-7-1-6 5-7-1-6-4-7-1-6 24-7-8-7 1-6 6-7 9-6 2-7-2-6 4-7 11-6-2-7 5-6 15-7-14-7 5-6 2-7-1-6 1-7 1-6 2-7 0-6 3-7 18-6-14-7 0-7-2-6-5-7 11-6 2-7 2-6 10-7 10-6-1-7-7-6-6-7-11-6-10-7-9-7-16-6-11-7-15-6 12-7-2-6 12-7 10-6-3-7 4-6 5-7 5-7 7-6 7-7 4-6 0-7-2-6 0-7 0-6 1-7 0-6-3-7-7-7-5-6 8-7-30-6-11-7-4-6-10-7 0-6 7-7-7-6-7-7-2-7 1-6 1-7 1-6 1-7-1-6 6-7 2-6 1-7 4-6 0-7 3-7 4-6 2-7-4-6-1-7-2-6 0-7 3-6 1-7-2-6 4-7-1-7-5-6-7-7-3-6-5-7-7-6-10-7-8-6-4-7 2-6 2-7-3-6-4-7 0-7 3-6-3-7-4-6 0-7 3-6 3-7 1-6-7-7-3-6-2-7-2-7 1-6-6-7-6-6-2-7 1-6-3-7-2-6 6-7-3-6-3-7-2-7 7-6 10-7 10-6 10-7 9-6 2-7 2-6 4-7 3-6 4-7-1-7-8-6 0-7 5-6 5-7 3-6 0-7 4-6 8-7 2-6-4-7-2-7 4-6-7-7-3-6 1-7 3-6-2-7 2-6 5-7 5-6-3-7-4-6-3-7-4-7-4-6-3-7-1-6-7-7-4-6-3-7-4-6-2-7 0-6 1-7-4-7-1-6-2-7-3-6 0-7 1-6 1-7 0-6-2-7-4-6-6-7-4-7-3-6-3-7-4-6-2-7-2-6-3-7-2-6-1-7-3-6-2-7-3-7-2-6-2-7-2-6-1-7-3-6-2-7 0-6-1-7 0-6 0-7 0-7 2-6 1-7 1-6 1-7 1-6 0-7 0-6-1-7-1-6-1-7-1-7-1-6-1-7 0-6 0-7 0-6 1-7 0-6 1-7 0-6 0-7 0-6-1-7-1-7-1-6-2-7-2-6-3-7-3-6-2-7-2-6-2-7-1-6-1-7 0-7 0-6 1-7 0-6 1-7 1-6 0-7 1-6 0-7 0-6 0-7 0-7 0-6 0-7 0-6 1-7 2-6 1-7 2-6 2-7 1-6 2-7 1-7 0-6-1-7-1-6-2-7-2-6-3-7-2-6-3-7-3-6-2-7-1-7-2-6-1-7-1-6 0-7-1-6-1-7-1-6-1-7-1-6-1-7-2-7-2-6-2-7-1-6-1-7-1-6 0-7 1-6 1-7 1-6 2-7 1-6 2-7 1-7 1-6 0-7 0-6-1-7-1-6-1-7-1-6-2-7-1-6-1-7-1-7 0-6 0-7-1-6 0-7-1-6-1-7-2-6-2-7-3-6-3-7-3-7-3-6-4-7-3-6-3-7-2-6-2-7-1-6-1-7-1-6 0-7 1-7 0-6 1-7 3-6 2-7 2-6 2-7 2z"/>
<path fill="url(#g10)" stroke="url(#g10)" d="M3370 865l6 40 7 56 6 30 7 48 6 41 7 55 6 50 7 43 6 44-37 25-6-34-7-29-7-58-6-74-7-63-6-58-7-52-6-57-7-55z"/>
<path class="ln" d="M734 663l7-2 6-2 7-2 6-2 7-3 6-1 7 0 7-1 6 0 7 1 6 1 7 1 6 2 7 2 6 3 7 3 6 4 7 3 7 3 6 3 7 3 6 2 7 2 6 1 7 1 6 0 7 1 6 0 7 0 7 1 6 1 7 1 6 2 7 1 6 1 7 1 6 1 7 0 6 0 7-1 7-1 6-2 7-1 6-2 7-1 6-1 7-1 6 0 7 1 6 1 7 1 6 2 7 2 7 2 6 1 7 1 6 1 7 1 6 1 7 1 6 0 7 1 6 1 7 2 7 1 6 2 7 3 6 3 7 2 6 3 7 2 6 2 7 1 6 1 7 0 7-1 6-2 7-1 6-2 7-2 6-1 7-2 6-1 7 0 6 0 7 0 7 0 6 0 7 0 6 0 7-1 6 0 7-1 6-1 7 0 6-1 7 0 7 0 6 1 7 1 6 2 7 2 6 2 7 3 6 3 7 2 6 2 7 1 7 1 6 1 7 0 6 0 7 0 6-1 7 0 6-1 7 0 6 0 7 0 6 1 7 1 7 1 6 1 7 1 6 1 7 0 6 0 7-1 6-1 7-1 6-1 7-2 7 0 6 0 7 0 6 1 7 0 6 2 7 3 6 1 7 2 6 2 7 2 7 3 6 2 7 3 6 1 7 2 6 3 7 2 6 2 7 4 6 3 7 3 7 4 6 6 7 4 6 2 7 0 6-1 7-1 6 0 7 3 6 2 7 1 7 4 6-1 7 0 6 2 7 4 6 3 7 4 6 7 7 1 6 3 7 4 7 4 6 3 7 4 6 3 7-5 6-5 7-2 6 2 7-3 6-1 7 3 6 7 7-4 7 2 6 4 7-2 6-8 7-4 6 0 7-3 6-5 7-5 6 0 7 8 7 1 6-4 7-3 6-4 7-2 6-2 7-9 6-10 7-10 6-10 7-7 7 2 6 3 7 3 6-6 7 2 6 3 7-1 6 2 7 6 6 6 7-1 7 2 6 2 7 3 6 7 7-1 6-3 7-3 6 0 7 4 6 3 7-3 7 0 6 4 7 3 6-2 7-2 6 4 7 8 6 10 7 7 6 5 7 3 6 7 7 5 7 1 6-4 7 2 6-1 7-3 6 0 7 2 6 1 7 4 6-2 7-4 7-3 6 0 7-4 6-1 7-2 6-6 7 1 6-1 7-1 6-1 7-1 7 2 6 7 7 7 6-7 7 0 6 10 7 4 6 11 7 30 6-8 7 5 7 7 6 3 7 0 6-1 7 0 6 0 7 2 6 0 7-4 6-7 7-7 7-5 6-5 7-4 6 3 7-10 6-12 7 2 6-12 7 15 6 11 7 16 7 9 6 10 7 11 6 6 7 7 6 1 7-10 6-10 7-2 6-2 7-11 6 5 7 2 7 0 6 14 7-18 6-3 7 0 6-2 7-1 6-1 7 1 6-2 7-5 7 14 6-15 7-5 6 2 7-11 6-4 7 2 6-2 7-9 6-6 7-1 7 8 6-24 7 1 6 4 7 1 6-5 7 1 6 1 7 3 6 2 7 4 7 1 6-1 7 0 6 21 7-17 6-7 7-10 6 8 7-9 6-8 7 8 7-24 6-5 7 5 6-5 7 2 6 1 7-1 6 1 7-1 6-5 7-1 7-4 6-5 7-3 6-4 7-3 6-3 7-4 6-13 7-7 6 0 7 7 6-20 7 13 7 19 6 9 7 12 6 9 7 14 6 1 7 19 6-21 7 1 6 3 7 3 7-5 6-18 7 3 6 37 7 55 6 57 7 52 6 58 7 63 6 74 7 58 7 29 6 34 7 32 6 11 7 22 6 14 7 1 6 4 7 18 6 7 7 5 7 45 6 36 7 34 6 38"/>
<path fill="url(#g11)" stroke="url(#g11)" d="M734 663l7-2 6-2 7-2 6-2 7-3 6-1 7 0 7-1 6 0 7 1 6 1 7 1 6 2 7 2 6 3 7 3 6 4 7 3 7 3 6 3 7 3 6 2 7 2 6 1 7 1 6 0 7 1 6 0 7 0 7 1 6 1 7 1 6 2 7 1 6 1 7 1 6 1 7 0 6 0 7-1 7-1 6-2 7-1 6-2 7-1 6-1 7-1 6 0 7 1 6 1 7 1 6 2 7 2 7 2 6 1 7 1 6 1 7 1 6 1 7 1 6 0 7 1 6 1 7 2 7 1 6 2 7 3 6 3 7 2 6 3 7 2 6 2 7 1 6 1 7 0 7-1 6-2 7-1 6-2 7-2 6-1 7-2 6-1 7 0 6 0 7 0 7 0 6 0 7 0 6 0 7-1 6 0 7-1 6-1 7 0 6-1 7 0 7 0 6 1 7 1 6 2 7 2 6 2 7 3 6 3 7 2 6 2 7 1 7 1 6 1 7 0 6 0 7 0 6-1 7 0 6-1 7 0 6 0 7 0 6 1 7 1 7 1 6 1 7 1 6 1 7 0 6 0 7-1 6-1 7-1 6-1 7-2 7 0 6 0 7 0 6 1 7 0 6 2 7 3 6 1 7 2 6 2 7 2 7 3 6 2 7 3 6 1 7 2 6 3 7 2 6 2 7 4 6 3 7 3 7 4 6 6 7 4 6 2 7 0 6-1 7-1 6 0 7 3 6 2 7 1 7 4 6-1 7 0 6 2 7 4 6 3 7 4 6 7 7 1 6 3 7 4 7 4 6 3 7 4 6 3 7-5 6-5 7-2 6 2 7-3 6-1 7 3 6 7 7-4 7 2 6 4 7-2 6-8 7-4 6 0 7-3 6-5 7-5 6 0 7 8 7 1 6-4 7-3 6-4 7-2 6-2 7-9 6-10 7-10 6-10 7-7 7 2 6 3 7 3 6-6 7 2 6 3 7-1 6 2 7 6 6 6 7-1 7 2 6 2 7 3 6 7 7-1 6-3 7-3 6 0 7 4 6 3 7-3 7 0 6 4 7 3 6-2 7-2 6 4 7 8 6 10 7 7 6 5 7 3 6 7 7 5 7 1 6-4 7 2 6-1 7-3 6 0 7 2 6 1 7 4 6-2 7-4 7-3 6 0 7-4 6-1 7-2 6-6 7 1 6-1 7-1 6-1 7-1 7 2 6 7 7 7 6-7 7 0 6 10 7 4 6 11 7 30 6-8 7 5 7 7 6 3 7 0 6-1 7 0 6 0 7 2 6 0 7-4 6-7 7-7 7-5 6-5 7-4 6 3 7-10 6-12 7 2 6-12 7 15 6 11 7 16 7 9 6 10 7 11 6 6 7 7 6 1 7-10 6-10 7-2 6-2 7-11 6 5 7 2 7 0 6 14 7-18 6-3 7 0 6-2 7-1 6-1 7 1 6-2 7-5 7 14 6-15 7-5 6 2 7-11 6-4 7 2 6-2 7-9 6-6 7-1 7 8 6-24 7 1 6 4 7 1 6-5 7 1 6 1 7 3 6 2 7 4 7 1 6-1 7 0 6 21 7-17 6-7 7-10 6 8 7-9 6-8 7 8 7-24 6-5 7 5 6-5 7 2 6 1 7-1 6 1 7-1 6-5 7-1 7-4 6-5 7-3 6-4 7-3 6-3 7-4 6-13 7-7 6 0 7 7 6-20 7 13 7 19 6 9 7 12 6 9 7 14 6 1 7 19 6-21 7 1 6 3 7 3 7-5 6-18 7 3 6 37 7 55 6 57 7 52 6 58 7 63 6 74 7 58 7 29 6 34 7 32 6 11 7 22 6 14 7 1 6 4 7 18 6 7 7 5 7 45 6 36 7 34 6 38-37 34-7-39-6-30-7-36-6 13-7-30-6-17-7-7-7-20-6-21-7-31-6-12-7-18-6-17-7-29-6-51-7-57-6-60-7-55-7-55-6-56-7-62-6-58-7-33-6 11-7 20-6-13-7 16-6-15-7 2-7-15-6-6-7-1-6-13-7-7-6-10-7-18-6-11-7 6-6 6-7 12-7 9-6 5-7 2-6 9-7 4-6 1-7 2-6 6-7 1-6 0-7 1-7 7-6 3-7-1-6 3-7 5-6 3-7-5-6-8-7-7-6-9-7-11-7-12-6-7-7 7-6 7-7 7-6 10-7 21-6-3-7 13-6 8-7 3-6 16-7 13-7 9-6 6-7 13-6 6-7 2-6 3-7-2-6-2-7 1-6-3-7-7-7 3-6 3-7-21-6-6-7-5-6-9-7 5-6 11-7-2-6 4-7 6-7 1-6-1-7 6-6-1-7-5-6-6-7 0-6 21-7-17-6-5-7 6-7 5-6 17-7-4-6-1-7 4-6 6-7 1-6 6-7 4-6 3-7 9-7 4-6-11-7 1-6-8-7-8-6-8-7-9-6 3-7 5-6 2-7-8-7 22-6-22-7-3-6 6-7 0-6-4-7-9-6 1-7-2-6-1-7 0-6-1-7-1-7-1-6-3-7 5-6 4-7-1-6-3-7 1-6 2-7 3-6 7-7 11-7-10-6-15-7 1-6 5-7-11-6-6-7 0-6 7-7-12-6-13-7-1-7 5-6 5-7 9-6-9-7-7-6 7-7-6-6-5-7-4-6-4-7 1-7-1-6-1-7 0-6-2-7-5-6-5-7-4-6-3-7-1-6 0-7-13-7-7-6 0-7 0-6-8-7-7-6-4-7 1-6-6-7 1-6 6-7-5-7-2-6 2-7 6-6-1-7 4-6 4-7-3-6 0-7 2-6 3-7 5-6-4-7 4-7 11-6 7-7 2-6 4-7 8-6 5-7 5-6 4-7 0-6 8-7 2-7-1-6 0-7 2-6 2-7 0-6 0-7-4-6-5-7-4-6 0-7-1-7-2-6-4-7-1-6 2-7 4-6 4-7 2-6-2-7-3-6-3-7-4-7-5-6-6-7-2-6-2-7-4-6-6-7-4-6-1-7 0-6-5-7-3-7-2-6-1-7-1-6 0-7 1-6 1-7-1-6-5-7-5-6-1-7-2-7-4-6-4-7-5-6-2-7 0-6-1-7-4-6-2-7-1-6-2-7-1-6-3-7-4-7-3-6-1-7-1-6-1-7 0-6-1-7-1-6 0-7 1-6 0-7 1-7 1-6 0-7 0-6 0-7 0-6-2-7-1-6-2-7-1-6-1-7 0-7 0-6 1-7 0-6 1-7 0-6 0-7 0-6 0-7-1-6-1-7-2-7-2-6-2-7-3-6-2-7-2-6-2-7-2-6-1-7 0-6 0-7 1-7 0-6 1-7 1-6 0-7 1-6 0-7 0-6 0-7 0-6-1-7 0-6 0-7 1-7 1-6 1-7 2-6 1-7 2-6 2-7 1-6 0-7 1-6-1-7-2-7-2-6-2-7-3-6-2-7-3-6-2-7-2-6-2-7-1-6-1-7 0-7-1-6-1-7 0-6-1-7-1-6-1-7-2-6-2-7-1-6-2-7-1-7-1-6 0-7 0-6 1-7 1-6 2-7 1-6 2-7 1-6 1-7 1-7 0-6 0-7-1-6-1-7-1-6-1-7-2-6-1-7-1-6 0-7-1-7 0-6 0-7-1-6 0-7-2-6-2-7-2-6-2-7-3-6-3-7-3-6-3-7-3-7-3-6-2-7-2-6-1-7 0-6 0-7 0-6 1-7 0-6 1-7 3-7 2-6 1-7 2-6 1z"/>
<path fill="url(#g12)" stroke="url(#g12)" d="M3332 817l7 55 6 57 7 52 6 58 7 63 6 74 7 58 7 29-38 41-6-51-7-57-6-60-7-55-7-55-6-56-7-62-6-58z"/>
<path class="ln" d="M697 694l6-1 7-2 6-1 7-2 7-3 6-1 7 0 6-1 7 0 6 0 7 0 6 1 7 2 6 2 7 3 7 3 6 3 7 3 6 3 7 3 6 2 7 2 6 2 7 2 6 0 7 1 6 0 7 0 7 1 6 0 7 1 6 1 7 2 6 1 7 1 6 1 7 1 6 0 7 0 7-1 6-1 7-1 6-2 7-1 6-2 7-1 6-1 7 0 6 0 7 1 7 1 6 2 7 1 6 2 7 2 6 1 7 1 6 1 7 0 6 1 7 1 7 0 6 1 7 1 6 2 7 2 6 2 7 3 6 2 7 3 6 2 7 2 7 2 6 1 7-1 6 0 7-1 6-2 7-2 6-1 7-2 6-1 7-1 7-1 6 0 7 0 6 1 7 0 6 0 7 0 6 0 7-1 6 0 7-1 6-1 7 0 7-1 6 0 7 0 6 1 7 2 6 2 7 2 6 2 7 3 6 2 7 2 7 2 6 1 7 1 6 0 7 0 6 0 7 0 6-1 7 0 6-1 7 0 7 0 6 1 7 1 6 2 7 1 6 2 7 0 6 0 7 0 6 0 7-1 7-1 6 0 7-1 6 0 7 1 6 1 7 0 6 1 7 1 6 1 7 3 7 4 6 3 7 1 6 2 7 1 6 2 7 4 6 1 7 0 6 2 7 5 6 4 7 4 7 2 6 1 7 5 6 5 7 1 6-1 7-1 6 0 7 1 6 1 7 2 7 3 6 5 7 0 6 1 7 4 6 6 7 4 6 2 7 2 6 6 7 5 7 4 6 3 7 3 6 2 7-2 6-4 7-4 6-2 7 1 6 4 7 2 7 1 6 0 7 4 6 5 7 4 6 0 7 0 6-2 7-2 6 0 7 1 7-2 6-8 7 0 6-4 7-5 6-5 7-8 6-4 7-2 6-7 7-11 7-4 6 4 7-5 6-3 7-2 6 0 7 3 6-4 7-4 6 1 7-6 6-2 7 2 7 5 6-6 7-1 6 6 7-1 6 4 7 7 6 8 7 0 6 0 7 7 7 13 6 0 7 1 6 3 7 4 6 5 7 5 6 2 7 0 6 1 7 1 7-1 6 4 7 4 6 5 7 6 6-7 7 7 6 9 7-9 6-5 7-5 7 1 6 13 7 12 6-7 7 0 6 6 7 11 6-5 7-1 6 15 7 10 7-11 6-7 7-3 6-2 7-1 6 3 7 1 6-4 7-5 6 3 7 1 7 1 6 1 7 0 6 1 7 2 6-1 7 9 6 4 7 0 6-6 7 3 6 22 7-22 7 8 6-2 7-5 6-3 7 9 6 8 7 8 6 8 7-1 6 11 7-4 7-9 6-3 7-4 6-6 7-1 6-6 7-4 6 1 7 4 6-17 7-5 7-6 6 5 7 17 6-21 7 0 6 6 7 5 6 1 7-6 6 1 7-1 7-6 6-4 7 2 6-11 7-5 6 9 7 5 6 6 7 21 6-3 7-3 7 7 6 3 7-1 6 2 7 2 6-3 7-2 6-6 7-13 6-6 7-9 7-13 6-16 7-3 6-8 7-13 6 3 7-21 6-10 7-7 6-7 7-7 6 7 7 12 7 11 6 9 7 7 6 8 7 5 6-3 7-5 6-3 7 1 6-3 7-7 7-1 6 0 7-1 6-6 7-2 6-1 7-4 6-9 7-2 6-5 7-9 7-12 6-6 7-6 6 11 7 18 6 10 7 7 6 13 7 1 6 6 7 15 7-2 6 15 7-16 6 13 7-20 6-11 7 33 6 58 7 62 6 56 7 55 7 55 6 60 7 57 6 51 7 29 6 17 7 18 6 12 7 31 6 21 7 20 7 7 6 17 7 30 6-13 7 36 6 30 7 39"/>
<path fill="url(#g13)" stroke="url(#g13)" d="M697 694l6-1 7-2 6-1 7-2 7-3 6-1 7 0 6-1 7 0 6 0 7 0 6 1 7 2 6 2 7 3 7 3 6 3 7 3 6 3 7 3 6 2 7 2 6 2 7 2 6 0 7 1 6 0 7 0 7 1 6 0 7 1 6 1 7 2 6 1 7 1 6 1 7 1 6 0 7 0 7-1 6-1 7-1 6-2 7-1 6-2 7-1 6-1 7 0 6 0 7 1 7 1 6 2 7 1 6 2 7 2 6 1 7 1 6 1 7 0 6 1 7 1 7 0 6 1 7 1 6 2 7 2 6 2 7 3 6 2 7 3 6 2 7 2 7 2 6 1 7-1 6 0 7-1 6-2 7-2 6-1 7-2 6-1 7-1 7-1 6 0 7 0 6 1 7 0 6 0 7 0 6 0 7-1 6 0 7-1 6-1 7 0 7-1 6 0 7 0 6 1 7 2 6 2 7 2 6 2 7 3 6 2 7 2 7 2 6 1 7 1 6 0 7 0 6 0 7 0 6-1 7 0 6-1 7 0 7 0 6 1 7 1 6 2 7 1 6 2 7 0 6 0 7 0 6 0 7-1 7-1 6 0 7-1 6 0 7 1 6 1 7 0 6 1 7 1 6 1 7 3 7 4 6 3 7 1 6 2 7 1 6 2 7 4 6 1 7 0 6 2 7 5 6 4 7 4 7 2 6 1 7 5 6 5 7 1 6-1 7-1 6 0 7 1 6 1 7 2 7 3 6 5 7 0 6 1 7 4 6 6 7 4 6 2 7 2 6 6 7 5 7 4 6 3 7 3 6 2 7-2 6-4 7-4 6-2 7 1 6 4 7 2 7 1 6 0 7 4 6 5 7 4 6 0 7 0 6-2 7-2 6 0 7 1 7-2 6-8 7 0 6-4 7-5 6-5 7-8 6-4 7-2 6-7 7-11 7-4 6 4 7-5 6-3 7-2 6 0 7 3 6-4 7-4 6 1 7-6 6-2 7 2 7 5 6-6 7-1 6 6 7-1 6 4 7 7 6 8 7 0 6 0 7 7 7 13 6 0 7 1 6 3 7 4 6 5 7 5 6 2 7 0 6 1 7 1 7-1 6 4 7 4 6 5 7 6 6-7 7 7 6 9 7-9 6-5 7-5 7 1 6 13 7 12 6-7 7 0 6 6 7 11 6-5 7-1 6 15 7 10 7-11 6-7 7-3 6-2 7-1 6 3 7 1 6-4 7-5 6 3 7 1 7 1 6 1 7 0 6 1 7 2 6-1 7 9 6 4 7 0 6-6 7 3 6 22 7-22 7 8 6-2 7-5 6-3 7 9 6 8 7 8 6 8 7-1 6 11 7-4 7-9 6-3 7-4 6-6 7-1 6-6 7-4 6 1 7 4 6-17 7-5 7-6 6 5 7 17 6-21 7 0 6 6 7 5 6 1 7-6 6 1 7-1 7-6 6-4 7 2 6-11 7-5 6 9 7 5 6 6 7 21 6-3 7-3 7 7 6 3 7-1 6 2 7 2 6-3 7-2 6-6 7-13 6-6 7-9 7-13 6-16 7-3 6-8 7-13 6 3 7-21 6-10 7-7 6-7 7-7 6 7 7 12 7 11 6 9 7 7 6 8 7 5 6-3 7-5 6-3 7 1 6-3 7-7 7-1 6 0 7-1 6-6 7-2 6-1 7-4 6-9 7-2 6-5 7-9 7-12 6-6 7-6 6 11 7 18 6 10 7 7 6 13 7 1 6 6 7 15 7-2 6 15 7-16 6 13 7-20 6-11 7 33 6 58 7 62 6 56 7 55 7 55 6 60 7 57 6 51 7 29 6 17 7 18 6 12 7 31 6 21 7 20 7 7 6 17 7 30 6-13 7 36 6 30 7 39-38 35-6-44-7-31-6-46-7-15-6-52-7 34-6-24-7-15-7-21-6-6-7-18-6-22-7-28-6-22-7-50-6-59-7-61-6-58-7-57-7-55-6-51-7-55-6-31-7 6-6 1-7 7-6 8-7 6-6-3-7 5-6 4-7 1-7 10-6-19-7-4-6-1-7-6-6-10-7 7-6-23-7-5-6 10-7-5-7-2-6 12-7 13-6 6-7 3-6 8-7 8-6 5-7-3-6-2-7 0-7 3-6-3-7-3-6 0-7 7-6 5-7 8-6 14-7 1-6 3-7 4-7 6-6 1-7 2-6-1-7-6-6 3-7 0-6-5-7-9-6 2-7 5-7 2-6-1-7-11-6 7-7 3-6 13-7 8-6 4-7 18-6-8-7 1-7 3-6 15-7-8-6 10-7 5-6-15-7 4-6 7-7 9-6 0-7 15-6-11-7-3-7 3-6-1-7-5-6 0-7 0-6-1-7-3-6 1-7-3-6-6-7-10-7 2-6-8-7-12-6-4-7-7-6-8-7-3-6 7-7 5-6 1-7-3-7 7-6 4-7 1-6-1-7 17-6-8-7 5-6 3-7 8-6 3-7-1-7 5-6-3-7 1-6 7-7 0-6 0-7-2-6-6-7 3-6-6-7-1-7 9-6-17-7 0-6-12-7-5-6-17-7 1-6-15-7-10-6 5-7 9-7 6-6 4-7 8-6 1-7 2-6-1-7-1-6-1-7 1-6 1-7 2-6 0-7-2-7-4-6-7-7 1-6-8-7-2-6-3-7-10-6-3-7-3-6-2-7-1-7-7-6-5-7-3-6-8-7-8-6-3-7 1-6-10-7-7-6-2-7 0-7-3-6 3-7 7-6-4-7-5-6-2-7 3-6 4-7 2-6 1-7 1-7 0-6 4-7 6-6 1-7 3-6-3-7-6-6-2-7-1-6 1-7 4-7 4-6 2-7 3-6 6-7 2-6 8-7 9-6 5-7 2-6 2-7 5-7 6-6 3-7-1-6-2-7 1-6-6-7-4-6-1-7-3-6-3-7-2-6-1-7 2-7 3-6 2-7-1-6 0-7 0-6 0-7-4-6-5-7-4-6 0-7-5-7-5-6-3-7-2-6-4-7-5-6-4-7-6-6-1-7-3-6-4-7 1-7-2-6-1-7-1-6-4-7-1-6-3-7-6-6-4-7 0-6 0-7-3-7-4-6-2-7 0-6 1-7-2-6-3-7-4-6-3-7-2-6-2-7-3-7-2-6-2-7 0-6 0-7-1-6-1-7 0-6 2-7 0-6 1-7 1-7 0-6 0-7-1-6-1-7-2-6-1-7-2-6-2-7-1-6 0-7 1-6 0-7 0-7 1-6 0-7 1-6 0-7-1-6-1-7-1-6-2-7-2-6-3-7-2-7-3-6-2-7-1-6-1-7-1-6 0-7 0-6 1-7 1-6 0-7 1-7 0-6 1-7 0-6 0-7-1-6 0-7 0-6 0-7 0-6 1-7 0-7 2-6 1-7 2-6 1-7 2-6 0-7 1-6 0-7-1-6-2-7-2-7-2-6-3-7-2-6-3-7-2-6-2-7-1-6-1-7-1-6 0-7-1-6-1-7 0-7-1-6-1-7-2-6-1-7-2-6-1-7-2-6-1-7 0-6 0-7 0-7 1-6 1-7 2-6 2-7 1-6 2-7 1-6 0-7 0-6 0-7-1-7-1-6-2-7-1-6-1-7-1-6-1-7-1-6 0-7-1-6 0-7 0-7-1-6-1-7-2-6-1-7-3-6-2-7-3-6-3-7-3-6-2-7-2-7-2-6-1-7-1-6 0-7 0-6 0-7 1-6 0-7 1-6 2-7 2-7 1-6 2-7 1z"/>
<path fill="url(#g14)" stroke="url(#g14)" d="M3295 850l6 58 7 62 6 56 7 55 7 55 6 60 7 57 6 51-37 19-7-50-6-59-7-61-6-58-7-57-7-55-6-51-7-55z"/>
<path class="ln" d="M659 726l7-1 6-2 7-1 7-2 6-2 7-1 6 0 7-1 6 0 7 0 6 0 7 1 6 1 7 2 7 2 6 2 7 3 6 3 7 3 6 2 7 3 6 1 7 2 6 1 7 1 7 0 6 0 7 1 6 0 7 1 6 1 7 1 6 1 7 1 6 2 7 1 7 1 6 0 7 0 6 0 7-1 6-2 7-1 6-2 7-2 6-1 7-1 7 0 6 0 7 0 6 1 7 2 6 1 7 2 6 1 7 2 6 1 7 1 7 0 6 1 7 1 6 0 7 1 6 1 7 1 6 2 7 2 6 3 7 2 6 3 7 2 7 2 6 2 7 1 6 0 7-1 6 0 7-2 6-1 7-2 6-1 7-2 7 0 6-1 7 0 6 0 7 0 6 0 7 1 6 0 7 0 6-1 7 0 7-1 6 0 7-1 6-1 7 0 6 0 7 1 6 1 7 1 6 2 7 3 7 2 6 3 7 2 6 2 7 1 6 1 7 1 6 0 7-1 6 0 7-1 7 0 6 0 7-1 6 0 7 1 6 2 7 2 6 1 7 2 6 1 7 1 6 0 7 0 7-1 6-1 7 0 6-2 7 0 6 1 7 1 6 0 7 0 6 2 7 2 7 3 6 2 7 2 6 3 7 4 6 3 7 2 6-1 7 0 6 2 7 4 7 3 6 0 7 0 6 4 7 6 6 3 7 1 6 4 7 1 6 1 7 2 7-1 6 4 7 3 6 1 7 6 6 4 7 5 6 4 7 2 6 3 7 5 7 5 6 0 7 4 6 5 7 4 6 0 7 0 6 0 7 1 6-2 7-3 7-2 6 1 7 2 6 3 7 3 6 1 7 4 6 6 7-1 6 2 7 1 6-3 7-6 7-5 6-2 7-2 6-5 7-9 6-8 7-2 6-6 7-3 6-2 7-4 7-4 6-1 7 1 6 2 7 6 6 3 7-3 6-1 7-6 6-4 7 0 7-1 6-1 7-2 6-4 7-3 6 2 7 5 6 4 7-7 6-3 7 3 7 0 6 2 7 7 6 10 7-1 6 3 7 8 6 8 7 3 6 5 7 7 7 1 6 2 7 3 6 3 7 10 6 3 7 2 6 8 7-1 6 7 7 4 7 2 6 0 7-2 6-1 7-1 6 1 7 1 6 1 7-2 6-1 7-8 6-4 7-6 7-9 6-5 7 10 6 15 7-1 6 17 7 5 6 12 7 0 6 17 7-9 7 1 6 6 7-3 6 6 7 2 6 0 7 0 6-7 7-1 6 3 7-5 7 1 6-3 7-8 6-3 7-5 6 8 7-17 6 1 7-1 6-4 7-7 7 3 6-1 7-5 6-7 7 3 6 8 7 7 6 4 7 12 6 8 7-2 7 10 6 6 7 3 6-1 7 3 6 1 7 0 6 0 7 5 6 1 7-3 7 3 6 11 7-15 6 0 7-9 6-7 7-4 6 15 7-5 6-10 7 8 6-15 7-3 7-1 6 8 7-18 6-4 7-8 6-13 7-3 6-7 7 11 6 1 7-2 7-5 6-2 7 9 6 5 7 0 6-3 7 6 6 1 7-2 6-1 7-6 7-4 6-3 7-1 6-14 7-8 6-5 7-7 6 0 7 3 6 3 7-3 7 0 6 2 7 3 6-5 7-8 6-8 7-3 6-6 7-13 6-12 7 2 7 5 6-10 7 5 6 23 7-7 6 10 7 6 6 1 7 4 6 19 7-10 7-1 6-4 7-5 6 3 7-6 6-8 7-7 6-1 7-6 6 31 7 55 6 51 7 55 7 57 6 58 7 61 6 59 7 50 6 22 7 28 6 22 7 18 6 6 7 21 7 15 6 24 7-34 6 52 7 15 6 46 7 31 6 44"/>
<path fill="url(#g15)" stroke="url(#g15)" d="M659 726l7-1 6-2 7-1 7-2 6-2 7-1 6 0 7-1 6 0 7 0 6 0 7 1 6 1 7 2 7 2 6 2 7 3 6 3 7 3 6 2 7 3 6 1 7 2 6 1 7 1 7 0 6 0 7 1 6 0 7 1 6 1 7 1 6 1 7 1 6 2 7 1 7 1 6 0 7 0 6 0 7-1 6-2 7-1 6-2 7-2 6-1 7-1 7 0 6 0 7 0 6 1 7 2 6 1 7 2 6 1 7 2 6 1 7 1 7 0 6 1 7 1 6 0 7 1 6 1 7 1 6 2 7 2 6 3 7 2 6 3 7 2 7 2 6 2 7 1 6 0 7-1 6 0 7-2 6-1 7-2 6-1 7-2 7 0 6-1 7 0 6 0 7 0 6 0 7 1 6 0 7 0 6-1 7 0 7-1 6 0 7-1 6-1 7 0 6 0 7 1 6 1 7 1 6 2 7 3 7 2 6 3 7 2 6 2 7 1 6 1 7 1 6 0 7-1 6 0 7-1 7 0 6 0 7-1 6 0 7 1 6 2 7 2 6 1 7 2 6 1 7 1 6 0 7 0 7-1 6-1 7 0 6-2 7 0 6 1 7 1 6 0 7 0 6 2 7 2 7 3 6 2 7 2 6 3 7 4 6 3 7 2 6-1 7 0 6 2 7 4 7 3 6 0 7 0 6 4 7 6 6 3 7 1 6 4 7 1 6 1 7 2 7-1 6 4 7 3 6 1 7 6 6 4 7 5 6 4 7 2 6 3 7 5 7 5 6 0 7 4 6 5 7 4 6 0 7 0 6 0 7 1 6-2 7-3 7-2 6 1 7 2 6 3 7 3 6 1 7 4 6 6 7-1 6 2 7 1 6-3 7-6 7-5 6-2 7-2 6-5 7-9 6-8 7-2 6-6 7-3 6-2 7-4 7-4 6-1 7 1 6 2 7 6 6 3 7-3 6-1 7-6 6-4 7 0 7-1 6-1 7-2 6-4 7-3 6 2 7 5 6 4 7-7 6-3 7 3 7 0 6 2 7 7 6 10 7-1 6 3 7 8 6 8 7 3 6 5 7 7 7 1 6 2 7 3 6 3 7 10 6 3 7 2 6 8 7-1 6 7 7 4 7 2 6 0 7-2 6-1 7-1 6 1 7 1 6 1 7-2 6-1 7-8 6-4 7-6 7-9 6-5 7 10 6 15 7-1 6 17 7 5 6 12 7 0 6 17 7-9 7 1 6 6 7-3 6 6 7 2 6 0 7 0 6-7 7-1 6 3 7-5 7 1 6-3 7-8 6-3 7-5 6 8 7-17 6 1 7-1 6-4 7-7 7 3 6-1 7-5 6-7 7 3 6 8 7 7 6 4 7 12 6 8 7-2 7 10 6 6 7 3 6-1 7 3 6 1 7 0 6 0 7 5 6 1 7-3 7 3 6 11 7-15 6 0 7-9 6-7 7-4 6 15 7-5 6-10 7 8 6-15 7-3 7-1 6 8 7-18 6-4 7-8 6-13 7-3 6-7 7 11 6 1 7-2 7-5 6-2 7 9 6 5 7 0 6-3 7 6 6 1 7-2 6-1 7-6 7-4 6-3 7-1 6-14 7-8 6-5 7-7 6 0 7 3 6 3 7-3 7 0 6 2 7 3 6-5 7-8 6-8 7-3 6-6 7-13 6-12 7 2 7 5 6-10 7 5 6 23 7-7 6 10 7 6 6 1 7 4 6 19 7-10 7-1 6-4 7-5 6 3 7-6 6-8 7-7 6-1 7-6 6 31 7 55 6 51 7 55 7 57 6 58 7 61 6 59 7 50 6 22 7 28 6 22 7 18 6 6 7 21 7 15 6 24 7-34 6 52 7 15 6 46 7 31 6 44-37 34-7-34-6-44-7-60-6-15-7-35-6-27-7 11-6 3-7-21-6-24-7-17-7-20-6-24-7-17-6-51-7-59-6-43-7-70-6-56-7-54-6-59-7-53-7-31-6 5-7 24-6-7-7 4-6 3-7 12-6 5-7 1-6 1-7 3-7 2-6 4-7 3-6-2-7-4-6-4-7-2-6 2-7-3-6-9-7 0-7 0-6 7-7 3-6 7-7 0-6 0-7 4-6 0-7 4-6 3-7-5-7 1-6 3-7 5-6 6-7 7-6 8-7 10-6 6-7 10-6 7-7-5-6 6-7 1-7-2-6 7-7 13-6-3-7 0-6 10-7 17-6-7-7 0-6 8-7 3-7 2-6 7-7-3-6 3-7 2-6-6-7-7-6-5-7 6-6-5-7-1-7 9-6-7-7 1-6 3-7 3-6 0-7-2-6 3-7 4-6-5-7 3-7-4-6 8-7-2-6 0-7 0-6 1-7 4-6-5-7-4-6 6-7 1-7 2-6 14-7-1-6 4-7 4-6 3-7-2-6 3-7 0-6-6-7-4-6 0-7-3-7-12-6 1-7-5-6-6-7-7-6-4-7-2-6-4-7 4-6 4-7-1-7-5-6 2-7 0-6-2-7-3-6-2-7-2-6-3-7-4-6-6-7 1-7 5-6-3-7 4-6 13-7-15-6-2-7-1-6 3-7 14-6-13-7-2-7 0-6 1-7-4-6 5-7-6-6-2-7-3-6-6-7-8-6 1-7 1-7-1-6 0-7-2-6-3-7-2-6-8-7-9-6-9-7-6-6-6-7-11-7-5-6 0-7-11-6-1-7 0-6-3-7-12-6-7-7-1-6 4-7-2-6-5-7-5-7 5-6-2-7 0-6 6-7 2-6 6-7 6-6 1-7 1-6-2-7-2-7 0-6-2-7-1-6 1-7-2-6 1-7 2-6 1-7 3-6 8-7 9-7 8-6-4-7 0-6 4-7 8-6-1-7 0-6 2-7 5-6 0-7 0-7 0-6-2-7-8-6-4-7 4-6 0-7-7-6-3-7 6-6-4-7-1-7 1-6 2-7-1-6-3-7-3-6-3-7-2-6-2-7-2-6-5-7-1-7-2-6-5-7-5-6-2-7-1-6-2-7-3-6-4-7-3-6-2-7-4-6-3-7-2-7-4-6-4-7-2-6-2-7-2-6-2-7-1-6-2-7-1-6-2-7-2-7 0-6-3-7-3-6-5-7-3-6-3-7-1-6-1-7-3-6-4-7-1-7 1-6-1-7 0-6 0-7 1-6 0-7 1-6 0-7 0-6 0-7-1-7-1-6-1-7-2-6-2-7-2-6 0-7 0-6 0-7 0-6 1-7 0-7 1-6 0-7-1-6 0-7-1-6-2-7-2-6-2-7-2-6-3-7-2-7-2-6-2-7 0-6-1-7 0-6 1-7 0-6 1-7 1-6 1-7 0-6 0-7 0-7 0-6 0-7-1-6 0-7 0-6 0-7 1-6 1-7 1-6 2-7 1-7 2-6 1-7 1-6 0-7-1-6-1-7-2-6-2-7-2-6-3-7-2-7-3-6-2-7-1-6-2-7 0-6-1-7-1-6 0-7-1-6-1-7 0-7-2-6-1-7-2-6-1-7-2-6-1-7-1-6 0-7 0-6 1-7 1-7 1-6 2-7 1-6 2-7 1-6 1-7 1-6-1-7 0-6-1-7-1-7-2-6-1-7-1-6-2-7 0-6-1-7 0-6-1-7 0-6 0-7-1-6-1-7-2-7-1-6-3-7-2-6-3-7-2-6-3-7-2-6-2-7-1-6-1-7 0-7 0-6 0-7 0-6 1-7 0-6 1-7 2-6 1-7 2-6 0-7 1z"/>
<path fill="url(#g16)" stroke="url(#g16)" d="M3257 877l7 55 6 51 7 55 7 57 6 58 7 61 6 59 7 50-38 20-6-51-7-59-6-43-7-70-6-56-7-54-6-59-7-53z"/>
<path fill="url(#g17)" stroke="url(#g17)" d="M3382 1512l6 46 7 31 6 44-37 34-7-34-6-44-7-60z"/>
<path class="ln" d="M622 757l7-1 6 0 7-2 6-1 7-2 6-1 7 0 6-1 7 0 6 0 7 0 7 0 6 1 7 1 6 2 7 2 6 3 7 2 6 3 7 2 6 3 7 1 7 2 6 1 7 1 6 0 7 0 6 1 7 0 6 1 7 0 6 2 7 1 6 1 7 2 7 1 6 1 7 0 6 1 7-1 6-1 7-1 6-2 7-1 6-2 7-1 7-1 6-1 7 0 6 0 7 1 6 1 7 2 6 1 7 2 6 1 7 2 7 0 6 1 7 1 6 0 7 1 6 1 7 0 6 2 7 1 6 2 7 3 7 2 6 3 7 2 6 2 7 2 6 1 7 1 6 0 7-1 6-1 7-2 7-1 6-2 7-1 6-1 7-1 6 0 7 0 6 0 7 1 6 0 7 0 7 0 6 0 7 0 6-1 7-1 6-1 7 0 6-1 7 0 6 1 7 0 6 2 7 2 7 2 6 3 7 2 6 2 7 2 6 2 7 1 6 0 7 1 6 0 7-1 7 0 6-1 7 0 6 0 7 0 6 0 7 2 6 2 7 2 6 1 7 1 7 1 6 0 7 0 6 0 7-1 6 0 7-1 6 0 7 0 6 1 7-1 7 1 6 4 7 3 6 1 7 1 6 3 7 3 6 5 7 3 6 3 7 0 7 2 6 2 7 1 6 2 7 1 6 2 7 2 6 2 7 2 6 4 7 4 7 2 6 3 7 4 6 2 7 3 6 4 7 3 6 2 7 1 6 2 7 5 6 5 7 2 7 1 6 5 7 2 6 2 7 2 6 3 7 3 6 3 7 1 6-2 7-1 7 1 6 4 7-6 6 3 7 7 6 0 7-4 6 4 7 8 6 2 7 0 7 0 6 0 7-5 6-2 7 0 6 1 7-8 6-4 7 0 6 4 7-8 7-9 6-8 7-3 6-1 7-2 6-1 7 2 6-1 7 1 6 2 7 0 7 2 6 2 7-1 6-1 7-6 6-6 7-2 6-6 7 0 6 2 7-5 7 5 6 5 7 2 6-4 7 1 6 7 7 12 6 3 7 0 6 1 7 11 6 0 7 5 7 11 6 6 7 6 6 9 7 9 6 8 7 2 6 3 7 2 6 0 7 1 7-1 6-1 7 8 6 6 7 3 6 2 7 6 6-5 7 4 6-1 7 0 7 2 6 13 7-14 6-3 7 1 6 2 7 15 6-13 7-4 6 3 7-5 7-1 6 6 7 4 6 3 7 2 6 2 7 3 6 2 7 0 6-2 7 5 7 1 6-4 7-4 6 4 7 2 6 4 7 7 6 6 7 5 6-1 7 12 7 3 6 0 7 4 6 6 7 0 6-3 7 2 6-3 7-4 6-4 7 1 6-14 7-2 7-1 6-6 7 4 6 5 7-4 6-1 7 0 6 0 7 2 6-8 7 4 7-3 6 5 7-4 6-3 7 2 6 0 7-3 6-3 7-1 6 7 7-9 7 1 6 5 7-6 6 5 7 7 6 6 7-2 6-3 7 3 6-7 7-2 7-3 6-8 7 0 6 7 7-17 6-10 7 0 6 3 7-13 6-7 7 2 7-1 6-6 7 5 6-7 7-10 6-6 7-10 6-8 7-7 6-6 7-5 6-3 7-1 7 5 6-3 7-4 6 0 7-4 6 0 7 0 6-7 7-3 6-7 7 0 7 0 6 9 7 3 6-2 7 2 6 4 7 4 6 2 7-3 6-4 7-2 7-3 6-1 7-1 6-5 7-12 6-3 7-4 6 7 7-24 6-5 7 31 7 53 6 59 7 54 6 56 7 70 6 43 7 59 6 51 7 17 6 24 7 20 7 17 6 24 7 21 6-3 7-11 6 27 7 35 6 15 7 60 6 44 7 34"/>
<path fill="url(#g18)" stroke="url(#g18)" d="M622 757l7-1 6 0 7-2 6-1 7-2 6-1 7 0 6-1 7 0 6 0 7 0 7 0 6 1 7 1 6 2 7 2 6 3 7 2 6 3 7 2 6 3 7 1 7 2 6 1 7 1 6 0 7 0 6 1 7 0 6 1 7 0 6 2 7 1 6 1 7 2 7 1 6 1 7 0 6 1 7-1 6-1 7-1 6-2 7-1 6-2 7-1 7-1 6-1 7 0 6 0 7 1 6 1 7 2 6 1 7 2 6 1 7 2 7 0 6 1 7 1 6 0 7 1 6 1 7 0 6 2 7 1 6 2 7 3 7 2 6 3 7 2 6 2 7 2 6 1 7 1 6 0 7-1 6-1 7-2 7-1 6-2 7-1 6-1 7-1 6 0 7 0 6 0 7 1 6 0 7 0 7 0 6 0 7 0 6-1 7-1 6-1 7 0 6-1 7 0 6 1 7 0 6 2 7 2 7 2 6 3 7 2 6 2 7 2 6 2 7 1 6 0 7 1 6 0 7-1 7 0 6-1 7 0 6 0 7 0 6 0 7 2 6 2 7 2 6 1 7 1 7 1 6 0 7 0 6 0 7-1 6 0 7-1 6 0 7 0 6 1 7-1 7 1 6 4 7 3 6 1 7 1 6 3 7 3 6 5 7 3 6 3 7 0 7 2 6 2 7 1 6 2 7 1 6 2 7 2 6 2 7 2 6 4 7 4 7 2 6 3 7 4 6 2 7 3 6 4 7 3 6 2 7 1 6 2 7 5 6 5 7 2 7 1 6 5 7 2 6 2 7 2 6 3 7 3 6 3 7 1 6-2 7-1 7 1 6 4 7-6 6 3 7 7 6 0 7-4 6 4 7 8 6 2 7 0 7 0 6 0 7-5 6-2 7 0 6 1 7-8 6-4 7 0 6 4 7-8 7-9 6-8 7-3 6-1 7-2 6-1 7 2 6-1 7 1 6 2 7 0 7 2 6 2 7-1 6-1 7-6 6-6 7-2 6-6 7 0 6 2 7-5 7 5 6 5 7 2 6-4 7 1 6 7 7 12 6 3 7 0 6 1 7 11 6 0 7 5 7 11 6 6 7 6 6 9 7 9 6 8 7 2 6 3 7 2 6 0 7 1 7-1 6-1 7 8 6 6 7 3 6 2 7 6 6-5 7 4 6-1 7 0 7 2 6 13 7-14 6-3 7 1 6 2 7 15 6-13 7-4 6 3 7-5 7-1 6 6 7 4 6 3 7 2 6 2 7 3 6 2 7 0 6-2 7 5 7 1 6-4 7-4 6 4 7 2 6 4 7 7 6 6 7 5 6-1 7 12 7 3 6 0 7 4 6 6 7 0 6-3 7 2 6-3 7-4 6-4 7 1 6-14 7-2 7-1 6-6 7 4 6 5 7-4 6-1 7 0 6 0 7 2 6-8 7 4 7-3 6 5 7-4 6-3 7 2 6 0 7-3 6-3 7-1 6 7 7-9 7 1 6 5 7-6 6 5 7 7 6 6 7-2 6-3 7 3 6-7 7-2 7-3 6-8 7 0 6 7 7-17 6-10 7 0 6 3 7-13 6-7 7 2 7-1 6-6 7 5 6-7 7-10 6-6 7-10 6-8 7-7 6-6 7-5 6-3 7-1 7 5 6-3 7-4 6 0 7-4 6 0 7 0 6-7 7-3 6-7 7 0 7 0 6 9 7 3 6-2 7 2 6 4 7 4 6 2 7-3 6-4 7-2 7-3 6-1 7-1 6-5 7-12 6-3 7-4 6 7 7-24 6-5 7 31 7 53 6 59 7 54 6 56 7 70 6 43 7 59 6 51 7 17 6 24 7 20 7 17 6 24 7 21 6-3 7-11 6 27 7 35 6 15 7 60 6 44 7 34-37 33-7-33-7-46-6-33-7-53-6 19-7-26-6 5-7-23-6 3-7-15-6-30-7-17-7 0-6-36-7-46-6-51-7-50-6-58-7-50-6-50-7-66-6-69-7-50-6-14-7-9-7-13-6 19-7 15-6 10-7 16-6 16-7 12-6 2-7 16-6 17-7 1-7 0-6 9-7 14-6 11-7 11-6 3-7 13-6-13-7-3-6-4-7-2-7-5-6-3-7-7-6-18-7-8-6-7-7 7-6 6-7 35-6-27-7-1-7 8-6 5-7 6-6 8-7 3-6 1-7 6-6 21-7 0-6 0-7 4-7 27-6-15-7 7-6 9-7 9-6 4-7 2-6 31-7-21-6 4-7 5-7 13-6 2-7 1-6-4-7-1-6-11-7-10-6-7-7-9-6-14-7-10-6-4-7 2-7-33-6-15-7 29-6-17-7 6-6 7-7 4-6-5-7 1-6 9-7-2-7 4-6 4-7 3-6 16-7-6-6 5-7 10-6 0-7 5-6 38-7-23-7 2-6 4-7 4-6 3-7 5-6-1-7-6-6 9-7 3-6-6-7-8-7-13-6-19-7-19-6-12-7-8-6 9-7 2-6-6-7 19-6 13-7-1-7-1-6 4-7 3-6-3-7-4-6 0-7 1-6-7-7-4-6-6-7-7-6 4-7-4-7 5-6-22-7-4-6-5-7-3-6 1-7-2-6-2-7-2-6 0-7 2-7 3-6 2-7 0-6 0-7 1-6 0-7-6-6-8-7-7-6-6-7-8-7-11-6-12-7-2-6-5-7-3-6-3-7-8-6-10-7-4-6 3-7-3-7-3-6-5-7-8-6-3-7-4-6-2-7-5-6 0-7-4-6-6-7-9-7 1-6 1-7 1-6 3-7 6-6 4-7 0-6 2-7 3-6 3-7 4-7 0-6-4-7-4-6 10-7 2-6 2-7 2-6 0-7 1-6 2-7 4-6 8-7 10-7 6-6-1-7 2-6 0-7-2-6 5-7 5-6 7-7 5-6-8-7-9-7-4-6 0-7-2-6-2-7-1-6-3-7 3-6-2-7-3-6 6-7-3-7-6-6-5-7-9-6-5-7-4-6-4-7-5-6-4-7-2-6 1-7-1-7-2-6-1-7 0-6 0-7-2-6-4-7-7-6-1-7-2-6-6-7-7-7 1-6-2-7-8-6-1-7-5-6-4-7 2-6-1-7-2-6-2-7-3-7-3-6-2-7-4-6-3-7-2-6-3-7-4-6-2-7-2-6 0-7 2-6-1-7 0-7 2-6-1-7 3-6 3-7 0-6-3-7 0-6-1-7-2-6-2-7-2-7-2-6-2-7 0-6 0-7 0-6 0-7 1-6 0-7 1-6 0-7-1-7-1-6-1-7-2-6-2-7-2-6-3-7-2-6-2-7-2-6-1-7-1-7 0-6 0-7 0-6 1-7 1-6 1-7 0-6 0-7 1-6-1-7 0-7 0-6-1-7 0-6 0-7 1-6 0-7 1-6 2-7 1-6 2-7 1-7 1-6 1-7 0-6-1-7-1-6-2-7-3-6-2-7-3-6-2-7-2-6-2-7-2-7-1-6-1-7 0-6-1-7 0-6-1-7-1-6-1-7-1-6-2-7-1-7-2-6-1-7-1-6-1-7 0-6 0-7 1-6 1-7 2-6 1-7 2-7 2-6 1-7 1-6 0-7-1-6 0-7-1-6-2-7-1-6-1-7-2-7-1-6 0-7-1-6 0-7 0-6-1-7 0-6-1-7-1-6-2-7-2-7-2-6-3-7-2-6-3-7-2-6-2-7-1-6-1-7-1-6 0-7 0-7 0-6 1-7 0-6 1-7 0-6 2-7 1-6 1-7 0-6 1z"/>
<path fill="url(#g19)" stroke="url(#g19)" d="M3213 867l7 31 7 53 6 59 7 54 6 56 7 70 6 43 7 59 6 51-37 72-7-46-6-51-7-50-6-58-7-50-6-50-7-66-6-69-7-50z"/>
<path fill="url(#g20)" stroke="url(#g20)" d="M3338 1514l6 15 7 60 6 44-37 34-7-46-6-33-7-53z"/>
<path class="ln" d="M585 789l6-1 7 0 6-1 7-1 6-2 7 0 6-1 7 0 6-1 7 0 7 0 6 0 7 1 6 1 7 1 6 2 7 2 6 3 7 2 6 3 7 2 7 2 6 2 7 1 6 1 7 0 6 1 7 0 6 0 7 1 6 0 7 1 7 2 6 1 7 1 6 2 7 1 6 0 7 1 6 0 7-1 6-1 7-2 7-2 6-1 7-2 6-1 7-1 6 0 7 0 6 1 7 1 6 1 7 2 7 1 6 2 7 1 6 1 7 1 6 1 7 0 6 1 7 0 6 1 7 1 7 2 6 2 7 2 6 2 7 3 6 2 7 3 6 2 7 1 6 1 7 0 6-1 7-1 7-1 6-2 7-1 6-2 7-1 6 0 7-1 6 0 7 0 6 1 7 0 7 0 6 1 7-1 6 0 7 0 6-1 7-1 6-1 7 0 6 0 7 0 7 1 6 1 7 2 6 2 7 2 6 3 7 2 6 2 7 2 6 1 7 1 7 1 6 0 7-1 6 0 7-1 6 0 7 0 6 0 7 0 6 2 7 2 7 2 6 2 7 2 6 1 7 0 6 3 7 0 6-3 7-3 6 1 7-2 7 0 6 1 7-2 6 0 7 2 6 2 7 4 6 3 7 2 6 3 7 4 6 2 7 3 7 3 6 2 7 2 6 1 7-2 6 4 7 5 6 1 7 8 6 2 7-1 7 7 6 6 7 2 6 1 7 7 6 4 7 2 6 0 7 0 6 1 7 2 7 1 6-1 7 2 6 4 7 5 6 4 7 4 6 5 7 9 6 5 7 6 7 3 6-6 7 3 6 2 7-3 6 3 7 1 6 2 7 2 6 0 7 4 7 9 6 8 7-5 6-7 7-5 6-5 7 2 6 0 7-2 6 1 7-6 7-10 6-8 7-4 6-2 7-1 6 0 7-2 6-2 7-2 6-10 7 4 6 4 7 0 7-4 6-3 7-3 6-2 7 0 6-4 7-6 6-3 7-1 6-1 7-1 7 9 6 6 7 4 6 0 7 5 6 2 7 4 6 3 7 8 6 5 7 3 7 3 6-3 7 4 6 10 7 8 6 3 7 3 6 5 7 2 6 12 7 11 7 8 6 6 7 7 6 8 7 6 6 0 7-1 6 0 7 0 6-2 7-3 7-2 6 0 7 2 6 2 7 2 6-1 7 3 6 5 7 4 6 22 7-5 7 4 6-4 7 7 6 6 7 4 6 7 7-1 6 0 7 4 6 3 7-3 6-4 7 1 7 1 6-13 7-19 6 6 7-2 6-9 7 8 6 12 7 19 6 19 7 13 7 8 6 6 7-3 6-9 7 6 6 1 7-5 6-3 7-4 6-4 7-2 7 23 6-38 7-5 6 0 7-10 6-5 7 6 6-16 7-3 6-4 7-4 7 2 6-9 7-1 6 5 7-4 6-7 7-6 6 17 7-29 6 15 7 33 7-2 6 4 7 10 6 14 7 9 6 7 7 10 6 11 7 1 6 4 7-1 6-2 7-13 7-5 6-4 7 21 6-31 7-2 6-4 7-9 6-9 7-7 6 15 7-27 7-4 6 0 7 0 6-21 7-6 6-1 7-3 6-8 7-6 6-5 7-8 7 1 6 27 7-35 6-6 7-7 6 7 7 8 6 18 7 7 6 3 7 5 7 2 6 4 7 3 6 13 7-13 6-3 7-11 6-11 7-14 6-9 7 0 7-1 6-17 7-16 6-2 7-12 6-16 7-16 6-10 7-15 6-19 7 13 7 9 6 14 7 50 6 69 7 66 6 50 7 50 6 58 7 50 6 51 7 46 6 36 7 0 7 17 6 30 7 15 6-3 7 23 6-5 7 26 6-19 7 53 6 33 7 46 7 33"/>
<path fill="url(#g21)" stroke="url(#g21)" d="M585 789l6-1 7 0 6-1 7-1 6-2 7 0 6-1 7 0 6-1 7 0 7 0 6 0 7 1 6 1 7 1 6 2 7 2 6 3 7 2 6 3 7 2 7 2 6 2 7 1 6 1 7 0 6 1 7 0 6 0 7 1 6 0 7 1 7 2 6 1 7 1 6 2 7 1 6 0 7 1 6 0 7-1 6-1 7-2 7-2 6-1 7-2 6-1 7-1 6 0 7 0 6 1 7 1 6 1 7 2 7 1 6 2 7 1 6 1 7 1 6 1 7 0 6 1 7 0 6 1 7 1 7 2 6 2 7 2 6 2 7 3 6 2 7 3 6 2 7 1 6 1 7 0 6-1 7-1 7-1 6-2 7-1 6-2 7-1 6 0 7-1 6 0 7 0 6 1 7 0 7 0 6 1 7-1 6 0 7 0 6-1 7-1 6-1 7 0 6 0 7 0 7 1 6 1 7 2 6 2 7 2 6 3 7 2 6 2 7 2 6 1 7 1 7 1 6 0 7-1 6 0 7-1 6 0 7 0 6 0 7 0 6 2 7 2 7 2 6 2 7 2 6 1 7 0 6 3 7 0 6-3 7-3 6 1 7-2 7 0 6 1 7-2 6 0 7 2 6 2 7 4 6 3 7 2 6 3 7 4 6 2 7 3 7 3 6 2 7 2 6 1 7-2 6 4 7 5 6 1 7 8 6 2 7-1 7 7 6 6 7 2 6 1 7 7 6 4 7 2 6 0 7 0 6 1 7 2 7 1 6-1 7 2 6 4 7 5 6 4 7 4 6 5 7 9 6 5 7 6 7 3 6-6 7 3 6 2 7-3 6 3 7 1 6 2 7 2 6 0 7 4 7 9 6 8 7-5 6-7 7-5 6-5 7 2 6 0 7-2 6 1 7-6 7-10 6-8 7-4 6-2 7-1 6 0 7-2 6-2 7-2 6-10 7 4 6 4 7 0 7-4 6-3 7-3 6-2 7 0 6-4 7-6 6-3 7-1 6-1 7-1 7 9 6 6 7 4 6 0 7 5 6 2 7 4 6 3 7 8 6 5 7 3 7 3 6-3 7 4 6 10 7 8 6 3 7 3 6 5 7 2 6 12 7 11 7 8 6 6 7 7 6 8 7 6 6 0 7-1 6 0 7 0 6-2 7-3 7-2 6 0 7 2 6 2 7 2 6-1 7 3 6 5 7 4 6 22 7-5 7 4 6-4 7 7 6 6 7 4 6 7 7-1 6 0 7 4 6 3 7-3 6-4 7 1 7 1 6-13 7-19 6 6 7-2 6-9 7 8 6 12 7 19 6 19 7 13 7 8 6 6 7-3 6-9 7 6 6 1 7-5 6-3 7-4 6-4 7-2 7 23 6-38 7-5 6 0 7-10 6-5 7 6 6-16 7-3 6-4 7-4 7 2 6-9 7-1 6 5 7-4 6-7 7-6 6 17 7-29 6 15 7 33 7-2 6 4 7 10 6 14 7 9 6 7 7 10 6 11 7 1 6 4 7-1 6-2 7-13 7-5 6-4 7 21 6-31 7-2 6-4 7-9 6-9 7-7 6 15 7-27 7-4 6 0 7 0 6-21 7-6 6-1 7-3 6-8 7-6 6-5 7-8 7 1 6 27 7-35 6-6 7-7 6 7 7 8 6 18 7 7 6 3 7 5 7 2 6 4 7 3 6 13 7-13 6-3 7-11 6-11 7-14 6-9 7 0 7-1 6-17 7-16 6-2 7-12 6-16 7-16 6-10 7-15 6-19 7 13 7 9 6 14 7 50 6 69 7 66 6 50 7 50 6 58 7 50 6 51 7 46 6 36 7 0 7 17 6 30 7 15 6-3 7 23 6-5 7 26 6-19 7 53 6 33 7 46 7 33-38 34-6-26-7-31-6-21-7-8-7-17-6-3-7-25-6-33-7 27-6-18-7-40-6-15-7-22-6-11-7-42-7-46-6-42-7-33-6-77-7-56-6-36-7-72-6-38-7-5-6 9-7 8-7 13-6 16-7 6-6 13-7 10-6 0-7 7-6-17-7 3-6 2-7-13-7 11-6 24-7 14-6 7-7 12-6 16-7 13-6 6-7 28-6-21-7-4-6 2-7 0-7-7-6 21-7-10-6 8-7-57-6-13-7-16-6 13-7 14-6 11-7 9-7 7-6 4-7 10-6 14-7 17-6 1-7 35-6-27-7-4-6-10-7-11-7-10-6-12-7-14-6 13-7 20-6 8-7 11-6 16-7 22-6 13-7 8-7 2-6-6-7 4-6 5-7 5-6-1-7-19-6-20-7-15-6-24-7-16-7-17-6-18-7 10-6 10-7 9-6 1-7 14-6 7-7 3-6 13-7 14-7 4-6-8-7 17-6 5-7-2-6-6-7 2-6-5-7-5-6-6-7-17-6-21-7-4-7 8-6 9-7 6-6 1-7 13-6 2-7-1-6-3-7-11-6 6-7 4-7 11-6-33-7-8-6-8-7-10-6-7-7-9-6-14-7-5-6-10-7 0-7 0-6-6-7 0-6 2-7-9-6 1-7 2-6 5-7 5-6-7-7-8-7-3-6 13-7-2-6-5-7-1-6 3-7-1-6-3-7-4-6-3-7-4-7-4-6-2-7 1-6-4-7-11-6 4-7 1-6-2-7-6-6 10-7 5-7-15-6-6-7-5-6-8-7-9-6-15-7-12-6-7-7-1-6-2-7-1-6-6-7-14-7 2-6-8-7-10-6-12-7 10-6-1-7-5-6 6-7-6-6 2-7 11-7 8-6 5-7 2-6 0-7-3-6 2-7 3-6 1-7-10-6-6-7-2-7-1-6 5-7 2-6-2-7 7-6 3-7-1-6-5-7 9-6 12-7 8-7-5-6 0-7 1-6 0-7 2-6-4-7 0-6 2-7-15-6-4-7-2-7-3-6 5-7 1-6-1-7-2-6-16-7 1-6 11-7 3-6-9-7-8-6-4-7 1-7-6-6-6-7-4-6-2-7-6-6-4-7 3-6-6-7 1-6 4-7 1-7-3-6 0-7-2-6-13-7-7-6-3-7-1-6-7-7-4-6-3-7-2-7-5-6 2-7 4-6-1-7-4-6-2-7 0-6-3-7-2-6-3-7-3-7-3-6-5-7-2-6 0-7-4-6-2-7 0-6 1-7-1-6 1-7 1-7 0-6 2-7 1-6-1-7 0-6-1-7-2-6-3-7-2-6-2-7-1-7-2-6 0-7-1-6 0-7 1-6 0-7 0-6 0-7 0-6-1-7-1-6-2-7-2-7-2-6-3-7-2-6-3-7-2-6-1-7-2-6 0-7 0-6 0-7 0-7 1-6 1-7 1-6 0-7 0-6 0-7 0-6-1-7 0-6 0-7 0-7 0-6 0-7 1-6 1-7 2-6 1-7 1-6 2-7 0-6 1-7-1-7 0-6-2-7-2-6-2-7-3-6-3-7-2-6-2-7-2-6-1-7-1-7-1-6-1-7 0-6-1-7 0-6-1-7-1-6-2-7-1-6-2-7-1-7-2-6-1-7 0-6 0-7 0-6 1-7 2-6 1-7 2-6 2-7 1-6 1-7 1-7 0-6-1-7 0-6-2-7-1-6-1-7-1-6-2-7 0-6-1-7 0-7-1-6 0-7 0-6-1-7-1-6-1-7-2-6-2-7-2-6-3-7-2-7-3-6-2-7-2-6-1-7-1-6 0-7-1-6 0-7 1-6 0-7 1-7 0-6 0-7 2-6 0-7 1-6 1-7 0z"/>
<path fill="url(#g22)" stroke="url(#g22)" d="M3176 925l7 50 6 69 7 66 6 50 7 50 6 58 7 50 6 51 7 46-37 76-7-42-7-46-6-42-7-33-6-77-7-56-6-36-7-72-6-38z"/>
<path class="ln" d="M547 821l7 0 6-1 7-1 6 0 7-2 6 0 7 0 7-1 6 0 7-1 6 0 7 1 6 0 7 1 6 1 7 2 6 2 7 3 7 2 6 3 7 2 6 2 7 2 6 1 7 1 6 1 7 0 6 0 7 1 7 0 6 1 7 0 6 2 7 1 6 1 7 1 6 2 7 0 6 1 7 0 7-1 6-1 7-1 6-2 7-2 6-1 7-2 6-1 7 0 6 0 7 0 6 1 7 2 7 1 6 2 7 1 6 2 7 1 6 1 7 0 6 1 7 0 6 1 7 1 7 1 6 1 7 2 6 2 7 2 6 3 7 3 6 2 7 2 6 2 7 0 7 1 6-1 7 0 6-2 7-1 6-1 7-2 6-1 7-1 6 0 7 0 7 0 6 0 7 0 6 1 7 0 6 0 7 0 6 0 7-1 6-1 7-1 7 0 6 0 7 0 6 0 7 2 6 1 7 2 6 3 7 2 6 3 7 2 7 2 6 2 7 1 6 1 7 0 6 0 7 0 6 0 7-1 6 0 7 1 6 0 7 2 7 1 6 2 7 2 6 3 7 2 6 1 7 0 6 1 7-1 6-2 7 0 7-1 6-1 7 1 6-1 7 0 6 2 7 4 6 0 7 2 6 5 7 3 7 3 6 3 7 2 6 3 7 0 6 2 7 4 6 1 7-4 6-2 7 5 7 2 6 3 7 4 6 7 7 1 6 3 7 7 6 13 7 2 6 0 7 3 7-1 6-4 7-1 6 6 7-3 6 4 7 6 6 2 7 4 6 6 7 6 7-1 6 4 7 8 6 9 7-3 6-11 7-1 6 16 7 2 6 1 7-1 6-5 7 3 7 2 6 4 7 15 6-2 7 0 6 4 7-2 6 0 7-1 6 0 7 5 7-8 6-12 7-9 6 5 7 1 6-3 7-7 6 2 7-2 6-5 7 1 7 2 6 6 7 10 6-1 7-3 6-2 7 3 6 0 7-2 6-5 7-8 7-11 6-2 7 6 6-6 7 5 6 1 7-10 6 12 7 10 6 8 7-2 7 14 6 6 7 1 6 2 7 1 6 7 7 12 6 15 7 9 6 8 7 5 6 6 7 15 7-5 6-10 7 6 6 2 7-1 6-4 7 11 6 4 7-1 6 2 7 4 7 4 6 3 7 4 6 3 7 1 6-3 7 1 6 5 7 2 6-13 7 3 7 8 6 7 7-5 6-5 7-2 6-1 7 9 6-2 7 0 6 6 7 0 7 0 6 10 7 5 6 14 7 9 6 7 7 10 6 8 7 8 6 33 7-11 7-4 6-6 7 11 6 3 7 1 6-2 7-13 6-1 7-6 6-9 7-8 7 4 6 21 7 17 6 6 7 5 6 5 7-2 6 6 7 2 6-5 7-17 6 8 7-4 7-14 6-13 7-3 6-7 7-14 6-1 7-9 6-10 7-10 6 18 7 17 7 16 6 24 7 15 6 20 7 19 6 1 7-5 6-5 7-4 6 6 7-2 7-8 6-13 7-22 6-16 7-11 6-8 7-20 6-13 7 14 6 12 7 10 7 11 6 10 7 4 6 27 7-35 6-1 7-17 6-14 7-10 6-4 7-7 7-9 6-11 7-14 6-13 7 16 6 13 7 57 6-8 7 10 6-21 7 7 7 0 6-2 7 4 6 21 7-28 6-6 7-13 6-16 7-12 6-7 7-14 6-24 7-11 7 13 6-2 7-3 6 17 7-7 6 0 7-10 6-13 7-6 6-16 7-13 7-8 6-9 7 5 6 38 7 72 6 36 7 56 6 77 7 33 6 42 7 46 7 42 6 11 7 22 6 15 7 40 6 18 7-27 6 33 7 25 6 3 7 17 7 8 6 21 7 31 6 26"/>
<path fill="url(#g23)" stroke="url(#g23)" d="M547 821l7 0 6-1 7-1 6 0 7-2 6 0 7 0 7-1 6 0 7-1 6 0 7 1 6 0 7 1 6 1 7 2 6 2 7 3 7 2 6 3 7 2 6 2 7 2 6 1 7 1 6 1 7 0 6 0 7 1 7 0 6 1 7 0 6 2 7 1 6 1 7 1 6 2 7 0 6 1 7 0 7-1 6-1 7-1 6-2 7-2 6-1 7-2 6-1 7 0 6 0 7 0 6 1 7 2 7 1 6 2 7 1 6 2 7 1 6 1 7 0 6 1 7 0 6 1 7 1 7 1 6 1 7 2 6 2 7 2 6 3 7 3 6 2 7 2 6 2 7 0 7 1 6-1 7 0 6-2 7-1 6-1 7-2 6-1 7-1 6 0 7 0 7 0 6 0 7 0 6 1 7 0 6 0 7 0 6 0 7-1 6-1 7-1 7 0 6 0 7 0 6 0 7 2 6 1 7 2 6 3 7 2 6 3 7 2 7 2 6 2 7 1 6 1 7 0 6 0 7 0 6 0 7-1 6 0 7 1 6 0 7 2 7 1 6 2 7 2 6 3 7 2 6 1 7 0 6 1 7-1 6-2 7 0 7-1 6-1 7 1 6-1 7 0 6 2 7 4 6 0 7 2 6 5 7 3 7 3 6 3 7 2 6 3 7 0 6 2 7 4 6 1 7-4 6-2 7 5 7 2 6 3 7 4 6 7 7 1 6 3 7 7 6 13 7 2 6 0 7 3 7-1 6-4 7-1 6 6 7-3 6 4 7 6 6 2 7 4 6 6 7 6 7-1 6 4 7 8 6 9 7-3 6-11 7-1 6 16 7 2 6 1 7-1 6-5 7 3 7 2 6 4 7 15 6-2 7 0 6 4 7-2 6 0 7-1 6 0 7 5 7-8 6-12 7-9 6 5 7 1 6-3 7-7 6 2 7-2 6-5 7 1 7 2 6 6 7 10 6-1 7-3 6-2 7 3 6 0 7-2 6-5 7-8 7-11 6-2 7 6 6-6 7 5 6 1 7-10 6 12 7 10 6 8 7-2 7 14 6 6 7 1 6 2 7 1 6 7 7 12 6 15 7 9 6 8 7 5 6 6 7 15 7-5 6-10 7 6 6 2 7-1 6-4 7 11 6 4 7-1 6 2 7 4 7 4 6 3 7 4 6 3 7 1 6-3 7 1 6 5 7 2 6-13 7 3 7 8 6 7 7-5 6-5 7-2 6-1 7 9 6-2 7 0 6 6 7 0 7 0 6 10 7 5 6 14 7 9 6 7 7 10 6 8 7 8 6 33 7-11 7-4 6-6 7 11 6 3 7 1 6-2 7-13 6-1 7-6 6-9 7-8 7 4 6 21 7 17 6 6 7 5 6 5 7-2 6 6 7 2 6-5 7-17 6 8 7-4 7-14 6-13 7-3 6-7 7-14 6-1 7-9 6-10 7-10 6 18 7 17 7 16 6 24 7 15 6 20 7 19 6 1 7-5 6-5 7-4 6 6 7-2 7-8 6-13 7-22 6-16 7-11 6-8 7-20 6-13 7 14 6 12 7 10 7 11 6 10 7 4 6 27 7-35 6-1 7-17 6-14 7-10 6-4 7-7 7-9 6-11 7-14 6-13 7 16 6 13 7 57 6-8 7 10 6-21 7 7 7 0 6-2 7 4 6 21 7-28 6-6 7-13 6-16 7-12 6-7 7-14 6-24 7-11 7 13 6-2 7-3 6 17 7-7 6 0 7-10 6-13 7-6 6-16 7-13 7-8 6-9 7 5 6 38 7 72 6 36 7 56 6 77 7 33 6 42 7 46 7 42 6 11 7 22 6 15 7 40 6 18 7-27 6 33 7 25 6 3 7 17 7 8 6 21 7 31 6 26-37 33-7-12-6-22-7-7-6-1-7-50-6 30-7-53-7-34-6-43-7-10-6-11-7 4-6 24-7-56-6-13-7-26-6-32-7 11-7-80-6-43-7-36-6-29-7-22-6-7-7-2-6-4-7 0-6 2-7-17-7-7-6-6-7-10-6-15-7 1-6 12-7 2-6 6-7 12-6 11-7-7-7 10-6 15-7 17-6 40-7-28-6 10-7 11-6 14-7 45-6-7-7-13-7 6-6 1-7-2-6 2-7 4-6 55-7-29-6-10-7-4-6 2-7 14-7-16-6-14-7-14-6-17-7-16-6-23-7-21-6 8-7 11-6 8-7 5-6 14-7 19-7 11-6-2-7 15-6 13-7 12-6 16-7 2-6 6-7 4-6-1-7 11-7 7-6 2-7 7-6 0-7 2-6 4-7-15-6-3-7-4-6-20-7 0-7-9-6 6-7-16-6-23-7-11-6 13-7 5-6-5-7-2-6 4-7 10-7-1-6-3-7 33-6-24-7 2-6 4-7 13-6-1-7-9-6-12-7 6-7-1-6-4-7 39-6-43-7 0-6-2-7-7-6 0-7-13-6-13-7-8-7-25-6-19-7-10-6 5-7 9-6 35-7-23-6-3-7 6-6 2-7-12-6-15-7 3-7 7-6 34-7-49-6 4-7 5-6-14-7-11-6-10-7 5-6-33-7-10-7-8-6-15-7 0-6-4-7-6-6-7-7 2-6 8-7 8-6-7-7 14-7-15-6 2-7 14-6-17-7-4-6-6-7-2-6-15-7-12-6 8-7-10-7-14-6-11-7-3-6-8-7-10-6-7-7-4-6-7-7-6-6-4-7-6-7-4-6-2-7-6-6-1-7 1-6 2-7-3-6 8-7 3-6-5-7-3-7-3-6 3-7 11-6 0-7 4-6 2-7-9-6 6-7 4-6 1-7-5-6 5-7 5-7 3-6-7-7 2-6 6-7 8-6 15-7 4-6-2-7 1-6 19-7 6-7-5-6-10-7-1-6-2-7-5-6-17-7-4-6 0-7-2-6 2-7-5-7-5-6 1-7-8-6 0-7 3-6-2-7 7-6 3-7-4-6-24-7-8-7-1-6 2-7-4-6-13-7-8-6 9-7-1-6 2-7 3-6-1-7-3-7-5-6-5-7-4-6-7-7-2-6 2-7-8-6-7-7-3-6 4-7-8-7-4-6-2-7-6-6 1-7 1-6 0-7-5-6 3-7 0-6-5-7-4-6-3-7-3-7-1-6-6-7-2-6-1-7 1-6-2-7-1-6 0-7 1-6 1-7 1-7-1-6-1-7-1-6-2-7-3-6-1-7-2-6-2-7-2-6-1-7 0-7 0-6 0-7 0-6 0-7-1-6 0-7-1-6-2-7-2-6-2-7-3-7-3-6-2-7-3-6-2-7-1-6-1-7-1-6 0-7 0-6 1-7 1-7 0-6 1-7 0-6 0-7 0-6-1-7 0-6-1-7 0-6 0-7 0-6 1-7 1-7 1-6 1-7 2-6 1-7 1-6 0-7 0-6 0-7-1-6-2-7-2-7-3-6-2-7-3-6-2-7-2-6-2-7-1-6-1-7 0-6-1-7-1-7 0-6-1-7-1-6-1-7-1-6-2-7-1-6-2-7-1-6-1-7 0-7 0-6 0-7 2-6 1-7 2-6 1-7 2-6 1-7 1-6 1-7 0-7-1-6-1-7-1-6-1-7-2-6-1-7-1-6 0-7-1-6 0-7 0-7-1-6 0-7 0-6-1-7-2-6-2-7-2-6-2-7-3-6-3-7-2-6-2-7-2-7-1-6-1-7 0-6-1-7 0-6 1-7 0-6 0-7 0-6 1-7 1-7 0-6 1-7 0-6 0z"/>
<path fill="url(#g24)" stroke="url(#g24)" d="M3178 1361l6 42 7 46 7 42 6 11-37 80-7-56-6-13-7-26-6-32z"/>
<path class="ln" d="M510 853l6 0 7 0 6-1 7 0 7-1 6-1 7 0 6 0 7 0 6-1 7 0 6 1 7 0 6 1 7 1 7 2 6 2 7 2 6 3 7 3 6 2 7 2 6 2 7 2 6 1 7 0 6 0 7 1 7 0 6 0 7 1 6 0 7 1 6 1 7 2 6 1 7 1 6 1 7 1 7 0 6-1 7-1 6-1 7-2 6-1 7-2 6-1 7-2 6 0 7 0 7 0 6 1 7 1 6 2 7 1 6 2 7 1 6 1 7 1 6 1 7 0 7 1 6 1 7 0 6 1 7 1 6 2 7 2 6 2 7 3 6 2 7 3 7 2 6 2 7 1 6 0 7 0 6 0 7-1 6-1 7-2 6-1 7-1 7-1 6-1 7 0 6 0 7 0 6 1 7 0 6 1 7 0 6 0 7 0 6-1 7 0 7-1 6-1 7 0 6 0 7 1 6 1 7 1 6 2 7 3 6 2 7 3 7 3 6 2 7 2 6 2 7 1 6 0 7 1 6 0 7 0 6 0 7 0 7 0 6 1 7 2 6 2 7 2 6 1 7 3 6 2 7 1 6 1 7 1 7-1 6-1 7-1 6 0 7 1 6 2 7-1 6 1 7 2 6 6 7 1 7 3 6 3 7 4 6 5 7 0 6-3 7 5 6 0 7-1 6-1 7 6 6 2 7 4 7 8 6-4 7 3 6 7 7 8 6-2 7 2 6 7 7 4 6 5 7 5 7 3 6 1 7-3 6-2 7 1 6-9 7 8 6 13 7 4 6-2 7 1 7 8 6 24 7 4 6-3 7-7 6 2 7-3 6 0 7 8 6-1 7 5 7 5 6-2 7 2 6 0 7 4 6 17 7 5 6 2 7 1 6 10 7 5 7-6 6-19 7-1 6 2 7-4 6-15 7-8 6-6 7-2 6 7 7-3 7-5 6-5 7 5 6-1 7-4 6-6 7 9 6-2 7-4 6 0 7-11 6-3 7 3 7 3 6 5 7-3 6-8 7 3 6-2 7-1 6 1 7 6 6 2 7 4 7 6 6 4 7 6 6 7 7 4 6 7 7 10 6 8 7 3 6 11 7 14 7 10 6-8 7 12 6 15 7 2 6 6 7 4 6 17 7-14 6-2 7 15 7-14 6 7 7-8 6-8 7-2 6 7 7 6 6 4 7 0 6 15 7 8 7 10 6 33 7-5 6 10 7 11 6 14 7-5 6-4 7 49 6-34 7-7 7-3 6 15 7 12 6-2 7-6 6 3 7 23 6-35 7-9 6-5 7 10 6 19 7 25 7 8 6 13 7 13 6 0 7 7 6 2 7 0 6 43 7-39 6 4 7 1 7-6 6 12 7 9 6 1 7-13 6-4 7-2 6 24 7-33 6 3 7 1 7-10 6-4 7 2 6 5 7-5 6-13 7 11 6 23 7 16 6-6 7 9 7 0 6 20 7 4 6 3 7 15 6-4 7-2 6 0 7-7 6-2 7-7 7-11 6 1 7-4 6-6 7-2 6-16 7-12 6-13 7-15 6 2 7-11 7-19 6-14 7-5 6-8 7-11 6-8 7 21 6 23 7 16 6 17 7 14 6 14 7 16 7-14 6-2 7 4 6 10 7 29 6-55 7-4 6-2 7 2 6-1 7-6 7 13 6 7 7-45 6-14 7-11 6-10 7 28 6-40 7-17 6-15 7-10 7 7 6-11 7-12 6-6 7-2 6-12 7-1 6 15 7 10 6 6 7 7 7 17 6-2 7 0 6 4 7 2 6 7 7 22 6 29 7 36 6 43 7 80 7-11 6 32 7 26 6 13 7 56 6-24 7-4 6 11 7 10 6 43 7 34 7 53 6-30 7 50 6 1 7 7 6 22 7 12"/>
<path fill="url(#g25)" stroke="url(#g25)" d="M510 853l6 0 7 0 6-1 7 0 7-1 6-1 7 0 6 0 7 0 6-1 7 0 6 1 7 0 6 1 7 1 7 2 6 2 7 2 6 3 7 3 6 2 7 2 6 2 7 2 6 1 7 0 6 0 7 1 7 0 6 0 7 1 6 0 7 1 6 1 7 2 6 1 7 1 6 1 7 1 7 0 6-1 7-1 6-1 7-2 6-1 7-2 6-1 7-2 6 0 7 0 7 0 6 1 7 1 6 2 7 1 6 2 7 1 6 1 7 1 6 1 7 0 7 1 6 1 7 0 6 1 7 1 6 2 7 2 6 2 7 3 6 2 7 3 7 2 6 2 7 1 6 0 7 0 6 0 7-1 6-1 7-2 6-1 7-1 7-1 6-1 7 0 6 0 7 0 6 1 7 0 6 1 7 0 6 0 7 0 6-1 7 0 7-1 6-1 7 0 6 0 7 1 6 1 7 1 6 2 7 3 6 2 7 3 7 3 6 2 7 2 6 2 7 1 6 0 7 1 6 0 7 0 6 0 7 0 7 0 6 1 7 2 6 2 7 2 6 1 7 3 6 2 7 1 6 1 7 1 7-1 6-1 7-1 6 0 7 1 6 2 7-1 6 1 7 2 6 6 7 1 7 3 6 3 7 4 6 5 7 0 6-3 7 5 6 0 7-1 6-1 7 6 6 2 7 4 7 8 6-4 7 3 6 7 7 8 6-2 7 2 6 7 7 4 6 5 7 5 7 3 6 1 7-3 6-2 7 1 6-9 7 8 6 13 7 4 6-2 7 1 7 8 6 24 7 4 6-3 7-7 6 2 7-3 6 0 7 8 6-1 7 5 7 5 6-2 7 2 6 0 7 4 6 17 7 5 6 2 7 1 6 10 7 5 7-6 6-19 7-1 6 2 7-4 6-15 7-8 6-6 7-2 6 7 7-3 7-5 6-5 7 5 6-1 7-4 6-6 7 9 6-2 7-4 6 0 7-11 6-3 7 3 7 3 6 5 7-3 6-8 7 3 6-2 7-1 6 1 7 6 6 2 7 4 7 6 6 4 7 6 6 7 7 4 6 7 7 10 6 8 7 3 6 11 7 14 7 10 6-8 7 12 6 15 7 2 6 6 7 4 6 17 7-14 6-2 7 15 7-14 6 7 7-8 6-8 7-2 6 7 7 6 6 4 7 0 6 15 7 8 7 10 6 33 7-5 6 10 7 11 6 14 7-5 6-4 7 49 6-34 7-7 7-3 6 15 7 12 6-2 7-6 6 3 7 23 6-35 7-9 6-5 7 10 6 19 7 25 7 8 6 13 7 13 6 0 7 7 6 2 7 0 6 43 7-39 6 4 7 1 7-6 6 12 7 9 6 1 7-13 6-4 7-2 6 24 7-33 6 3 7 1 7-10 6-4 7 2 6 5 7-5 6-13 7 11 6 23 7 16 6-6 7 9 7 0 6 20 7 4 6 3 7 15 6-4 7-2 6 0 7-7 6-2 7-7 7-11 6 1 7-4 6-6 7-2 6-16 7-12 6-13 7-15 6 2 7-11 7-19 6-14 7-5 6-8 7-11 6-8 7 21 6 23 7 16 6 17 7 14 6 14 7 16 7-14 6-2 7 4 6 10 7 29 6-55 7-4 6-2 7 2 6-1 7-6 7 13 6 7 7-45 6-14 7-11 6-10 7 28 6-40 7-17 6-15 7-10 7 7 6-11 7-12 6-6 7-2 6-12 7-1 6 15 7 10 6 6 7 7 7 17 6-2 7 0 6 4 7 2 6 7 7 22 6 29 7 36 6 43 7 80 7-11 6 32 7 26 6 13 7 56 6-24 7-4 6 11 7 10 6 43 7 34 7 53 6-30 7 50 6 1 7 7 6 22 7 12-38 34-6-31-7-22-6-19-7-66-6 31-7-54-6 34-7-1-7-27-6-26-7 15-6-11-7-11-6-7-7-14-6-19-7-32-6-28-7-23-7-30-6-33-7-51-6-26-7 3-6-8-7-2-6 1-7 12-6 6-7-5-6 2-7 17-7-3-6 45-7-32-6 2-7 19-6 5-7-4-6-2-7 16-6 13-7 6-7-6-6 16-7 13-6-1-7 4-6-1-7 1-6 8-7-9-6 0-7 6-7 5-6-10-7-8-6-1-7-4-6 4-7 3-6 1-7 7-6-46-7 2-7-31-6 5-7 9-6 47-7-22-6 31-7-10-6 54-7-39-6 21-7 21-7 10-6 6-7 15-6 2-7 13-6-25-7-13-6-14-7-23-6-28-7-38-7 1-6-7-7 21-6 21-7 10-6 7-7 17-6 18-7 8-6-1-7 11-6 40-7-35-7-4-6-12-7-10-6-14-7-14-6-9-7-6-6-8-7-6-6-11-7-18-7-13-6 12-7 10-6-4-7 21-6 10-7-2-6 8-7-5-6-10-7-12-7 6-6-2-7-2-6 0-7-7-6-2-7-4-6-18-7-1-6 33-7-46-7 0-6 56-7-63-6-1-7-8-6-24-7-18-6 20-7-26-6-12-7-22-7-43-6 9-7 2-6-2-7 32-6 20-7-7-6-34-7 10-6-11-7-11-7 1-6-9-7-6-6-4-7-5-6-3-7 7-6 9-7-14-6 3-7 12-6 14-7-19-7-6-6-1-7-31-6-1-7-10-6-7-7-1-6-13-7-10-6-11-7-8-7-6-6-8-7-4-6 6-7-1-6 0-7 5-6 6-7 1-6-3-7-11-7-5-6-16-7-15-6 16-7 1-6 5-7 12-6 3-7-3-6 4-7 14-7-5-6-4-7-5-6-10-7-16-6-10-7-2-6 12-7 3-6 1-7 2-7 4-6 18-7 9-6-9-7 1-6-5-7-4-6 5-7-3-6-4-7 0-7 13-6 4-7 2-6 3-7 8-6-4-7-5-6 0-7-6-6-8-7-4-6 8-7-8-7-10-6-10-7-8-6 1-7 1-6-1-7-11-6-5-7-7-6-9-7-5-7 5-6 2-7-7-6 4-7 5-6 3-7 3-6 0-7-5-6-9-7-2-7-10-6-2-7 7-6-7-7-2-6-3-7-8-6 1-7-5-6-6-7 2-7-3-6-4-7-5-6-8-7-9-6-5-7-1-6-2-7-2-6-1-7 1-7-5-6-1-7 1-6 0-7 0-6 0-7 0-6-1-7 1-6 0-7-1-7 0-6-1-7-2-6-1-7-2-6-2-7-3-6-2-7 0-6 0-7-1-6 0-7 0-7 0-6-1-7-1-6-1-7-2-6-2-7-3-6-3-7-3-6-2-7-3-7-2-6-2-7-1-6 0-7 0-6 0-7 1-6 0-7 1-6 0-7 0-7 0-6 0-7-1-6 0-7-1-6 0-7 0-6 0-7 1-6 1-7 1-7 1-6 2-7 1-6 1-7 0-6 0-7-1-6-1-7-2-6-3-7-2-7-3-6-3-7-2-6-2-7-2-6-1-7-1-6-1-7 0-6-1-7-1-6-1-7-1-7-1-6-2-7-1-6-2-7-1-6-1-7-1-6 0-7 0-6 1-7 1-7 1-6 2-7 1-6 2-7 1-6 1-7 0-6 0-7-1-6-1-7-1-7-2-6-1-7-1-6-1-7-1-6 0-7 0-6-1-7 0-6 0-7-1-7-1-6-2-7-2-6-3-7-3-6-3-7-2-6-3-7-2-6-2-7-1-7 0-6-1-7 0-6-1-7 1-6 0-7 0-6-1-7 0-6 1-7 0-7 0-6 0-7 1z"/>
<path fill="url(#g26)" stroke="url(#g26)" d="M3206 1652l7 53 6-30 7 50 6 1-37 3-7-66-6 31-7-54-6 34z"/>
<path class="ln" d="M472 886l7-1 6 0 7 0 7 0 6-1 7 0 6 1 7 0 6 0 7-1 6 1 7 0 6 1 7 0 7 1 6 2 7 2 6 3 7 2 6 3 7 3 6 3 7 2 6 2 7 1 7 1 6 0 7 0 6 1 7 0 6 0 7 1 6 1 7 1 6 1 7 2 7 1 6 1 7 1 6 0 7 0 6-1 7-1 6-2 7-1 6-2 7-1 7-1 6-1 7 0 6 0 7 1 6 1 7 1 6 2 7 1 6 2 7 1 7 1 6 1 7 1 6 1 7 0 6 1 7 1 6 1 7 2 6 2 7 2 6 3 7 3 7 2 6 3 7 2 6 1 7 1 6 0 7 0 6-1 7-1 6-2 7-1 7-1 6-1 7-1 6 0 7 0 6 0 7 1 6 0 7 1 6 0 7 0 7 0 6 0 7-1 6 0 7-1 6 0 7 0 6 0 7 1 6 2 7 2 7 3 6 2 7 3 6 3 7 3 6 2 7 2 6 1 7 1 6 1 7 0 7 0 6 0 7 1 6 0 7 0 6 2 7 3 6 2 7 2 6 1 7 2 6 1 7 0 7 1 6 0 7-1 6 1 7 0 6 0 7 0 6 0 7-1 6 1 7 5 7-1 6 1 7 2 6 2 7 1 6 5 7 9 6 8 7 5 6 4 7 3 7-2 6 6 7 5 6-1 7 8 6 3 7 2 6 7 7-7 6 2 7 10 7 2 6 9 7 5 6 0 7-3 6-3 7-5 6-4 7 7 6-2 7-5 7 5 6 9 7 7 6 5 7 11 6 1 7-1 6-1 7 8 6 10 7 10 7 8 6-8 7 4 6 8 7 6 6 0 7 5 6 4 7-8 6-3 7-2 6-4 7-13 7 0 6 4 7 3 6-5 7 4 6 5 7-1 6 9 7-9 6-18 7-4 7-2 6-1 7-3 6-12 7 2 6 10 7 16 6 10 7 5 6 4 7 5 7-14 6-4 7 3 6-3 7-12 6-5 7-1 6-16 7 15 6 16 7 5 7 11 6 3 7-1 6-6 7-5 6 0 7 1 6-6 7 4 6 8 7 6 7 8 6 11 7 10 6 13 7 1 6 7 7 10 6 1 7 31 6 1 7 6 7 19 6-14 7-12 6-3 7 14 6-9 7-7 6 3 7 5 6 4 7 6 6 9 7-1 7 11 6 11 7-10 6 34 7 7 6-20 7-32 6 2 7-2 6-9 7 43 7 22 6 12 7 26 6-20 7 18 6 24 7 8 6 1 7 63 6-56 7 0 7 46 6-33 7 1 6 18 7 4 6 2 7 7 6 0 7 2 6 2 7-6 7 12 6 10 7 5 6-8 7 2 6-10 7-21 6 4 7-10 6-12 7 13 7 18 6 11 7 6 6 8 7 6 6 9 7 14 6 14 7 10 6 12 7 4 7 35 6-40 7-11 6 1 7-8 6-18 7-17 6-7 7-10 6-21 7-21 6 7 7-1 7 38 6 28 7 23 6 14 7 13 6 25 7-13 6-2 7-15 6-6 7-10 7-21 6-21 7 39 6-54 7 10 6-31 7 22 6-47 7-9 6-5 7 31 7-2 6 46 7-7 6-1 7-3 6-4 7 4 6 1 7 8 6 10 7-5 7-6 6 0 7 9 6-8 7-1 6 1 7-4 6 1 7-13 6-16 7 6 7-6 6-13 7-16 6 2 7 4 6-5 7-19 6-2 7 32 6-45 7 3 7-17 6-2 7 5 6-6 7-12 6-1 7 2 6 8 7-3 6 26 7 51 6 33 7 30 7 23 6 28 7 32 6 19 7 14 6 7 7 11 6 11 7-15 6 26 7 27 7 1 6-34 7 54 6-31 7 66 6 19 7 22 6 31"/>
<path fill="url(#g27)" stroke="url(#g27)" d="M472 886l7-1 6 0 7 0 7 0 6-1 7 0 6 1 7 0 6 0 7-1 6 1 7 0 6 1 7 0 7 1 6 2 7 2 6 3 7 2 6 3 7 3 6 3 7 2 6 2 7 1 7 1 6 0 7 0 6 1 7 0 6 0 7 1 6 1 7 1 6 1 7 2 7 1 6 1 7 1 6 0 7 0 6-1 7-1 6-2 7-1 6-2 7-1 7-1 6-1 7 0 6 0 7 1 6 1 7 1 6 2 7 1 6 2 7 1 7 1 6 1 7 1 6 1 7 0 6 1 7 1 6 1 7 2 6 2 7 2 6 3 7 3 7 2 6 3 7 2 6 1 7 1 6 0 7 0 6-1 7-1 6-2 7-1 7-1 6-1 7-1 6 0 7 0 6 0 7 1 6 0 7 1 6 0 7 0 7 0 6 0 7-1 6 0 7-1 6 0 7 0 6 0 7 1 6 2 7 2 7 3 6 2 7 3 6 3 7 3 6 2 7 2 6 1 7 1 6 1 7 0 7 0 6 0 7 1 6 0 7 0 6 2 7 3 6 2 7 2 6 1 7 2 6 1 7 0 7 1 6 0 7-1 6 1 7 0 6 0 7 0 6 0 7-1 6 1 7 5 7-1 6 1 7 2 6 2 7 1 6 5 7 9 6 8 7 5 6 4 7 3 7-2 6 6 7 5 6-1 7 8 6 3 7 2 6 7 7-7 6 2 7 10 7 2 6 9 7 5 6 0 7-3 6-3 7-5 6-4 7 7 6-2 7-5 7 5 6 9 7 7 6 5 7 11 6 1 7-1 6-1 7 8 6 10 7 10 7 8 6-8 7 4 6 8 7 6 6 0 7 5 6 4 7-8 6-3 7-2 6-4 7-13 7 0 6 4 7 3 6-5 7 4 6 5 7-1 6 9 7-9 6-18 7-4 7-2 6-1 7-3 6-12 7 2 6 10 7 16 6 10 7 5 6 4 7 5 7-14 6-4 7 3 6-3 7-12 6-5 7-1 6-16 7 15 6 16 7 5 7 11 6 3 7-1 6-6 7-5 6 0 7 1 6-6 7 4 6 8 7 6 7 8 6 11 7 10 6 13 7 1 6 7 7 10 6 1 7 31 6 1 7 6 7 19 6-14 7-12 6-3 7 14 6-9 7-7 6 3 7 5 6 4 7 6 6 9 7-1 7 11 6 11 7-10 6 34 7 7 6-20 7-32 6 2 7-2 6-9 7 43 7 22 6 12 7 26 6-20 7 18 6 24 7 8 6 1 7 63 6-56 7 0 7 46 6-33 7 1 6 18 7 4 6 2 7 7 6 0 7 2 6 2 7-6 7 12 6 10 7 5 6-8 7 2 6-10 7-21 6 4 7-10 6-12 7 13 7 18 6 11 7 6 6 8 7 6 6 9 7 14 6 14 7 10 6 12 7 4 7 35 6-40 7-11 6 1 7-8 6-18 7-17 6-7 7-10 6-21 7-21 6 7 7-1 7 38 6 28 7 23 6 14 7 13 6 25 7-13 6-2 7-15 6-6 7-10 7-21 6-21 7 39 6-54 7 10 6-31 7 22 6-47 7-9 6-5 7 31 7-2 6 46 7-7 6-1 7-3 6-4 7 4 6 1 7 8 6 10 7-5 7-6 6 0 7 9 6-8 7-1 6 1 7-4 6 1 7-13 6-16 7 6 7-6 6-13 7-16 6 2 7 4 6-5 7-19 6-2 7 32 6-45 7 3 7-17 6-2 7 5 6-6 7-12 6-1 7 2 6 8 7-3 6 26 7 51 6 33 7 30 7 23 6 28 7 32 6 19 7 14 6 7 7 11 6 11 7-15 6 26 7 27 7 1 6-34 7 54 6-31 7 66 6 19 7 22 6 31-37 33-7-21-6-31-7-26-6 4-7-63-6-34-7 8-6-11-7 21-6 21-7-28-7-38-6 11-7-32-6 22-7 29-6-75-7-6-6-5-7-11-6-10-7-19-7 3-6 21-7 40-6-43-7 4-6-7-7-6-6-1-7 2-6 8-7-1-7 60-6-74-7-24-6 21-7 4-6-14-7-16-6 5-7 11-6 0-7 2-7 14-6 17-7 10-6 2-7 15-6-6-7-4-6 10-7-7-6 2-7 10-7-6-6-7-7 2-6-34-7-21-6-17-7-18-6-9-7-32-6 9-7 5-6 18-7 17-7 18-6 27-7 13-6 9-7 1-6-11-7 8-6 8-7 11-6 9-7-2-7-7-6 20-7-1-6 18-7 0-6-35-7 23-6-8-7-1-6-24-7-3-7 7-6-11-7-29-6 64-7-43-6-21-7 3-6 5-7 0-6-1-7-1-7 8-6 17-7-25-6 6-7 22-6-19-7 23-6 7-7-7-6 8-7 13-7-25-6-9-7-23-6-37-7-35-6-34-7-35-6 12-7 9-6 5-7 20-6 17-7 14-7 9-6 6-7-4-6-14-7-22-6-4-7-2-6-7-7-16-6 61-7-82-7-1-6 15-7-25-6-55-7 9-6-9-7 0-6 6-7 9-6-6-7-10-7-6-6 20-7-4-6-6-7 1-6 21-7 3-6-3-7-3-6 26-7-50-7-1-6-1-7 4-6 8-7 2-6-30-7 8-6-2-7-20-6-4-7-3-7-6-6-9-7 4-6 8-7 3-6-8-7-16-6-8-7-8-6-33-7-9-7 3-6 7-7-16-6-1-7 1-6-2-7-15-6-6-7 0-6-2-7 4-6-3-7-9-7-9-6 5-7 0-6-3-7 17-6-5-7-12-6-14-7-1-6 8-7 9-7 0-6 1-7-6-6-10-7 0-6 7-7 5-6 5-7 14-6-1-7-2-7 1-6 3-7 8-6 4-7-7-6-1-7-6-6-4-7 9-6-15-7-4-7 8-6 1-7-14-6-8-7 5-6 2-7 2-6-2-7-9-6 10-7 8-7 1-6-14-7 0-6-4-7-7-6 0-7-5-6-6-7-3-6 1-7-7-7-8-6-1-7-5-6-2-7-2-6-9-7-3-6-1-7 0-6 4-7 0-6-3-7-5-7 8-6-6-7-8-6-1-7-6-6-5-7-3-6 7-7-7-6-5-7-3-7-2-6-1-7-3-6-5-7-8-6-2-7 0-6 1-7-2-6-1-7-1-7-2-6 1-7 0-6 0-7-1-6-1-7-1-6-3-7-2-6-1-7-2-7-3-6-3-7-2-6-3-7-3-6 0-7-1-6 0-7 0-6 0-7-1-7-1-6-1-7-2-6-2-7-3-6-2-7-3-6-3-7-3-6-3-7-2-7-1-6-1-7-1-6 0-7 0-6 0-7 1-6 0-7 0-6 0-7-1-6 0-7 0-7 0-6-1-7 0-6 0-7 1-6 1-7 1-6 1-7 2-6 1-7 1-7 1-6 0-7 0-6-1-7-1-6-3-7-3-6-3-7-3-6-3-7-2-7-3-6-2-7-1-6-1-7-1-6-1-7-1-6-2-7-1-6-1-7-2-7-1-6-2-7-2-6-1-7-1-6-1-7 0-6 0-7 1-6 1-7 1-7 2-6 1-7 2-6 0-7 1-6 0-7-1-6-1-7-1-6-2-7-1-7-2-6-1-7-1-6-1-7 0-6-1-7 0-6-1-7 0-6-2-7-1-6-2-7-3-7-3-6-3-7-4-6-3-7-2-6-3-7-2-6-1-7-1-6-1-7 0-7 0-6-1-7 0-6 0-7-1-6 0-7 0-6-1-7 0-6 0-7 0z"/>
<path fill="url(#g28)" stroke="url(#g28)" d="M3175 1640l7 54 6-31 7 66-38 27-6 4-7-63-6-34z"/>
<path class="ln" d="M435 918l7 0 6 0 7 0 6 1 7 0 6 0 7 1 6 0 7 0 6 1 7 0 7 0 6 1 7 1 6 1 7 2 6 3 7 2 6 3 7 4 6 3 7 3 7 3 6 2 7 1 6 2 7 0 6 1 7 0 6 1 7 0 6 1 7 1 6 1 7 2 7 1 6 2 7 1 6 1 7 1 6 0 7-1 6 0 7-2 6-1 7-2 7-1 6-1 7-1 6 0 7 0 6 1 7 1 6 1 7 2 6 2 7 1 7 2 6 1 7 1 6 2 7 1 6 1 7 1 6 1 7 1 6 2 7 3 7 2 6 3 7 3 6 3 7 3 6 3 7 1 6 1 7 0 6 0 7-1 7-1 6-1 7-2 6-1 7-1 6-1 7-1 6 0 7 0 6 1 7 0 7 0 6 0 7 1 6 0 7 0 6 0 7-1 6 0 7 0 6 0 7 1 6 1 7 1 7 2 6 3 7 3 6 3 7 3 6 2 7 3 6 2 7 2 6 1 7 1 7 1 6 0 7 0 6 0 7 1 6 0 7 3 6 3 7 2 6 3 7 3 7 2 6 1 7 2 6 3 7 1 6 1 7 1 6 0 7 0 6-1 7 2 7 1 6 1 7 2 6-1 7 0 6 2 7 8 6 5 7 3 6 1 7 2 7 3 6 5 7 7 6-7 7 3 6 5 7 6 6 1 7 8 6 6 7-8 7 5 6 3 7 0 6-4 7 0 6 1 7 3 6 9 7 2 6 2 7 5 6 1 7 8 7 7 6-1 7 3 6 6 7 5 6 0 7 7 6 4 7 0 6 14 7-1 7-8 6-10 7 9 6 2 7-2 6-2 7-5 6 8 7 14 6-1 7-8 7 4 6 15 7-9 6 4 7 6 6 1 7 7 6-4 7-8 6-3 7-1 7 2 6 1 7-14 6-5 7-5 6-7 7 0 6 10 7 6 6-1 7 0 7-9 6-8 7 1 6 14 7 12 6 5 7-17 6 3 7 0 6-5 7 9 7 9 6 3 7-4 6 2 7 0 6 6 7 15 6 2 7-1 6 1 7 16 6-7 7-3 7 9 6 33 7 8 6 8 7 16 6 8 7-3 6-8 7-4 6 9 7 6 7 3 6 4 7 20 6 2 7-8 6 30 7-2 6-8 7-4 6 1 7 1 7 50 6-26 7 3 6 3 7-3 6-21 7-1 6 6 7 4 6-20 7 6 7 10 6 6 7-9 6-6 7 0 6 9 7-9 6 55 7 25 6-15 7 1 7 82 6-61 7 16 6 7 7 2 6 4 7 22 6 14 7 4 6-6 7-9 7-14 6-17 7-20 6-5 7-9 6-12 7 35 6 34 7 35 6 37 7 23 6 9 7 25 7-13 6-8 7 7 6-7 7-23 6 19 7-22 6-6 7 25 6-17 7-8 7 1 6 1 7 0 6-5 7-3 6 21 7 43 6-64 7 29 6 11 7-7 7 3 6 24 7 1 6 8 7-23 6 35 7 0 6-18 7 1 6-20 7 7 7 2 6-9 7-11 6-8 7-8 6 11 7-1 6-9 7-13 6-27 7-18 7-17 6-18 7-5 6-9 7 32 6 9 7 18 6 17 7 21 6 34 7-2 6 7 7 6 7-10 6-2 7 7 6-10 7 4 6 6 7-15 6-2 7-10 6-17 7-14 7-2 6 0 7-11 6-5 7 16 6 14 7-4 6-21 7 24 6 74 7-60 7 1 6-8 7-2 6 1 7 6 6 7 7-4 6 43 7-40 6-21 7-3 7 19 6 10 7 11 6 5 7 6 6 75 7-29 6-22 7 32 6-11 7 38 7 28 6-21 7-21 6 11 7-8 6 34 7 63 6-4 7 26 6 31 7 21"/>
<path fill="url(#g29)" stroke="url(#g29)" d="M435 918l7 0 6 0 7 0 6 1 7 0 6 0 7 1 6 0 7 0 6 1 7 0 7 0 6 1 7 1 6 1 7 2 6 3 7 2 6 3 7 4 6 3 7 3 7 3 6 2 7 1 6 2 7 0 6 1 7 0 6 1 7 0 6 1 7 1 6 1 7 2 7 1 6 2 7 1 6 1 7 1 6 0 7-1 6 0 7-2 6-1 7-2 7-1 6-1 7-1 6 0 7 0 6 1 7 1 6 1 7 2 6 2 7 1 7 2 6 1 7 1 6 2 7 1 6 1 7 1 6 1 7 1 6 2 7 3 7 2 6 3 7 3 6 3 7 3 6 3 7 1 6 1 7 0 6 0 7-1 7-1 6-1 7-2 6-1 7-1 6-1 7-1 6 0 7 0 6 1 7 0 7 0 6 0 7 1 6 0 7 0 6 0 7-1 6 0 7 0 6 0 7 1 6 1 7 1 7 2 6 3 7 3 6 3 7 3 6 2 7 3 6 2 7 2 6 1 7 1 7 1 6 0 7 0 6 0 7 1 6 0 7 3 6 3 7 2 6 3 7 3 7 2 6 1 7 2 6 3 7 1 6 1 7 1 6 0 7 0 6-1 7 2 7 1 6 1 7 2 6-1 7 0 6 2 7 8 6 5 7 3 6 1 7 2 7 3 6 5 7 7 6-7 7 3 6 5 7 6 6 1 7 8 6 6 7-8 7 5 6 3 7 0 6-4 7 0 6 1 7 3 6 9 7 2 6 2 7 5 6 1 7 8 7 7 6-1 7 3 6 6 7 5 6 0 7 7 6 4 7 0 6 14 7-1 7-8 6-10 7 9 6 2 7-2 6-2 7-5 6 8 7 14 6-1 7-8 7 4 6 15 7-9 6 4 7 6 6 1 7 7 6-4 7-8 6-3 7-1 7 2 6 1 7-14 6-5 7-5 6-7 7 0 6 10 7 6 6-1 7 0 7-9 6-8 7 1 6 14 7 12 6 5 7-17 6 3 7 0 6-5 7 9 7 9 6 3 7-4 6 2 7 0 6 6 7 15 6 2 7-1 6 1 7 16 6-7 7-3 7 9 6 33 7 8 6 8 7 16 6 8 7-3 6-8 7-4 6 9 7 6 7 3 6 4 7 20 6 2 7-8 6 30 7-2 6-8 7-4 6 1 7 1 7 50 6-26 7 3 6 3 7-3 6-21 7-1 6 6 7 4 6-20 7 6 7 10 6 6 7-9 6-6 7 0 6 9 7-9 6 55 7 25 6-15 7 1 7 82 6-61 7 16 6 7 7 2 6 4 7 22 6 14 7 4 6-6 7-9 7-14 6-17 7-20 6-5 7-9 6-12 7 35 6 34 7 35 6 37 7 23 6 9 7 25 7-13 6-8 7 7 6-7 7-23 6 19 7-22 6-6 7 25 6-17 7-8 7 1 6 1 7 0 6-5 7-3 6 21 7 43 6-64 7 29 6 11 7-7 7 3 6 24 7 1 6 8 7-23 6 35 7 0 6-18 7 1 6-20 7 7 7 2 6-9 7-11 6-8 7-8 6 11 7-1 6-9 7-13 6-27 7-18 7-17 6-18 7-5 6-9 7 32 6 9 7 18 6 17 7 21 6 34 7-2 6 7 7 6 7-10 6-2 7 7 6-10 7 4 6 6 7-15 6-2 7-10 6-17 7-14 7-2 6 0 7-11 6-5 7 16 6 14 7-4 6-21 7 24 6 74 7-60 7 1 6-8 7-2 6 1 7 6 6 7 7-4 6 43 7-40 6-21 7-3 7 19 6 10 7 11 6 5 7 6 6 75 7-29 6-22 7 32 6-11 7 38 7 28 6-21 7-21 6 11 7-8 6 34 7 63 6-4 7 26 6 31 7 21-37 34-7-8-7-13-6-9-7 11-6 18-7-34-6-36-7-14-6 1-7-3-6 24-7-15-7-2-6-41-7-19-6 3-7-45-6-46-7 15-6 2-7 8-6-13-7 15-6-35-7 10-7 20-6 0-7 5-6 15-7-3-6 0-7-31-6 3-7-23-6-25-7 36-7-33-6 7-7-5-6 13-7 22-6 20-7 0-6 15-7 7-6 0-7-15-7 37-6-23-7 10-6 9-7-32-6 3-7-40-6 3-7-6-6-8-7-17-7-16-6-13-7-17-6-20-7 14-6 13-7 12-6 16-7 28-6-11-7 17-7 55-6-42-7 10-6 4-7-11-6 14-7 2-6 10-7-16-6 17-7 1-7 8-6 6-7 13-6 7-7 11-6 1-7-32-6 7-7 4-6-22-7-21-6 54-7-37-7-9-6-48-7-11-6-28-7-38-6 19-7 19-6 13-7 14-6 3-7-12-7 15-6 22-7 9-6 10-7 6-6-5-7-13-6 17-7-31-6 65-7-38-7 2-6-21-7-13-6 19-7-20-6-23-7-37-6-16-7-31-6-44-7-44-7 22-6 4-7 3-6 82-7-54-6-2-7 0-6 0-7 9-6 6-7 0-7 0-6-12-7-5-6 11-7 65-6-80-7 0-6 15-7-4-6-12-7-11-6 19-7-23-7-19-6-4-7 20-6-21-7-3-6-24-7 6-6-10-7-18-6-19-7 4-7 3-6-6-7-36-6-11-7 3-6 8-7 7-6-3-7-4-6 2-7 14-7-17-6-8-7 2-6-12-7 2-6 12-7 6-6-18-7-18-6-12-7-2-7-14-6-14-7-4-6 1-7-4-6-8-7-17-6 4-7-10-6-15-7 3-7 7-6 2-7-4-6-1-7 9-6 5-7-7-6 7-7 5-6 0-7-11-7 15-6-1-7-12-6-8-7 11-6 8-7 0-6 1-7-7-6 2-7 19-6 3-7 13-7 11-6-1-7-7-6-10-7-7-6 1-7-11-6-15-7-16-6-7-7 0-7 0-6 0-7 13-6 2-7-3-6-2-7 10-6 6-7 3-6 11-7 5-7 0-6-3-7-9-6-6-7-10-6-15-7-6-6-8-7-8-6-7-7 7-7 4-6 0-7-1-6-1-7-6-6-10-7-4-6-4-7-4-6-3-7-9-7 0-6 3-7 4-6-12-7-3-6 0-7-4-6 1-7-1-6-2-7 3-7-4-6-6-7-3-6-2-7-6-6-4-7 2-6-8-7-3-6-1-7 0-6 3-7 1-7-1-6 3-7-1-6 0-7 0-6-2-7-3-6-3-7-3-6-3-7-3-7-3-6-2-7 0-6-1-7-1-6 0-7-1-6 0-7-1-6-2-7-2-7-2-6-3-7-3-6-4-7-3-6-2-7-3-6-2-7-2-6-1-7 0-7 0-6 0-7 0-6 0-7 0-6 0-7-1-6 0-7 0-6 0-7 0-7 0-6 0-7 0-6 1-7 1-6 1-7 2-6 1-7 2-6 1-7 1-7 0-6 0-7-1-6-1-7-4-6-3-7-3-6-4-7-3-6-3-7-2-6-2-7-2-7-1-6-2-7-1-6-1-7-2-6-2-7-2-6-1-7-2-6-2-7-2-7-1-6-1-7-1-6 0-7 0-6 1-7 1-6 1-7 2-6 1-7 1-7 0-6 1-7-1-6-1-7-1-6-2-7-1-6-2-7-2-6-1-7-1-7-1-6-1-7-1-6 0-7-1-6-1-7-1-6-2-7-3-6-3-7-4-7-3-6-4-7-3-6-3-7-3-6-2-7-1-6-1-7-1-6-1-7-1-7 0-6-1-7-1-6-1-7-1-6 0-7-1-6-1-7 0-6-1z"/>
<path class="ln" d="M398 950l6 1 7 0 6 1 7 1 6 0 7 1 6 1 7 1 6 1 7 0 7 1 6 1 7 1 6 1 7 1 6 2 7 3 6 3 7 3 6 4 7 3 7 4 6 3 7 3 6 2 7 1 6 1 7 1 6 0 7 1 6 1 7 1 7 1 6 1 7 2 6 2 7 1 6 2 7 1 6 1 7 1 6-1 7 0 7-1 6-1 7-2 6-1 7-1 6-1 7 0 6 0 7 1 6 1 7 1 7 2 6 2 7 2 6 1 7 2 6 2 7 2 6 1 7 1 6 2 7 1 7 2 6 2 7 2 6 3 7 3 6 4 7 3 6 3 7 4 6 1 7 1 6 0 7 0 7-1 6-1 7-2 6-1 7-2 6-1 7-1 6-1 7 0 6 0 7 0 7 0 6 0 7 0 6 0 7 1 6 0 7 0 6 0 7 0 6 0 7 0 7 0 6 1 7 2 6 2 7 3 6 2 7 3 6 4 7 3 6 3 7 2 7 2 6 2 7 1 6 0 7 1 6 0 7 1 6 1 7 0 6 2 7 3 7 3 6 3 7 3 6 3 7 3 6 2 7 0 6 0 7 1 6-3 7 1 7-1 6-3 7 0 6 1 7 3 6 8 7-2 6 4 7 6 6 2 7 3 6 6 7 4 7-3 6 2 7 1 6-1 7 4 6 0 7 3 6 12 7-4 6-3 7 0 7 9 6 3 7 4 6 4 7 4 6 10 7 6 6 1 7 1 6 0 7-4 7-7 6 7 7 8 6 8 7 6 6 15 7 10 6 6 7 9 6 3 7 0 7-5 6-11 7-3 6-6 7-10 6 2 7 3 6-2 7-13 6 0 7 0 7 0 6 7 7 16 6 15 7 11 6-1 7 7 6 10 7 7 6 1 7-11 7-13 6-3 7-19 6-2 7 7 6-1 7 0 6-8 7-11 6 8 7 12 6 1 7-15 7 11 6 0 7-5 6-7 7 7 6-5 7-9 6 1 7 4 6-2 7-7 7-3 6 15 7 10 6-4 7 17 6 8 7 4 6-1 7 4 6 14 7 14 7 2 6 12 7 18 6 18 7-6 6-12 7-2 6 12 7-2 6 8 7 17 7-14 6-2 7 4 6 3 7-7 6-8 7-3 6 11 7 36 6 6 7-3 7-4 6 19 7 18 6 10 7-6 6 24 7 3 6 21 7-20 6 4 7 19 7 23 6-19 7 11 6 12 7 4 6-15 7 0 6 80 7-65 6-11 7 5 6 12 7 0 7 0 6-6 7-9 6 0 7 0 6 2 7 54 6-82 7-3 6-4 7-22 7 44 6 44 7 31 6 16 7 37 6 23 7 20 6-19 7 13 6 21 7-2 7 38 6-65 7 31 6-17 7 13 6 5 7-6 6-10 7-9 6-22 7-15 7 12 6-3 7-14 6-13 7-19 6-19 7 38 6 28 7 11 6 48 7 9 7 37 6-54 7 21 6 22 7-4 6-7 7 32 6-1 7-11 6-7 7-13 6-6 7-8 7-1 6-17 7 16 6-10 7-2 6-14 7 11 6-4 7-10 6 42 7-55 7-17 6 11 7-28 6-16 7-12 6-13 7-14 6 20 7 17 6 13 7 16 7 17 6 8 7 6 6-3 7 40 6-3 7 32 6-9 7-10 6 23 7-37 7 15 6 0 7-7 6-15 7 0 6-20 7-22 6-13 7 5 6-7 7 33 7-36 6 25 7 23 6-3 7 31 6 0 7 3 6-15 7-5 6 0 7-20 7-10 6 35 7-15 6 13 7-8 6-2 7-15 6 46 7 45 6-3 7 19 6 41 7 2 7 15 6-24 7 3 6-1 7 14 6 36 7 34 6-18 7-11 6 9 7 13 7 8"/>
<path fill="url(#g30)" stroke="url(#g30)" d="M398 950l6 1 7 0 6 1 7 1 6 0 7 1 6 1 7 1 6 1 7 0 7 1 6 1 7 1 6 1 7 1 6 2 7 3 6 3 7 3 6 4 7 3 7 4 6 3 7 3 6 2 7 1 6 1 7 1 6 0 7 1 6 1 7 1 7 1 6 1 7 2 6 2 7 1 6 2 7 1 6 1 7 1 6-1 7 0 7-1 6-1 7-2 6-1 7-1 6-1 7 0 6 0 7 1 6 1 7 1 7 2 6 2 7 2 6 1 7 2 6 2 7 2 6 1 7 1 6 2 7 1 7 2 6 2 7 2 6 3 7 3 6 4 7 3 6 3 7 4 6 1 7 1 6 0 7 0 7-1 6-1 7-2 6-1 7-2 6-1 7-1 6-1 7 0 6 0 7 0 7 0 6 0 7 0 6 0 7 1 6 0 7 0 6 0 7 0 6 0 7 0 7 0 6 1 7 2 6 2 7 3 6 2 7 3 6 4 7 3 6 3 7 2 7 2 6 2 7 1 6 0 7 1 6 0 7 1 6 1 7 0 6 2 7 3 7 3 6 3 7 3 6 3 7 3 6 2 7 0 6 0 7 1 6-3 7 1 7-1 6-3 7 0 6 1 7 3 6 8 7-2 6 4 7 6 6 2 7 3 6 6 7 4 7-3 6 2 7 1 6-1 7 4 6 0 7 3 6 12 7-4 6-3 7 0 7 9 6 3 7 4 6 4 7 4 6 10 7 6 6 1 7 1 6 0 7-4 7-7 6 7 7 8 6 8 7 6 6 15 7 10 6 6 7 9 6 3 7 0 7-5 6-11 7-3 6-6 7-10 6 2 7 3 6-2 7-13 6 0 7 0 7 0 6 7 7 16 6 15 7 11 6-1 7 7 6 10 7 7 6 1 7-11 7-13 6-3 7-19 6-2 7 7 6-1 7 0 6-8 7-11 6 8 7 12 6 1 7-15 7 11 6 0 7-5 6-7 7 7 6-5 7-9 6 1 7 4 6-2 7-7 7-3 6 15 7 10 6-4 7 17 6 8 7 4 6-1 7 4 6 14 7 14 7 2 6 12 7 18 6 18 7-6 6-12 7-2 6 12 7-2 6 8 7 17 7-14 6-2 7 4 6 3 7-7 6-8 7-3 6 11 7 36 6 6 7-3 7-4 6 19 7 18 6 10 7-6 6 24 7 3 6 21 7-20 6 4 7 19 7 23 6-19 7 11 6 12 7 4 6-15 7 0 6 80 7-65 6-11 7 5 6 12 7 0 7 0 6-6 7-9 6 0 7 0 6 2 7 54 6-82 7-3 6-4 7-22 7 44 6 44 7 31 6 16 7 37 6 23 7 20 6-19 7 13 6 21 7-2 7 38 6-65 7 31 6-17 7 13 6 5 7-6 6-10 7-9 6-22 7-15 7 12 6-3 7-14 6-13 7-19 6-19 7 38 6 28 7 11 6 48 7 9 7 37 6-54 7 21 6 22 7-4 6-7 7 32 6-1 7-11 6-7 7-13 6-6 7-8 7-1 6-17 7 16 6-10 7-2 6-14 7 11 6-4 7-10 6 42 7-55 7-17 6 11 7-28 6-16 7-12 6-13 7-14 6 20 7 17 6 13 7 16 7 17 6 8 7 6 6-3 7 40 6-3 7 32 6-9 7-10 6 23 7-37 7 15 6 0 7-7 6-15 7 0 6-20 7-22 6-13 7 5 6-7 7 33 7-36 6 25 7 23 6-3 7 31 6 0 7 3 6-15 7-5 6 0 7-20 7-10 6 35 7-15 6 13 7-8 6-2 7-15 6 46 7 45 6-3 7 19 6 41 7 2 7 15 6-24 7 3 6-1 7 14 6 36 7 34 6-18 7-11 6 9 7 13 7 8-38 32-6-17-7-19-6 16-7 9-7 5-6-60-7 15-6-62-7 38-6-11-7-5-6-9-7 37-6-9-7 8-7 1-6-4-7-10-6-36-7-30-6 1-7 0-6-6-7-6-6-29-7-24-7-17-6-28-7 3-6 2-7-1-6 21-7 5-6 15-7 1-6 18-7 27-7 4-6-32-7 38-6 18-7-3-6 10-7-14-6 13-7 29-6-2-7 9-6 16-7-19-7-28-6 45-7-6-6-13-7-11-6-45-7 9-6 5-7-35-6-25-7 18-7-1-6-14-7-22-6 8-7 2-6 9-7 12-6-8-7 35-6 6-7 2-7 50-6-72-7 27-6 3-7-32-6 17-7 37-6-44-7 62-6-3-7 7-7-8-6-6-7-13-6-2-7 37-6 13-7 14-6 34-7-65-6-26-7 3-7-56-6-25-7-7-6-24-7 90-6-107-7-27-6-36-7-22-6 7-7 18-7 16-6 9-7 14-6 7-7 13-6-4-7-13-6-18-7 4-6-6-7 3-6 8-7 72-7-56-6-24-7-9-6-2-7 61-6-63-7-7-6-18-7 67-6-93-7-7-7-4-6-20-7-1-6-2-7 6-6 8-7 6-6 3-7 67-6-86-7 4-7 16-6-18-7 48-6-55-7 40-6-59-7 6-6 8-7-5-6-1-7-1-7-11-6-18-7-6-6-10-7-23-6 2-7-4-6-9-7-12-6-32-7-1-7 39-6-29-7-2-6-6-7-9-6 17-7-14-6-2-7-6-6-9-7 5-7 7-6-4-7 10-6-15-7-18-6 9-7 1-6-4-7-12-6-30-7-5-6-7-7-21-7 3-6-12-7-10-6 5-7-2-6 3-7 11-6 20-7-6-6-8-7-5-7 0-6 3-7 2-6 1-7 29-6-10-7-14-6 18-7 2-6-10-7-13-7 7-6 8-7 1-6-3-7 10-6-15-7 0-6 30-7-21-6-8-7 4-7 17-6-15-7-14-6-13-7-14-6 4-7 2-6 1-7 10-6 4-7-3-7-9-6 3-7 1-6 3-7 5-6 5-7 0-6 0-7 9-6 2-7-4-6-7-7-8-7-3-6-1-7-2-6-30-7-5-6 4-7 3-6-7-7 3-6 4-7-11-7-1-6-8-7-10-6-2-7-6-6-5-7-2-6 2-7-5-6-5-7-2-7 2-6 4-7 1-6-11-7-1-6 5-7 6-6 1-7 1-6-2-7-4-7-4-6-7-7-5-6-2-7-7-6-4-7-1-6 0-7-1-6 0-7 0-7-5-6-2-7-1-6-2-7-4-6-4-7-2-6 0-7-5-6-3-7-3-7-2-6-1-7-1-6 0-7-1-6-1-7-1-6-1-7-2-6-3-7-3-6-3-7-3-7-3-6-4-7-2-6-3-7-2-6-1-7-1-6-1-7 0-6 0-7 1-7 0-6-1-7 0-6-1-7 0-6 1-7 0-6 0-7 0-6 0-7 1-7 1-6 1-7 2-6 2-7 2-6 1-7 1-6 1-7 1-6-1-7-1-7-1-6-3-7-4-6-4-7-3-6-4-7-3-6-2-7-3-6-1-7-2-7-2-6-1-7-2-6-2-7-2-6-2-7-2-6-2-7-2-6-2-7-2-7-1-6 0-7-1-6 1-7 0-6 1-7 2-6 1-7 1-6 0-7 1-6-1-7 0-7-2-6-1-7-2-6-2-7-2-6-2-7-1-6-1-7-1-6-1-7-1-7-1-6-1-7-1-6-2-7-2-6-3-7-4-6-3-7-4-6-4-7-3-7-3-6-3-7-2-6-2-7-1-6-1-7-1-6-1-7-1-6-1-7-1-7-1-6-2-7-1-6-2-7-1-6-2-7-1z"/>
<path fill="url(#g31)" stroke="url(#g31)" d="M2184 1483l7 4 6-15 7 0 6 80 7-65-38 57-6-18-7 48-6-55-7 40-6-59z"/>
<path fill="url(#g32)" stroke="url(#g32)" d="M2302 1449l6-4 7-22 7 44 6 44 7 31 6 16-37 49-7 61-6-63-7-7-6-18-7 67-6-93z"/>
<path class="ln" d="M360 982l7 1 6 2 7 1 6 2 7 1 6 2 7 1 7 1 6 1 7 1 6 1 7 1 6 1 7 1 6 2 7 2 6 3 7 3 7 3 6 4 7 4 6 3 7 4 6 3 7 2 6 2 7 1 6 1 7 1 7 1 6 1 7 1 6 1 7 1 6 2 7 2 6 2 7 2 6 1 7 2 7 0 6 1 7-1 6 0 7-1 6-1 7-2 6-1 7 0 6-1 7 1 6 0 7 1 7 2 6 2 7 2 6 2 7 2 6 2 7 2 6 2 7 2 6 1 7 2 7 2 6 1 7 3 6 2 7 3 6 4 7 3 6 4 7 4 6 3 7 1 7 1 6 1 7-1 6-1 7-1 6-1 7-2 6-2 7-2 6-1 7-1 7-1 6 0 7 0 6 0 7 0 6-1 7 0 6 1 7 0 6 1 7 0 7-1 6 0 7 0 6 1 7 1 6 1 7 2 6 3 7 2 6 4 7 3 7 3 6 3 7 3 6 3 7 2 6 1 7 1 6 1 7 1 6 0 7 1 6 1 7 2 7 3 6 3 7 5 6 0 7 2 6 4 7 4 6 2 7 1 6 2 7 5 7 0 6 0 7 1 6 0 7 1 6 4 7 7 6 2 7 5 6 7 7 4 7 4 6 2 7-1 6-1 7-6 6-5 7 1 6 11 7-1 6-4 7-2 7 2 6 5 7 5 6-2 7 2 6 5 7 6 6 2 7 10 6 8 7 1 7 11 6-4 7-3 6 7 7-3 6-4 7 5 6 30 7 2 6 1 7 3 7 8 6 7 7 4 6-2 7-9 6 0 7 0 6-5 7-5 6-3 7-1 6-3 7 9 7 3 6-4 7-10 6-1 7-2 6-4 7 14 6 13 7 14 6 15 7-17 7-4 6 8 7 21 6-30 7 0 6 15 7-10 6 3 7-1 6-8 7-7 7 13 6 10 7-2 6-18 7 14 6 10 7-29 6-1 7-2 6-3 7 0 7 5 6 8 7 6 6-20 7-11 6-3 7 2 6-5 7 10 6 12 7-3 7 21 6 7 7 5 6 30 7 12 6 4 7-1 6-9 7 18 6 15 7-10 6 4 7-7 7-5 6 9 7 6 6 2 7 14 6-17 7 9 6 6 7 2 6 29 7-39 7 1 6 32 7 12 6 9 7 4 6-2 7 23 6 10 7 6 6 18 7 11 7 1 6 1 7 5 6-8 7-6 6 59 7-40 6 55 7-48 6 18 7-16 7-4 6 86 7-67 6-3 7-6 6-8 7-6 6 2 7 1 6 20 7 4 7 7 6 93 7-67 6 18 7 7 6 63 7-61 6 2 7 9 6 24 7 56 7-72 6-8 7-3 6 6 7-4 6 18 7 13 6 4 7-13 6-7 7-14 6-9 7-16 7-18 6-7 7 22 6 36 7 27 6 107 7-90 6 24 7 7 6 25 7 56 7-3 6 26 7 65 6-34 7-14 6-13 7-37 6 2 7 13 6 6 7 8 7-7 6 3 7-62 6 44 7-37 6-17 7 32 6-3 7-27 6 72 7-50 7-2 6-6 7-35 6 8 7-12 6-9 7-2 6-8 7 22 6 14 7 1 7-18 6 25 7 35 6-5 7-9 6 45 7 11 6 13 7 6 6-45 7 28 7 19 6-16 7-9 6 2 7-29 6-13 7 14 6-10 7 3 6-18 7-38 6 32 7-4 7-27 6-18 7-1 6-15 7-5 6-21 7 1 6-2 7-3 6 28 7 17 7 24 6 29 7 6 6 6 7 0 6-1 7 30 6 36 7 10 6 4 7-1 7-8 6 9 7-37 6 9 7 5 6 11 7-38 6 62 7-15 6 60 7-5 7-9 6-16 7 19 6 17"/>
<path fill="url(#g33)" stroke="url(#g33)" d="M360 982l7 1 6 2 7 1 6 2 7 1 6 2 7 1 7 1 6 1 7 1 6 1 7 1 6 1 7 1 6 2 7 2 6 3 7 3 7 3 6 4 7 4 6 3 7 4 6 3 7 2 6 2 7 1 6 1 7 1 7 1 6 1 7 1 6 1 7 1 6 2 7 2 6 2 7 2 6 1 7 2 7 0 6 1 7-1 6 0 7-1 6-1 7-2 6-1 7 0 6-1 7 1 6 0 7 1 7 2 6 2 7 2 6 2 7 2 6 2 7 2 6 2 7 2 6 1 7 2 7 2 6 1 7 3 6 2 7 3 6 4 7 3 6 4 7 4 6 3 7 1 7 1 6 1 7-1 6-1 7-1 6-1 7-2 6-2 7-2 6-1 7-1 7-1 6 0 7 0 6 0 7 0 6-1 7 0 6 1 7 0 6 1 7 0 7-1 6 0 7 0 6 1 7 1 6 1 7 2 6 3 7 2 6 4 7 3 7 3 6 3 7 3 6 3 7 2 6 1 7 1 6 1 7 1 6 0 7 1 6 1 7 2 7 3 6 3 7 5 6 0 7 2 6 4 7 4 6 2 7 1 6 2 7 5 7 0 6 0 7 1 6 0 7 1 6 4 7 7 6 2 7 5 6 7 7 4 7 4 6 2 7-1 6-1 7-6 6-5 7 1 6 11 7-1 6-4 7-2 7 2 6 5 7 5 6-2 7 2 6 5 7 6 6 2 7 10 6 8 7 1 7 11 6-4 7-3 6 7 7-3 6-4 7 5 6 30 7 2 6 1 7 3 7 8 6 7 7 4 6-2 7-9 6 0 7 0 6-5 7-5 6-3 7-1 6-3 7 9 7 3 6-4 7-10 6-1 7-2 6-4 7 14 6 13 7 14 6 15 7-17 7-4 6 8 7 21 6-30 7 0 6 15 7-10 6 3 7-1 6-8 7-7 7 13 6 10 7-2 6-18 7 14 6 10 7-29 6-1 7-2 6-3 7 0 7 5 6 8 7 6 6-20 7-11 6-3 7 2 6-5 7 10 6 12 7-3 7 21 6 7 7 5 6 30 7 12 6 4 7-1 6-9 7 18 6 15 7-10 6 4 7-7 7-5 6 9 7 6 6 2 7 14 6-17 7 9 6 6 7 2 6 29 7-39 7 1 6 32 7 12 6 9 7 4 6-2 7 23 6 10 7 6 6 18 7 11 7 1 6 1 7 5 6-8 7-6 6 59 7-40 6 55 7-48 6 18 7-16 7-4 6 86 7-67 6-3 7-6 6-8 7-6 6 2 7 1 6 20 7 4 7 7 6 93 7-67 6 18 7 7 6 63 7-61 6 2 7 9 6 24 7 56 7-72 6-8 7-3 6 6 7-4 6 18 7 13 6 4 7-13 6-7 7-14 6-9 7-16 7-18 6-7 7 22 6 36 7 27 6 107 7-90 6 24 7 7 6 25 7 56 7-3 6 26 7 65 6-34 7-14 6-13 7-37 6 2 7 13 6 6 7 8 7-7 6 3 7-62 6 44 7-37 6-17 7 32 6-3 7-27 6 72 7-50 7-2 6-6 7-35 6 8 7-12 6-9 7-2 6-8 7 22 6 14 7 1 7-18 6 25 7 35 6-5 7-9 6 45 7 11 6 13 7 6 6-45 7 28 7 19 6-16 7-9 6 2 7-29 6-13 7 14 6-10 7 3 6-18 7-38 6 32 7-4 7-27 6-18 7-1 6-15 7-5 6-21 7 1 6-2 7-3 6 28 7 17 7 24 6 29 7 6 6 6 7 0 6-1 7 30 6 36 7 10 6 4 7-1 7-8 6 9 7-37 6 9 7 5 6 11 7-38 6 62 7-15 6 60 7-5 7-9 6-16 7 19 6 17-37 33-7-19-6-1-7 13-6 2-7-10-6-49-7-4-7-9-6-15-7-63-6 21-7-50-6 10-7-8-6 14-7-8-6 18-7 19-7-18-6 34-7 72-6-11-7-20-6 1-7 26-6 55-7-34-6-28-7 34-7-66-6 92-7-1-6-47-7-11-6 0-7-27-6-21-7-33-6-11-7-61-7-17-6 8-7 4-6 16-7 17-6-15-7 25-6-14-7 5-6 31-7-15-7 20-6 32-7-25-6 39-7 14-6 77-7-99-6 39-7 18-6-22-7 29-7-38-6 12-7-10-6 6-7-76-6-33-7-23-6 12-7 26-6 3-7-9-6 61-7 0-7-22-6-1-7 56-6 21-7 7-6-24-7-56-6 63-7-10-6-42-7 23-7-4-6 8-7 68-6-109-7 43-6-16-7 29-6-27-7 6-6-22-7-37-7 51-6-11-7 18-6-32-7-14-6 29-7-50-6 37-7 24-6-15-7-10-7-48-6 17-7-4-6-4-7-34-6-23-7 2-6 40-7-2-6-40-7-28-7-1-6 18-7-16-6 19-7-8-6-26-7-11-6-1-7-4-6 40-7-53-7-4-6-13-7-17-6 87-7-83-6-5-7 7-6-11-7-8-6-5-7-4-6-19-7 10-7 15-6-12-7 1-6-8-7-17-6-2-7-13-6-18-7-27-6-3-7 69-7-67-6-1-7-8-6-2-7-2-6-6-7 1-6-8-7-10-6-20-7-2-7-2-6-12-7-1-6 8-7-24-6 0-7 35-6-9-7-26-6-22-7 6-7-4-6-2-7-10-6-12-7-8-6-4-7-1-6-8-7 6-6 12-7-40-7-28-6-11-7 10-6 10-7 9-6-2-7-19-6 1-7 7-6 9-7-9-7 24-6 25-7 8-6-18-7-11-6-1-7 10-6 16-7 14-6 11-7 12-6-15-7-18-7 2-6 6-7-9-6-8-7 2-6 13-7 10-6-2-7-22-6 3-7-5-7-5-6 9-7-4-6 3-7 12-6 10-7 0-6-9-7-15-6-11-7-13-7-11-6-11-7 2-6 10-7 14-6 8-7 1-6 17-7 26-6-7-7-1-7-1-6-6-7-7-6-7-7-9-6-12-7-13-6 3-7 8-6-6-7-7-7-1-6 3-7 5-6 13-7 8-6-9-7-9-6-12-7-11-6-8-7-17-7-8-6-3-7-4-6 0-7 0-6 0-7 1-6-10-7-4-6 4-7 1-6 2-7 0-7-3-6-5-7-7-6-5-7 1-6-4-7-1-6-1-7-4-6-4-7-2-7-1-6-2-7-4-6-4-7-4-6-4-7-4-6-3-7-3-6-1-7-2-7-1-6 0-7-2-6-1-7-2-6-2-7-3-6-3-7-4-6-3-7-4-7-3-6-3-7-2-6-2-7-1-6-1-7 0-6 0-7 0-6 0-7 0-7 0-6-1-7-1-6 1-7 0-6 0-7 1-6 0-7 1-6 1-7 2-6 2-7 2-7 2-6 2-7 1-6 2-7 1-6 0-7 0-6-1-7-1-6-4-7-4-7-4-6-3-7-4-6-3-7-3-6-2-7-2-6-2-7-2-6-2-7-2-7-2-6-3-7-2-6-2-7-3-6-2-7-2-6-2-7-1-6-1-7 0-7 0-6 1-7 1-6 1-7 1-6 1-7 0-6 0-7-1-6-1-7-2-7-2-6-2-7-2-6-2-7-2-6-1-7-2-6-1-7-1-6-1-7-1-7-1-6-2-7-2-6-3-7-3-6-4-7-3-6-4-7-4-6-3-7-3-6-3-7-2-7-1-6-1-7-2-6-1-7-1-6-2-7-1-6-2-7-2-6-2-7-2-7-3-6-2-7-3-6-2z"/>
<path fill="url(#g34)" stroke="url(#g34)" d="M2147 1500l6 59 7-40 6 55 7-48-37 30-7 10-7 15-6-12-7 1z"/>
<path fill="url(#g35)" stroke="url(#g35)" d="M2448 1653l6 107 7-90 6 24-37 77-7 51-6-11-7 18z"/>
<path fill="url(#g36)" stroke="url(#g36)" d="M2500 1805l7 65 6-34 7-14 6-13-37 27-7 68-6-109-7 43-6-16z"/>
<path fill="url(#g37)" stroke="url(#g37)" d="M2559 1801l7-7 6 3 7-62 6 44-37 92-7 7-6-24-7-56-6 63z"/>
<path fill="url(#g38)" stroke="url(#g38)" d="M2723 1762l6-5 7-9 6 45-37 37-7 14-6 77-7-99z"/>
<path class="ln" d="M323 1014l6 2 7 3 6 2 7 3 7 2 6 2 7 2 6 2 7 1 6 2 7 1 6 1 7 2 6 1 7 1 7 2 6 3 7 3 6 3 7 4 6 4 7 3 6 4 7 3 6 3 7 2 6 2 7 1 7 1 6 1 7 1 6 1 7 2 6 1 7 2 6 2 7 2 6 2 7 2 7 2 6 1 7 1 6 0 7 0 6-1 7-1 6-1 7-1 6-1 7 0 7 0 6 1 7 1 6 2 7 2 6 2 7 3 6 2 7 2 6 3 7 2 7 2 6 2 7 2 6 2 7 2 6 2 7 3 6 3 7 4 6 3 7 4 7 4 6 4 7 1 6 1 7 0 6 0 7-1 6-2 7-1 6-2 7-2 7-2 6-2 7-2 6-1 7-1 6 0 7-1 6 0 7 0 6-1 7 1 6 1 7 0 7 0 6 0 7 0 6 0 7 0 6 1 7 1 6 2 7 2 6 3 7 3 7 4 6 3 7 4 6 3 7 3 6 2 7 2 6 1 7 2 6 0 7 1 7 2 6 1 7 3 6 3 7 4 6 4 7 4 6 4 7 4 6 2 7 1 7 2 6 4 7 4 6 1 7 1 6 4 7-1 6 5 7 7 6 5 7 3 7 0 6-2 7-1 6-4 7 4 6 10 7-1 6 0 7 0 6 0 7 4 6 3 7 8 7 17 6 8 7 11 6 12 7 9 6 9 7-8 6-13 7-5 6-3 7 1 7 7 6 6 7-8 6-3 7 13 6 12 7 9 6 7 7 7 6 6 7 1 7 1 6 7 7-26 6-17 7-1 6-8 7-14 6-10 7-2 6 11 7 11 7 13 6 11 7 15 6 9 7 0 6-10 7-12 6-3 7 4 6-9 7 5 7 5 6-3 7 22 6 2 7-10 6-13 7-2 6 8 7 9 6-6 7-2 7 18 6 15 7-12 6-11 7-14 6-16 7-10 6 1 7 11 6 18 7-8 6-25 7-24 7 9 6-9 7-7 6-1 7 19 6 2 7-9 6-10 7-10 6 11 7 28 7 40 6-12 7-6 6 8 7 1 6 4 7 8 6 12 7 10 6 2 7 4 7-6 6 22 7 26 6 9 7-35 6 0 7 24 6-8 7 1 6 12 7 2 7 2 6 20 7 10 6 8 7-1 6 6 7 2 6 2 7 8 6 1 7 67 7-69 6 3 7 27 6 18 7 13 6 2 7 17 6 8 7-1 6 12 7-15 7-10 6 19 7 4 6 5 7 8 6 11 7-7 6 5 7 83 6-87 7 17 6 13 7 4 7 53 6-40 7 4 6 1 7 11 6 26 7 8 6-19 7 16 6-18 7 1 7 28 6 40 7 2 6-40 7-2 6 23 7 34 6 4 7 4 6-17 7 48 7 10 6 15 7-24 6-37 7 50 6-29 7 14 6 32 7-18 6 11 7-51 7 37 6 22 7-6 6 27 7-29 6 16 7-43 6 109 7-68 6-8 7 4 7-23 6 42 7 10 6-63 7 56 6 24 7-7 6-21 7-56 6 1 7 22 7 0 6-61 7 9 6-3 7-26 6-12 7 23 6 33 7 76 6-6 7 10 6-12 7 38 7-29 6 22 7-18 6-39 7 99 6-77 7-14 6-39 7 25 6-32 7-20 7 15 6-31 7-5 6 14 7-25 6 15 7-17 6-16 7-4 6-8 7 17 7 61 6 11 7 33 6 21 7 27 6 0 7 11 6 47 7 1 6-92 7 66 7-34 6 28 7 34 6-55 7-26 6-1 7 20 6 11 7-72 6-34 7 18 7-19 6-18 7 8 6-14 7 8 6-10 7 50 6-21 7 63 6 15 7 9 7 4 6 49 7 10 6-2 7-13 6 1 7 19"/>
<path fill="url(#g39)" stroke="url(#g39)" d="M323 1014l6 2 7 3 6 2 7 3 7 2 6 2 7 2 6 2 7 1 6 2 7 1 6 1 7 2 6 1 7 1 7 2 6 3 7 3 6 3 7 4 6 4 7 3 6 4 7 3 6 3 7 2 6 2 7 1 7 1 6 1 7 1 6 1 7 2 6 1 7 2 6 2 7 2 6 2 7 2 7 2 6 1 7 1 6 0 7 0 6-1 7-1 6-1 7-1 6-1 7 0 7 0 6 1 7 1 6 2 7 2 6 2 7 3 6 2 7 2 6 3 7 2 7 2 6 2 7 2 6 2 7 2 6 2 7 3 6 3 7 4 6 3 7 4 7 4 6 4 7 1 6 1 7 0 6 0 7-1 6-2 7-1 6-2 7-2 7-2 6-2 7-2 6-1 7-1 6 0 7-1 6 0 7 0 6-1 7 1 6 1 7 0 7 0 6 0 7 0 6 0 7 0 6 1 7 1 6 2 7 2 6 3 7 3 7 4 6 3 7 4 6 3 7 3 6 2 7 2 6 1 7 2 6 0 7 1 7 2 6 1 7 3 6 3 7 4 6 4 7 4 6 4 7 4 6 2 7 1 7 2 6 4 7 4 6 1 7 1 6 4 7-1 6 5 7 7 6 5 7 3 7 0 6-2 7-1 6-4 7 4 6 10 7-1 6 0 7 0 6 0 7 4 6 3 7 8 7 17 6 8 7 11 6 12 7 9 6 9 7-8 6-13 7-5 6-3 7 1 7 7 6 6 7-8 6-3 7 13 6 12 7 9 6 7 7 7 6 6 7 1 7 1 6 7 7-26 6-17 7-1 6-8 7-14 6-10 7-2 6 11 7 11 7 13 6 11 7 15 6 9 7 0 6-10 7-12 6-3 7 4 6-9 7 5 7 5 6-3 7 22 6 2 7-10 6-13 7-2 6 8 7 9 6-6 7-2 7 18 6 15 7-12 6-11 7-14 6-16 7-10 6 1 7 11 6 18 7-8 6-25 7-24 7 9 6-9 7-7 6-1 7 19 6 2 7-9 6-10 7-10 6 11 7 28 7 40 6-12 7-6 6 8 7 1 6 4 7 8 6 12 7 10 6 2 7 4 7-6 6 22 7 26 6 9 7-35 6 0 7 24 6-8 7 1 6 12 7 2 7 2 6 20 7 10 6 8 7-1 6 6 7 2 6 2 7 8 6 1 7 67 7-69 6 3 7 27 6 18 7 13 6 2 7 17 6 8 7-1 6 12 7-15 7-10 6 19 7 4 6 5 7 8 6 11 7-7 6 5 7 83 6-87 7 17 6 13 7 4 7 53 6-40 7 4 6 1 7 11 6 26 7 8 6-19 7 16 6-18 7 1 7 28 6 40 7 2 6-40 7-2 6 23 7 34 6 4 7 4 6-17 7 48 7 10 6 15 7-24 6-37 7 50 6-29 7 14 6 32 7-18 6 11 7-51 7 37 6 22 7-6 6 27 7-29 6 16 7-43 6 109 7-68 6-8 7 4 7-23 6 42 7 10 6-63 7 56 6 24 7-7 6-21 7-56 6 1 7 22 7 0 6-61 7 9 6-3 7-26 6-12 7 23 6 33 7 76 6-6 7 10 6-12 7 38 7-29 6 22 7-18 6-39 7 99 6-77 7-14 6-39 7 25 6-32 7-20 7 15 6-31 7-5 6 14 7-25 6 15 7-17 6-16 7-4 6-8 7 17 7 61 6 11 7 33 6 21 7 27 6 0 7 11 6 47 7 1 6-92 7 66 7-34 6 28 7 34 6-55 7-26 6-1 7 20 6 11 7-72 6-34 7 18 7-19 6-18 7 8 6-14 7 8 6-10 7 50 6-21 7 63 6 15 7 9 7 4 6 49 7 10 6-2 7-13 6 1 7 19-38 33-6-4-7-19-6 11-7 17-6-49-7 42-6-8-7-15-7-64-6 50-7-58-6 76-7-6-6-37-7 28-6 5-7-2-6 2-7-16-7 15-6-35-7-19-6 1-7 39-6-90-7 22-6-25-7-5-6 21-7-48-6-16-7 8-7 24-6-18-7 4-6 17-7 7-6-34-7 45-6 6-7 8-6-4-7-38-7 43-6 27-7 10-6-12-7-42-6 34-7-17-6 6-7 25-6-43-7-25-7 15-6-8-7-27-6 13-7 27-6-21-7 66-6 10-7-28-6 27-7-5-7 18-6-58-7 53-6 3-7-1-6-22-7 21-6 8-7-39-6-2-7-14-7-38-6 24-7-12-6-57-7 41-6 2-7-33-6 6-7-23-6 38-7-14-7 12-6 7-7 24-6-46-7-7-6 7-7 7-6-24-7 45-6-35-7 34-6-22-7 4-7 20-6 25-7-6-6-38-7 68-6 7-7-6-6-46-7-50-6 34-7-68-7-7-6-2-7-16-6-22-7-10-6 6-7 12-6-6-7-36-6-35-7-5-7 12-6-16-7-5-6-13-7 10-6 11-7 10-6 9-7-15-6-6-7 1-7-11-6 6-7 1-6-13-7-16-6-10-7-6-6-6-7 8-6-4-7-3-7 17-6-23-7-14-6-3-7-15-6 14-7 8-6 10-7-43-6-10-7 5-7 10-6-37-7 4-6 29-7-32-6-12-7-3-6-12-7-6-6 7-7 13-6-31-7 17-7-11-6 1-7 40-6 33-7-13-6-21-7-7-6 7-7-2-6-5-7-21-7-24-6-20-7-15-6 16-7 6-6 11-7-19-6-7-7-18-6-14-7 4-7 19-6 35-7 21-6-31-7-34-6-18-7 0-6 3-7 20-6 22-7 3-7-29-6-30-7-21-6-3-7 15-6 14-7 21-6 47-7 18-6-44-7-42-7-10-6-18-7-2-6 23-7 15-6 30-7 39-6 38-7-21-6-38-7-41-7-17-6-6-7-8-6-9-7 2-6 39-7 31-6 11-7-5-6-22-7-22-6-22-7-22-7-10-6-1-7 5-6 16-7 26-6 31-7 13-6 17-7 10-6-3-7-26-7-8-6-6-7-19-6-13-7-7-6-4-7-9-6 19-7 9-6 3-7 28-7 11-6 7-7-19-6-18-7-23-6-16-7-4-6-7-7-8-6-6-7 2-7 5-6 5-7 2-6 1-7 0-6 3-7 5-6 5-7-4-6-7-7-12-7-9-6-9-7-5-6 0-7-3-6-1-7-1-6-3-7-2-6-4-7-4-7-3-6-7-7-7-6-4-7-4-6-4-7-5-6-4-7-2-6-1-7-2-6-1-7-2-7-2-6-2-7-3-6-3-7-3-6-4-7-4-6-4-7-3-6-3-7-2-7-2-6-1-7 0-6 0-7 0-6 0-7 0-6 0-7 0-6-1-7-1-7 1-6 1-7 0-6 1-7 1-6 1-7 2-6 2-7 2-6 3-7 2-7 3-6 2-7 1-6 1-7 1-6 0-7-1-6-1-7-4-6-4-7-4-7-4-6-4-7-3-6-3-7-3-6-2-7-2-6-2-7-2-6-3-7-2-6-3-7-3-7-2-6-3-7-2-6-2-7-2-6-2-7 0-6-1-7 0-6 1-7 1-7 0-6 1-7 0-6 0-7-1-6-1-7-1-6-2-7-2-6-3-7-2-7-2-6-2-7-2-6-1-7-2-6-1-7-1-6-2-7-1-6-2-7-2-7-3-6-4-7-4-6-4-7-4-6-3-7-4-6-3-7-2-6-2-7-1-7-1-6-2-7-1-6-2-7-2-6-2-7-2-6-2-7-3-6-4-7-3-7-4-6-3-7-4z"/>
<path fill="url(#g40)" stroke="url(#g40)" d="M2050 1484l7 67 7-69 6 3-37 58-7-43-6-10-7 5z"/>
<path fill="url(#g41)" stroke="url(#g41)" d="M2469 1838l7-43 6 109 7-68-38-44-6 7-7 24-6-46z"/>
<path fill="url(#g42)" stroke="url(#g42)" d="M2522 1861l6-63 7 56 6 24 7-7-38-51-6-57-7 41-6 2-7-33z"/>
<path fill="url(#g43)" stroke="url(#g43)" d="M2986 1749l7 50 6-21 7 63 6 15-37 85-7-64-6 50-7-58-6 76z"/>
<path fill="#02235f" stroke="#02235f" stroke-width="2" d="M285 1046l7 4 6 3 7 4 7 3 6 4 7 3 6 2 7 2 6 2 7 2 6 2 7 1 6 2 7 1 7 1 6 2 7 2 6 3 7 4 6 3 7 4 6 4 7 4 6 4 7 3 7 2 6 2 7 1 6 2 7 1 6 1 7 2 6 1 7 2 6 2 7 2 7 2 6 3 7 2 6 2 7 1 6 1 7 1 6 0 7 0 6-1 7 0 7-1 6-1 7 0 6 1 7 0 6 2 7 2 6 2 7 2 6 3 7 2 7 3 6 3 7 2 6 3 7 2 6 2 7 2 6 2 7 3 6 3 7 3 6 4 7 4 7 4 6 4 7 4 6 1 7 1 6 0 7-1 6-1 7-1 6-2 7-3 7-2 6-3 7-2 6-2 7-2 6-1 7-1 6-1 7 0 6-1 7-1 7 1 6 1 7 0 6 0 7 0 6 0 7 0 6 0 7 0 6 1 7 2 7 2 6 3 7 3 6 4 7 4 6 4 7 3 6 3 7 3 6 2 7 2 7 2 6 1 7 2 6 1 7 2 6 4 7 5 6 4 7 4 6 4 7 7 6 7 7 3 7 4 6 4 7 2 6 3 7 1 6 1 7 3 6 0 7 5 6 9 7 9 7 12 6 7 7 4 6-5 7-5 6-3 7 0 6-1 7-2 6-5 7-5 7-2 6 6 7 8 6 7 7 4 6 16 7 23 6 18 7 19 6-7 7-11 7-28 6-3 7-9 6-19 7 9 6 4 7 7 6 13 7 19 6 6 7 8 7 26 6 3 7-10 6-17 7-13 6-31 7-26 6-16 7-5 6 1 7 10 7 22 6 22 7 22 6 22 7 5 6-11 7-31 6-39 7-2 6 9 7 8 6 6 7 17 7 41 6 38 7 21 6-38 7-39 6-30 7-15 6-23 7 2 6 18 7 10 7 42 6 44 7-18 6-47 7-21 6-14 7-15 6 3 7 21 6 30 7 29 7-3 6-22 7-20 6-3 7 0 6 18 7 34 6 31 7-21 6-35 7-19 7-4 6 14 7 18 6 7 7 19 6-11 7-6 6-16 7 15 6 20 7 24 7 21 6 5 7 2 6-7 7 7 6 21 7 13 6-33 7-40 6-1 7 11 7-17 6 31 7-13 6-7 7 6 6 12 7 3 6 12 7 32 6-29 7-4 6 37 7-10 7-5 6 10 7 43 6-10 7-8 6-14 7 15 6 3 7 14 6 23 7-17 7 3 6 4 7-8 6 6 7 6 6 10 7 16 6 13 7-1 6-6 7 11 7-1 6 6 7 15 6-9 7-10 6-11 7-10 6 13 7 5 6 16 7-12 7 5 6 35 7 36 6 6 7-12 6-6 7 10 6 22 7 16 6 2 7 7 7 68 6-34 7 50 6 46 7 6 6-7 7-68 6 38 7 6 6-25 7-20 7-4 6 22 7-34 6 35 7-45 6 24 7-7 6-7 7 7 6 46 7-24 6-7 7-12 7 14 6-38 7 23 6-6 7 33 6-2 7-41 6 57 7 12 6-24 7 38 7 14 6 2 7 39 6-8 7-21 6 22 7 1 6-3 7-53 6 58 7-18 7 5 6-27 7 28 6-10 7-66 6 21 7-27 6-13 7 27 6 8 7-15 7 25 6 43 7-25 6-6 7 17 6-34 7 42 6 12 7-10 6-27 7-43 7 38 6 4 7-8 6-6 7-45 6 34 7-7 6-17 7-4 6 18 7-24 7-8 6 16 7 48 6-21 7 5 6 25 7-22 6 90 7-39 6-1 7 19 6 35 7-15 7 16 6-2 7 2 6-5 7-28 6 37 7 6 6-76 7 58 6-50 7 64 7 15 6 8 7-42 6 49 7-17 6-11 7 19 6 4 0 17-6-1-7 0-6 0-7-1-6 0-7-1-6 0-7 0-7-1-6 0-7-1-6 0-7 0-6-1-7 0-6-1-7 0-6 0-7-1-7 0-6 0-7-1-6 0-7-1-6 0-7 0-6-1-7 0-6-1-7 0-6 0-7-1-7 0-6-1-7 0-6 0-7-1-6 0-7-1-6 0-7 0-6-1-7 0-7 0-6-1-7 0-6-1-7 0-6 0-7-1-6 0-7-1-6 0-7 0-7-1-6 0-7-1-6 0-7 0-6-1-7 0-6-1-7 0-6 0-7-1-7 0-6-1-7 0-6 0-7-1-6 0-7 0-6-1-7 0-6-1-7 0-7 0-6-1-7 0-6-1-7 0-6 0-7-1-6 0-7-1-6 0-7 0-7-1-6 0-7-1-6 0-7 0-6-1-7 0-6 0-7-1-6 0-7-1-6 0-7 0-7-1-6 0-7-1-6 0-7 0-6-1-7 0-6-1-7 0-6 0-7-1-7 0-6-1-7 0-6 0-7-1-6 0-7 0-6-1-7 0-6-1-7 0-7 0-6-1-7 0-6-1-7 0-6 0-7-1-6 0-7-1-6 0-7 0-7-1-6 0-7-1-6 0-7 0-6-1-7 0-6 0-7-1-6 0-7-1-7 0-6 0-7-1-6 0-7-1-6 0-7 0-6-1-7 0-6-1-7 0-7 0-6-1-7 0-6-1-7 0-6 0-7-1-6 0-7 0-6-1-7 0-6-1-7 0-7 0-6-1-7 0-6-1-7 0-6 0-7-1-6 0-7-1-6 0-7 0-7-1-6 0-7-1-6 0-7 0-6-1-7 0-6 0-7-1-6 0-7-1-7 0-6 0-7-1-6 0-7-1-6 0-7 0-6-1-7 0-6-1-7 0-7 0-6-1-7 0-6-1-7 0-6 0-7-1-6 0-7 0-6-1-7 0-7-1-6 0-7 0-6-1-7 0-6-1-7 0-6 0-7-1-6 0-7-1-7 0-6 0-7-1-6 0-7-1-6 0-7 0-6-1-7 0-6 0-7-1-6 0-7-1-7 0-6 0-7-1-6 0-7-1-6 0-7 0-6-1-7 0-6-1-7 0-7 0-6-1-7 0-6-1-7 0-6 0-7-1-6 0-7-1-6 0-7 0-7-1-6 0-7 0-6-1-7 0-6-1-7 0-6 0-7-1-6 0-7-1-7 0-6 0-7-1-6 0-7-1-6 0-7 0-6-1-7 0-6-1-7 0-7 0-6-1-7 0-6 0-7-1-6 0-7-1-6 0-7 0-6-1-7 0-7-1-6 0-7 0-6-1-7 0-6-1-7 0-6 0-7-1-6 0-7-1-6 0-7 0-7-1-6 0-7 0-6-1-7 0-6-1-7 0-6 0-7-1-6 0-7-1-7 0-6 0-7-1-6 0-7-1-6 0-7 0-6-1-7 0-6-1-7 0-7 0-6-1-7 0-6 0-7-1-6 0-7-1-6 0-7 0-6-1-7 0-7-1-6 0-7 0-6-1-7 0-6-1-7 0-6 0-7-1-6 0-7-1-7 0-6 0-7-1-6 0-7 0-6-1-7 0-6-1-7 0-6 0-7-1-6 0-7-1-7 0-6 0-7-1-6 0-7-1-6 0-7 0-6-1-7 0-6-1-7 0-7 0-6-1-7 0-6 0-7-1-6 0-7-1-6 0-7 0-6-1-7 0-7-1-6 0-7 0-6-1-7 0-6-1-7 0-6 0-7-1-6 0-7-1-7 0-6 0-7-1-6 0-7 0-6-1-7 0-6-1-7 0-6 0-7-1-7 0-6-1-7 0-6 0-7-1-6 0-7-1-6 0-7 0-6-1-7 0-7-1-6 0-7 0z"/>
</g>
<path d="M62 462.5L62 197M62 462.5L764 504.5M62 462.5L40.4 461.2M62 409.4L40.4 408.1M62 356.3L40.4 355M62 303.2L40.4 301.9M62 250.1L40.4 248.8M62 197L40.4 195.7M132.7 466.7L115.2 481.4M228.5 472.5L211 487.1M324.4 478.2L306.9 492.9M451.2 485.8L433.6 500.4M547 491.5L529.5 506.2M642.9 497.3L625.4 511.9M738.8 503L721.3 517.6M764 504.5L785.2 505.8M782.7 488.8L803.9 490.1M801.4 473.2L822.6 474.4M820.1 457.5L841.3 458.8M838.8 441.9L860 443.1M857.5 426.2L878.7 427.5M876.2 410.5L897.4 411.8M894.9 394.9L916.1 396.1M913.6 379.2L934.8 380.5M932.3 363.6L953.5 364.8M951 347.9L972.2 349.2" stroke="#000" stroke-width="1" fill="none" shape-rendering="crispEdges"/>
<g font-size="9.6"><text x="34.5" y="462.2" text-anchor="end">50</text><text x="34.5" y="409.1" text-anchor="end">60</text><text x="34.5" y="356" text-anchor="end">70</text><text x="34.5" y="302.9" text-anchor="end">80</text><text x="34.5" y="249.8" text-anchor="end">90</text><text x="34.5" y="196.7" text-anchor="end">100</text><text x="112.2" y="494.2" text-anchor="end">250</text><text x="208" y="499.9" text-anchor="end">500</text><text x="303.9" y="505.7" text-anchor="end">1000</text><text x="430.6" y="513.2" text-anchor="end">2500</text><text x="526.5" y="519" text-anchor="end">5000</text><text x="622.4" y="524.7" text-anchor="end">10000</text><text x="718.3" y="530.4" text-anchor="end">20000</text><text x="791.5" y="514.8">-100</text><text x="810.2" y="499.1">-80</text><text x="828.9" y="483.4">-60</text><text x="847.6" y="467.8">-40</text><text x="866.3" y="452.1">-20</text><text x="885" y="436.5">0</text><text x="903.7" y="420.8">20</text><text x="922.4" y="405.1">40</text><text x="941.1" y="389.5">60</text><text x="959.8" y="373.8">80</text><text x="978.5" y="358.2">100</text></g>
<text x="506.4" y="24.8" font-size="20" text-anchor="middle">Frequency Response +/- 90 degrees on axis</text>
<g font-size="13" font-weight="bold"><text x="324.5" y="524.8" text-anchor="middle">frequency</text><text x="930.5" y="450.5" text-anchor="middle">angle</text><text transform="translate(13 328) rotate(-90)" text-anchor="middle">amplitude</text></g>
</svg></body></html>
